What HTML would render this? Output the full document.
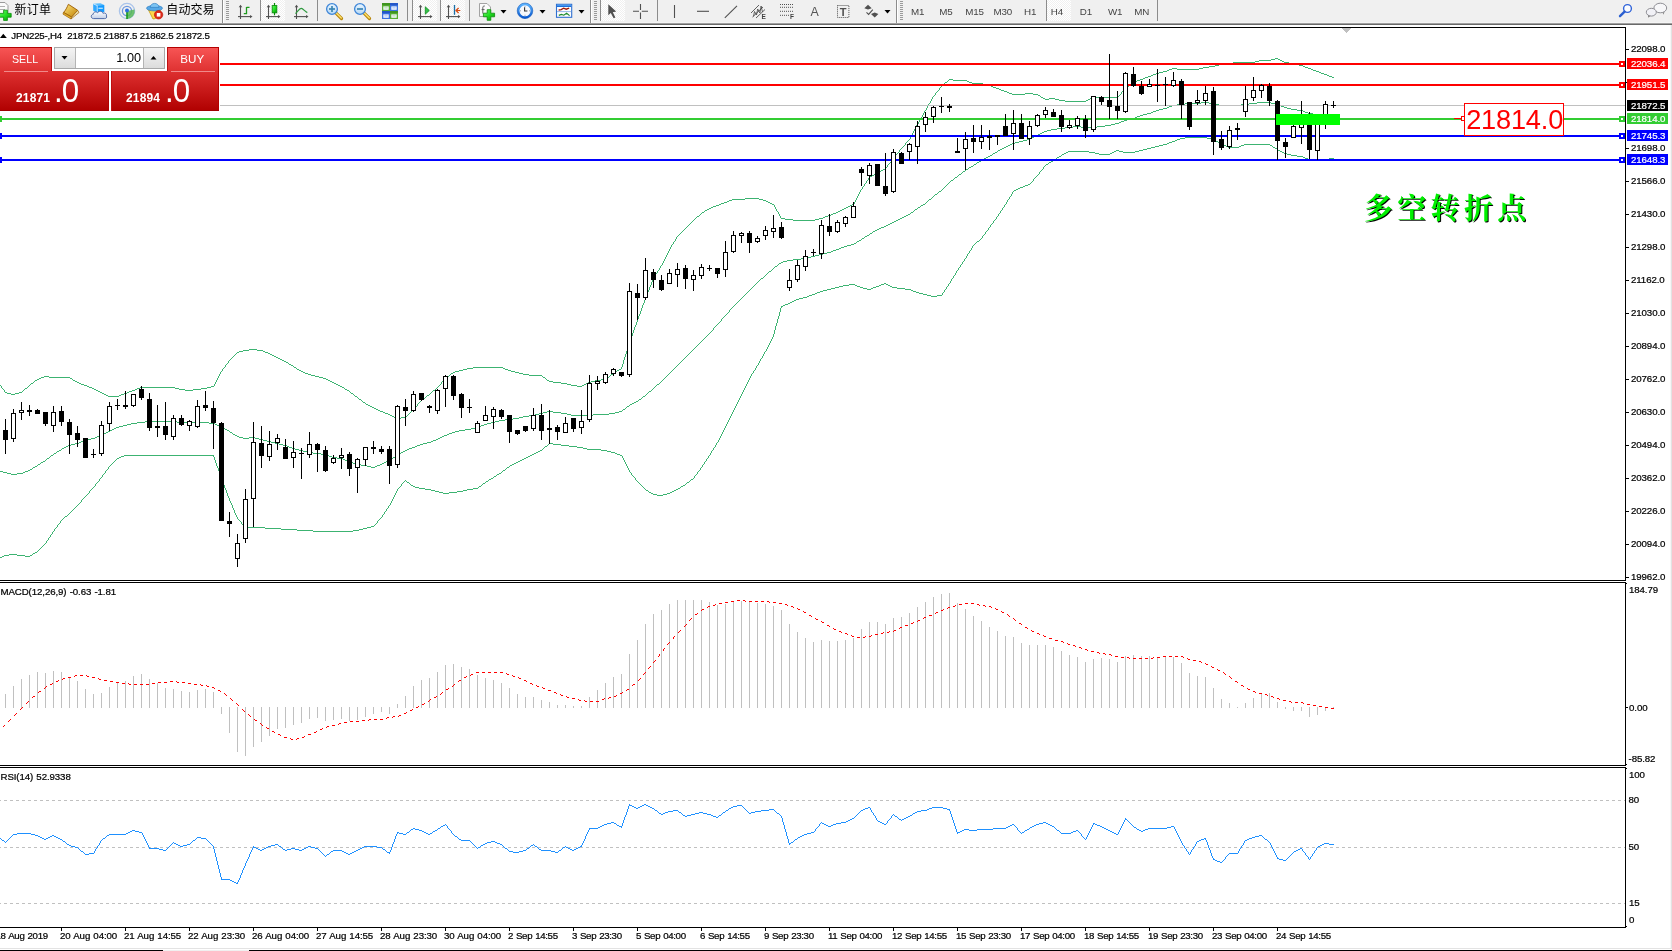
<!DOCTYPE html>
<html><head><meta charset="utf-8"><title>JPN225-,H4</title>
<style>
html,body{margin:0;padding:0;background:#fff;}
body{width:1672px;height:951px;position:relative;overflow:hidden;font-family:"Liberation Sans","Noto Sans CJK SC",sans-serif;}
svg.chart{position:absolute;left:0;top:0;}
.layer{position:absolute;left:0;top:0;width:1672px;height:951px;will-change:transform;}
.ax{position:absolute;font-size:9.7px;line-height:7px;height:7px;white-space:nowrap;color:#000;letter-spacing:-0.1px;word-spacing:0.6px;-webkit-text-stroke:0.22px currentColor;}
.ax::before{content:"";display:inline-block;height:7px;}
.wh{color:#fff;}
.big{position:absolute;left:1466.2px;top:106.6px;font-size:27.2px;line-height:26px;color:#ff0000;white-space:nowrap;letter-spacing:-0.2px;}
.cn{position:absolute;left:1364px;top:187.3px;font-family:"Noto Serif CJK SC","Noto Sans CJK SC",serif;font-weight:700;font-size:29px;line-height:40px;letter-spacing:4.3px;color:#00f000;text-shadow:1px 1px 0 #000;white-space:nowrap;}
svg.tb{position:absolute;left:0;top:0;}
svg.pn{position:absolute;left:0;top:47px;}
.tbt{position:absolute;white-space:nowrap;color:#000;}
.cn12{font-family:"Liberation Sans","Noto Sans CJK SC",sans-serif;font-size:12px;line-height:16px;letter-spacing:-0.2px;}
.tf{font-size:9.8px;line-height:7px;height:7px;color:#444;letter-spacing:-0.2px;}
.pt{position:absolute;white-space:nowrap;color:#fff;line-height:15px;}

</style></head><body>
<svg class="chart" width="1672" height="951" viewBox="0 0 1672 951" shape-rendering="crispEdges">
<rect x="0" y="27" width="1626" height="1" fill="#000"/>
<rect x="1625" y="27" width="1" height="901" fill="#000"/>
<rect x="0" y="580" width="1626" height="1" fill="#000"/>
<rect x="1625" y="581" width="1" height="1" fill="#fff"/>
<rect x="0" y="582" width="1626" height="1" fill="#000"/>
<rect x="0" y="765" width="1626" height="1" fill="#000"/>
<rect x="1625" y="766" width="1" height="1" fill="#fff"/>
<rect x="0" y="767" width="1626" height="1" fill="#000"/>
<rect x="0" y="927" width="1626" height="1" fill="#000"/>
<path d="M1275 58h3v1h-3zM1271 59h4v1h-4zM1278 59h2v1h-2zM1259 60h12v1h-12zM1280 60h2v1h-2zM1255 61h4v1h-4zM1282 61h2v1h-2zM1233 62h22v1h-22zM1284 62h5v1h-5zM1225 63h8v1h-8zM1289 63h6v1h-6zM1219 64h6v1h-6zM1295 64h4v1h-4zM1215 65h4v1h-4zM1299 65h4v1h-4zM1209 66h6v1h-6zM1303 66h2v1h-2zM1203 67h6v1h-6zM1305 67h3v1h-3zM1172 68h5v1h-5zM1199 68h4v1h-4zM1308 68h3v1h-3zM1169 69h3v1h-3zM1177 69h22v1h-22zM1311 69h2v1h-2zM1167 70h2v1h-2zM1313 70h3v1h-3zM1163 71h4v1h-4zM1316 71h3v1h-3zM1159 72h4v1h-4zM1319 72h2v1h-2zM1156 73h3v1h-3zM1321 73h3v1h-3zM1153 74h3v1h-3zM1324 74h3v1h-3zM1151 75h2v1h-2zM1327 75h2v1h-2zM1148 76h3v1h-3zM1329 76h3v1h-3zM1145 77h3v1h-3zM1332 77h2v1h-2zM1143 78h2v1h-2zM949 79h4v1h-4zM1140 79h3v1h-3zM948 80h1v1h-1zM953 80h14v1h-14zM1137 80h3v1h-3zM947 81h1v1h-1zM967 81h2v1h-2zM1135 81h2v1h-2zM945 82h2v1h-2zM969 82h3v1h-3zM1133 82h2v1h-2zM944 83h1v1h-1zM972 83h11v1h-11zM1131 83h2v1h-2zM943 84h1v1h-1zM983 84h4v1h-4zM1130 84h1v1h-1zM942 85h1v1h-1zM987 85h4v1h-4zM1129 85h1v1h-1zM941 86h1v1h-1zM991 86h2v1h-2zM1127 86h2v1h-2zM940 87h1v1h-1zM993 87h3v1h-3zM1126 87h1v1h-1zM939 88h1v1h-1zM996 88h3v1h-3zM1125 88h1v1h-1zM939 89h1v1h-1zM999 89h2v1h-2zM1124 89h1v1h-1zM938 90h1v1h-1zM1001 90h3v1h-3zM1123 90h1v1h-1zM937 91h1v1h-1zM1004 91h3v1h-3zM1122 91h1v1h-1zM936 92h1v1h-1zM1007 92h2v1h-2zM1121 92h1v1h-1zM935 93h1v1h-1zM1009 93h3v1h-3zM1025 93h8v1h-8zM1121 93h1v1h-1zM935 94h1v1h-1zM1012 94h13v1h-13zM1033 94h5v1h-5zM1120 94h1v1h-1zM934 95h1v1h-1zM1038 95h2v1h-2zM1119 95h1v1h-1zM933 96h1v1h-1zM1040 96h1v1h-1zM1118 96h1v1h-1zM932 97h1v1h-1zM1041 97h2v1h-2zM1092 97h26v1h-26zM932 98h1v1h-1zM1043 98h2v1h-2zM1049 98h6v1h-6zM1090 98h2v1h-2zM931 99h1v1h-1zM1045 99h4v1h-4zM1055 99h4v1h-4zM1088 99h2v1h-2zM931 100h1v1h-1zM1059 100h6v1h-6zM1086 100h2v1h-2zM930 101h1v1h-1zM1065 101h21v1h-21zM930 102h1v1h-1zM929 103h1v1h-1zM928 104h1v1h-1zM928 105h1v1h-1zM927 106h1v1h-1zM927 107h1v1h-1zM926 108h1v1h-1zM926 109h1v1h-1zM925 110h1v1h-1zM924 111h1v1h-1zM924 112h1v1h-1zM923 113h1v1h-1zM923 114h1v1h-1zM922 115h1v1h-1zM922 116h1v1h-1zM921 117h1v1h-1zM920 118h1v1h-1zM920 119h1v1h-1zM919 120h1v1h-1zM919 121h1v1h-1zM918 122h1v1h-1zM918 123h1v1h-1zM917 124h1v1h-1zM916 125h1v1h-1zM916 126h1v1h-1zM915 127h1v1h-1zM915 128h1v1h-1zM914 129h1v1h-1zM914 130h1v1h-1zM913 131h1v1h-1zM913 132h1v1h-1zM912 133h1v1h-1zM912 134h1v1h-1zM911 135h1v1h-1zM911 136h1v1h-1zM910 137h1v1h-1zM910 138h1v1h-1zM909 139h1v1h-1zM908 140h1v1h-1zM907 141h1v1h-1zM906 142h1v1h-1zM905 143h1v1h-1zM905 144h1v1h-1zM904 145h1v1h-1zM903 146h1v1h-1zM902 147h1v1h-1zM901 148h1v1h-1zM900 149h1v1h-1zM899 150h1v1h-1zM899 151h1v1h-1zM898 152h1v1h-1zM897 153h1v1h-1zM896 154h1v1h-1zM895 155h1v1h-1zM895 156h1v1h-1zM894 157h1v1h-1zM893 158h1v1h-1zM892 159h1v1h-1zM891 160h1v1h-1zM891 161h1v1h-1zM890 162h1v1h-1zM889 163h1v1h-1zM888 164h1v1h-1zM887 165h1v1h-1zM887 166h1v1h-1zM886 167h1v1h-1zM885 168h1v1h-1zM883 169h2v1h-2zM881 170h2v1h-2zM880 171h1v1h-1zM878 172h2v1h-2zM876 173h2v1h-2zM874 174h2v1h-2zM872 175h2v1h-2zM870 176h2v1h-2zM869 177h1v1h-1zM868 178h1v1h-1zM868 179h1v1h-1zM867 180h1v1h-1zM866 181h1v1h-1zM866 182h1v1h-1zM865 183h1v1h-1zM864 184h1v1h-1zM864 185h1v1h-1zM863 186h1v1h-1zM862 187h1v1h-1zM862 188h1v1h-1zM861 189h1v1h-1zM860 190h1v1h-1zM860 191h1v1h-1zM859 192h1v1h-1zM859 193h1v1h-1zM858 194h1v1h-1zM858 195h1v1h-1zM857 196h1v1h-1zM857 197h1v1h-1zM745 198h14v1h-14zM856 198h1v1h-1zM732 199h13v1h-13zM759 199h4v1h-4zM856 199h1v1h-1zM729 200h3v1h-3zM763 200h3v1h-3zM855 200h1v1h-1zM727 201h2v1h-2zM766 201h2v1h-2zM855 201h1v1h-1zM724 202h3v1h-3zM768 202h2v1h-2zM854 202h1v1h-1zM721 203h3v1h-3zM770 203h2v1h-2zM854 203h1v1h-1zM719 204h2v1h-2zM772 204h2v1h-2zM852 204h2v1h-2zM716 205h3v1h-3zM774 205h1v1h-1zM850 205h2v1h-2zM713 206h3v1h-3zM774 206h1v1h-1zM848 206h2v1h-2zM711 207h2v1h-2zM775 207h1v1h-1zM846 207h2v1h-2zM709 208h2v1h-2zM775 208h1v1h-1zM844 208h2v1h-2zM707 209h2v1h-2zM776 209h1v1h-1zM842 209h2v1h-2zM705 210h2v1h-2zM776 210h1v1h-1zM840 210h2v1h-2zM704 211h1v1h-1zM777 211h1v1h-1zM838 211h2v1h-2zM702 212h2v1h-2zM778 212h1v1h-1zM836 212h2v1h-2zM701 213h1v1h-1zM778 213h1v1h-1zM833 213h3v1h-3zM700 214h1v1h-1zM779 214h1v1h-1zM831 214h2v1h-2zM699 215h1v1h-1zM779 215h1v1h-1zM828 215h3v1h-3zM697 216h2v1h-2zM780 216h1v1h-1zM825 216h3v1h-3zM696 217h1v1h-1zM780 217h1v1h-1zM823 217h2v1h-2zM695 218h1v1h-1zM781 218h4v1h-4zM819 218h4v1h-4zM694 219h1v1h-1zM785 219h8v1h-8zM815 219h4v1h-4zM693 220h1v1h-1zM793 220h22v1h-22zM692 221h1v1h-1zM691 222h1v1h-1zM690 223h1v1h-1zM689 224h1v1h-1zM688 225h1v1h-1zM687 226h1v1h-1zM686 227h1v1h-1zM685 228h1v1h-1zM684 229h1v1h-1zM683 230h1v1h-1zM682 231h1v1h-1zM681 232h1v1h-1zM680 233h1v1h-1zM679 234h1v1h-1zM678 235h1v1h-1zM677 236h1v1h-1zM676 237h1v1h-1zM676 238h1v1h-1zM675 239h1v1h-1zM675 240h1v1h-1zM674 241h1v1h-1zM673 242h1v1h-1zM673 243h1v1h-1zM672 244h1v1h-1zM671 245h1v1h-1zM671 246h1v1h-1zM670 247h1v1h-1zM670 248h1v1h-1zM669 249h1v1h-1zM669 250h1v1h-1zM668 251h1v1h-1zM668 252h1v1h-1zM667 253h1v1h-1zM667 254h1v1h-1zM666 255h1v1h-1zM666 256h1v1h-1zM665 257h1v1h-1zM665 258h1v1h-1zM664 259h1v1h-1zM664 260h1v1h-1zM663 261h1v1h-1zM663 262h1v1h-1zM662 263h1v1h-1zM662 264h1v1h-1zM661 265h1v1h-1zM660 266h1v1h-1zM660 267h1v1h-1zM659 268h1v1h-1zM659 269h1v1h-1zM658 270h1v1h-1zM657 271h1v1h-1zM657 272h1v1h-1zM656 273h1v1h-1zM655 274h1v1h-1zM655 275h1v1h-1zM654 276h1v1h-1zM654 277h1v1h-1zM653 278h1v1h-1zM653 279h1v1h-1zM652 280h1v1h-1zM652 281h1v1h-1zM651 282h1v1h-1zM651 283h1v1h-1zM651 284h1v1h-1zM650 285h1v1h-1zM650 286h1v1h-1zM649 287h1v1h-1zM649 288h1v1h-1zM649 289h1v1h-1zM648 290h1v1h-1zM648 291h1v1h-1zM647 292h1v1h-1zM647 293h1v1h-1zM647 294h1v1h-1zM646 295h1v1h-1zM646 296h1v1h-1zM645 297h1v1h-1zM645 298h1v1h-1zM645 299h1v1h-1zM644 300h1v1h-1zM644 301h1v1h-1zM644 302h1v1h-1zM643 303h1v1h-1zM643 304h1v1h-1zM642 305h1v1h-1zM642 306h1v1h-1zM642 307h1v1h-1zM641 308h1v1h-1zM641 309h1v1h-1zM641 310h1v1h-1zM640 311h1v1h-1zM640 312h1v1h-1zM640 313h1v1h-1zM639 314h1v1h-1zM639 315h1v1h-1zM638 316h1v1h-1zM638 317h1v1h-1zM638 318h1v1h-1zM637 319h1v1h-1zM637 320h1v1h-1zM637 321h1v1h-1zM636 322h1v1h-1zM636 323h1v1h-1zM636 324h1v1h-1zM635 325h1v1h-1zM635 326h1v1h-1zM634 327h1v1h-1zM634 328h1v1h-1zM634 329h1v1h-1zM633 330h1v1h-1zM633 331h1v1h-1zM633 332h1v1h-1zM632 333h1v1h-1zM632 334h1v1h-1zM632 335h1v1h-1zM631 336h1v1h-1zM631 337h1v1h-1zM630 338h1v1h-1zM630 339h1v1h-1zM630 340h1v1h-1zM629 341h1v1h-1zM629 342h1v1h-1zM629 343h1v1h-1zM628 344h1v1h-1zM628 345h1v1h-1zM628 346h1v1h-1zM627 347h1v1h-1zM627 348h1v1h-1zM249 349h8v1h-8zM627 349h1v1h-1zM243 350h6v1h-6zM257 350h6v1h-6zM627 350h1v1h-1zM239 351h4v1h-4zM263 351h2v1h-2zM626 351h1v1h-1zM237 352h2v1h-2zM265 352h3v1h-3zM626 352h1v1h-1zM236 353h1v1h-1zM268 353h2v1h-2zM626 353h1v1h-1zM235 354h1v1h-1zM270 354h2v1h-2zM625 354h1v1h-1zM234 355h1v1h-1zM272 355h2v1h-2zM625 355h1v1h-1zM233 356h1v1h-1zM274 356h2v1h-2zM625 356h1v1h-1zM232 357h1v1h-1zM276 357h2v1h-2zM624 357h1v1h-1zM231 358h1v1h-1zM278 358h2v1h-2zM624 358h1v1h-1zM230 359h1v1h-1zM280 359h2v1h-2zM624 359h1v1h-1zM229 360h1v1h-1zM282 360h2v1h-2zM623 360h1v1h-1zM228 361h1v1h-1zM284 361h2v1h-2zM623 361h1v1h-1zM228 362h1v1h-1zM286 362h2v1h-2zM623 362h1v1h-1zM227 363h1v1h-1zM288 363h1v1h-1zM623 363h1v1h-1zM226 364h1v1h-1zM289 364h2v1h-2zM622 364h1v1h-1zM225 365h1v1h-1zM291 365h2v1h-2zM622 365h1v1h-1zM225 366h1v1h-1zM293 366h1v1h-1zM622 366h1v1h-1zM224 367h1v1h-1zM294 367h2v1h-2zM473 367h30v1h-30zM621 367h1v1h-1zM223 368h1v1h-1zM296 368h1v1h-1zM467 368h6v1h-6zM503 368h2v1h-2zM621 368h1v1h-1zM222 369h1v1h-1zM297 369h2v1h-2zM463 369h4v1h-4zM505 369h3v1h-3zM619 369h2v1h-2zM222 370h1v1h-1zM299 370h2v1h-2zM459 370h4v1h-4zM508 370h3v1h-3zM617 370h2v1h-2zM221 371h1v1h-1zM301 371h2v1h-2zM455 371h4v1h-4zM511 371h4v1h-4zM616 371h1v1h-1zM220 372h1v1h-1zM303 372h2v1h-2zM453 372h2v1h-2zM515 372h4v1h-4zM614 372h2v1h-2zM220 373h1v1h-1zM305 373h3v1h-3zM451 373h2v1h-2zM519 373h4v1h-4zM613 373h1v1h-1zM219 374h1v1h-1zM308 374h3v1h-3zM450 374h1v1h-1zM523 374h6v1h-6zM611 374h2v1h-2zM219 375h1v1h-1zM311 375h4v1h-4zM449 375h1v1h-1zM529 375h13v1h-13zM610 375h1v1h-1zM44 376h5v1h-5zM218 376h1v1h-1zM315 376h4v1h-4zM447 376h2v1h-2zM542 376h1v1h-1zM609 376h1v1h-1zM41 377h3v1h-3zM49 377h21v1h-21zM218 377h1v1h-1zM319 377h4v1h-4zM446 377h1v1h-1zM543 377h2v1h-2zM607 377h2v1h-2zM39 378h2v1h-2zM70 378h2v1h-2zM217 378h1v1h-1zM323 378h3v1h-3zM445 378h1v1h-1zM545 378h1v1h-1zM606 378h1v1h-1zM37 379h2v1h-2zM72 379h1v1h-1zM217 379h1v1h-1zM326 379h2v1h-2zM444 379h1v1h-1zM546 379h1v1h-1zM601 379h5v1h-5zM35 380h2v1h-2zM73 380h2v1h-2zM216 380h1v1h-1zM328 380h2v1h-2zM443 380h1v1h-1zM547 380h2v1h-2zM595 380h6v1h-6zM34 381h1v1h-1zM75 381h2v1h-2zM216 381h1v1h-1zM330 381h2v1h-2zM442 381h1v1h-1zM549 381h4v1h-4zM591 381h4v1h-4zM33 382h1v1h-1zM77 382h2v1h-2zM215 382h1v1h-1zM332 382h2v1h-2zM441 382h1v1h-1zM553 382h8v1h-8zM588 382h3v1h-3zM31 383h2v1h-2zM79 383h2v1h-2zM215 383h1v1h-1zM334 383h2v1h-2zM441 383h1v1h-1zM561 383h6v1h-6zM586 383h2v1h-2zM30 384h1v1h-1zM81 384h3v1h-3zM214 384h1v1h-1zM336 384h2v1h-2zM440 384h1v1h-1zM567 384h4v1h-4zM584 384h2v1h-2zM0 385h1v1h-1zM29 385h1v1h-1zM84 385h3v1h-3zM214 385h1v1h-1zM338 385h2v1h-2zM439 385h1v1h-1zM571 385h6v1h-6zM582 385h2v1h-2zM1 386h1v1h-1zM28 386h1v1h-1zM87 386h2v1h-2zM211 386h3v1h-3zM340 386h2v1h-2zM438 386h1v1h-1zM577 386h5v1h-5zM1 387h1v1h-1zM27 387h1v1h-1zM89 387h3v1h-3zM140 387h35v1h-35zM207 387h4v1h-4zM342 387h2v1h-2zM437 387h1v1h-1zM2 388h1v1h-1zM25 388h2v1h-2zM92 388h2v1h-2zM137 388h3v1h-3zM175 388h4v1h-4zM201 388h6v1h-6zM344 388h1v1h-1zM436 388h1v1h-1zM3 389h1v1h-1zM24 389h1v1h-1zM94 389h2v1h-2zM135 389h2v1h-2zM179 389h6v1h-6zM193 389h8v1h-8zM345 389h2v1h-2zM435 389h1v1h-1zM4 390h1v1h-1zM23 390h1v1h-1zM96 390h2v1h-2zM132 390h3v1h-3zM185 390h8v1h-8zM347 390h2v1h-2zM433 390h2v1h-2zM4 391h1v1h-1zM22 391h1v1h-1zM98 391h2v1h-2zM129 391h3v1h-3zM349 391h1v1h-1zM432 391h1v1h-1zM5 392h2v1h-2zM19 392h3v1h-3zM100 392h2v1h-2zM127 392h2v1h-2zM350 392h1v1h-1zM431 392h1v1h-1zM7 393h4v1h-4zM15 393h4v1h-4zM102 393h2v1h-2zM124 393h3v1h-3zM351 393h2v1h-2zM430 393h1v1h-1zM11 394h4v1h-4zM104 394h2v1h-2zM121 394h3v1h-3zM353 394h1v1h-1zM429 394h1v1h-1zM106 395h2v1h-2zM119 395h2v1h-2zM354 395h1v1h-1zM427 395h2v1h-2zM108 396h11v1h-11zM355 396h2v1h-2zM426 396h1v1h-1zM357 397h1v1h-1zM425 397h1v1h-1zM358 398h1v1h-1zM423 398h2v1h-2zM359 399h2v1h-2zM422 399h1v1h-1zM361 400h1v1h-1zM421 400h1v1h-1zM362 401h1v1h-1zM420 401h1v1h-1zM363 402h2v1h-2zM419 402h1v1h-1zM365 403h1v1h-1zM418 403h1v1h-1zM366 404h2v1h-2zM417 404h1v1h-1zM368 405h2v1h-2zM417 405h1v1h-1zM370 406h2v1h-2zM416 406h1v1h-1zM372 407h2v1h-2zM415 407h1v1h-1zM374 408h2v1h-2zM414 408h1v1h-1zM376 409h2v1h-2zM413 409h1v1h-1zM378 410h2v1h-2zM412 410h1v1h-1zM380 411h3v1h-3zM411 411h1v1h-1zM383 412h2v1h-2zM410 412h1v1h-1zM385 413h3v1h-3zM409 413h1v1h-1zM388 414h2v1h-2zM408 414h1v1h-1zM390 415h2v1h-2zM407 415h1v1h-1zM392 416h2v1h-2zM406 416h1v1h-1zM394 417h2v1h-2zM401 417h5v1h-5zM396 418h5v1h-5z" fill="#3cb371"/>
<path d="M1201 102h8v1h-8zM1257 102h14v1h-14zM1185 103h16v1h-16zM1209 103h6v1h-6zM1249 103h8v1h-8zM1271 103h4v1h-4zM1177 104h8v1h-8zM1215 104h4v1h-4zM1241 104h8v1h-8zM1275 104h4v1h-4zM1172 105h5v1h-5zM1219 105h22v1h-22zM1279 105h2v1h-2zM1169 106h3v1h-3zM1281 106h3v1h-3zM1167 107h2v1h-2zM1284 107h3v1h-3zM1163 108h4v1h-4zM1287 108h4v1h-4zM1159 109h4v1h-4zM1291 109h6v1h-6zM1156 110h3v1h-3zM1297 110h6v1h-6zM1153 111h3v1h-3zM1303 111h2v1h-2zM1151 112h2v1h-2zM1305 112h3v1h-3zM1147 113h4v1h-4zM1308 113h5v1h-5zM1143 114h4v1h-4zM1313 114h8v1h-8zM1140 115h3v1h-3zM1321 115h8v1h-8zM1137 116h3v1h-3zM1329 116h5v1h-5zM1135 117h2v1h-2zM1131 118h4v1h-4zM1127 119h4v1h-4zM1124 120h3v1h-3zM1121 121h3v1h-3zM1119 122h2v1h-2zM1115 123h4v1h-4zM1111 124h4v1h-4zM1105 125h6v1h-6zM1073 126h8v1h-8zM1097 126h8v1h-8zM1065 127h8v1h-8zM1081 127h16v1h-16zM1057 128h8v1h-8zM1051 129h6v1h-6zM1047 130h4v1h-4zM1044 131h3v1h-3zM1042 132h2v1h-2zM1040 133h2v1h-2zM1038 134h2v1h-2zM1036 135h2v1h-2zM1034 136h2v1h-2zM1032 137h2v1h-2zM1030 138h2v1h-2zM1027 139h3v1h-3zM1023 140h4v1h-4zM1019 141h4v1h-4zM1015 142h4v1h-4zM1012 143h3v1h-3zM1010 144h2v1h-2zM1008 145h2v1h-2zM1006 146h2v1h-2zM1004 147h2v1h-2zM1002 148h2v1h-2zM1000 149h2v1h-2zM998 150h2v1h-2zM997 151h1v1h-1zM995 152h2v1h-2zM993 153h2v1h-2zM992 154h1v1h-1zM990 155h2v1h-2zM988 156h2v1h-2zM986 157h2v1h-2zM984 158h2v1h-2zM982 159h2v1h-2zM981 160h1v1h-1zM979 161h2v1h-2zM977 162h2v1h-2zM976 163h1v1h-1zM974 164h2v1h-2zM973 165h1v1h-1zM971 166h2v1h-2zM969 167h2v1h-2zM968 168h1v1h-1zM966 169h2v1h-2zM965 170h1v1h-1zM963 171h2v1h-2zM962 172h1v1h-1zM961 173h1v1h-1zM959 174h2v1h-2zM958 175h1v1h-1zM957 176h1v1h-1zM955 177h2v1h-2zM954 178h1v1h-1zM953 179h1v1h-1zM951 180h2v1h-2zM950 181h1v1h-1zM949 182h1v1h-1zM948 183h1v1h-1zM947 184h1v1h-1zM946 185h1v1h-1zM945 186h1v1h-1zM944 187h1v1h-1zM943 188h1v1h-1zM942 189h1v1h-1zM941 190h1v1h-1zM939 191h2v1h-2zM938 192h1v1h-1zM937 193h1v1h-1zM935 194h2v1h-2zM934 195h1v1h-1zM933 196h1v1h-1zM932 197h1v1h-1zM931 198h1v1h-1zM929 199h2v1h-2zM928 200h1v1h-1zM927 201h1v1h-1zM926 202h1v1h-1zM925 203h1v1h-1zM923 204h2v1h-2zM921 205h2v1h-2zM920 206h1v1h-1zM918 207h2v1h-2zM917 208h1v1h-1zM915 209h2v1h-2zM914 210h1v1h-1zM913 211h1v1h-1zM911 212h2v1h-2zM910 213h1v1h-1zM908 214h2v1h-2zM906 215h2v1h-2zM904 216h2v1h-2zM902 217h2v1h-2zM900 218h2v1h-2zM898 219h2v1h-2zM896 220h2v1h-2zM894 221h2v1h-2zM892 222h2v1h-2zM890 223h2v1h-2zM888 224h2v1h-2zM886 225h2v1h-2zM884 226h2v1h-2zM881 227h3v1h-3zM879 228h2v1h-2zM877 229h2v1h-2zM875 230h2v1h-2zM873 231h2v1h-2zM872 232h1v1h-1zM870 233h2v1h-2zM869 234h1v1h-1zM867 235h2v1h-2zM865 236h2v1h-2zM864 237h1v1h-1zM862 238h2v1h-2zM861 239h1v1h-1zM859 240h2v1h-2zM857 241h2v1h-2zM856 242h1v1h-1zM854 243h2v1h-2zM851 244h3v1h-3zM847 245h4v1h-4zM844 246h3v1h-3zM841 247h3v1h-3zM839 248h2v1h-2zM836 249h3v1h-3zM833 250h3v1h-3zM831 251h2v1h-2zM827 252h4v1h-4zM823 253h4v1h-4zM819 254h4v1h-4zM815 255h4v1h-4zM811 256h4v1h-4zM807 257h4v1h-4zM801 258h6v1h-6zM793 259h8v1h-8zM787 260h6v1h-6zM783 261h4v1h-4zM781 262h2v1h-2zM779 263h2v1h-2zM778 264h1v1h-1zM777 265h1v1h-1zM775 266h2v1h-2zM774 267h1v1h-1zM773 268h1v1h-1zM772 269h1v1h-1zM771 270h1v1h-1zM769 271h2v1h-2zM768 272h1v1h-1zM767 273h1v1h-1zM766 274h1v1h-1zM765 275h1v1h-1zM764 276h1v1h-1zM763 277h1v1h-1zM761 278h2v1h-2zM760 279h1v1h-1zM759 280h1v1h-1zM758 281h1v1h-1zM757 282h1v1h-1zM756 283h1v1h-1zM755 284h1v1h-1zM754 285h1v1h-1zM753 286h1v1h-1zM752 287h1v1h-1zM751 288h1v1h-1zM750 289h1v1h-1zM749 290h1v1h-1zM748 291h1v1h-1zM747 292h1v1h-1zM746 293h1v1h-1zM745 294h1v1h-1zM744 295h1v1h-1zM743 296h1v1h-1zM742 297h1v1h-1zM741 298h1v1h-1zM740 299h1v1h-1zM739 300h1v1h-1zM738 301h1v1h-1zM737 302h1v1h-1zM736 303h1v1h-1zM735 304h1v1h-1zM734 305h1v1h-1zM733 306h1v1h-1zM732 307h1v1h-1zM731 308h1v1h-1zM730 309h1v1h-1zM729 310h1v1h-1zM729 311h1v1h-1zM728 312h1v1h-1zM727 313h1v1h-1zM726 314h1v1h-1zM725 315h1v1h-1zM724 316h1v1h-1zM723 317h1v1h-1zM722 318h1v1h-1zM721 319h1v1h-1zM721 320h1v1h-1zM720 321h1v1h-1zM719 322h1v1h-1zM718 323h1v1h-1zM717 324h1v1h-1zM716 325h1v1h-1zM715 326h1v1h-1zM714 327h1v1h-1zM713 328h1v1h-1zM713 329h1v1h-1zM712 330h1v1h-1zM711 331h1v1h-1zM710 332h1v1h-1zM709 333h1v1h-1zM708 334h1v1h-1zM707 335h1v1h-1zM706 336h1v1h-1zM705 337h1v1h-1zM704 338h1v1h-1zM703 339h1v1h-1zM702 340h1v1h-1zM701 341h1v1h-1zM700 342h1v1h-1zM699 343h1v1h-1zM698 344h1v1h-1zM697 345h1v1h-1zM696 346h1v1h-1zM695 347h1v1h-1zM694 348h1v1h-1zM693 349h1v1h-1zM692 350h1v1h-1zM691 351h1v1h-1zM690 352h1v1h-1zM689 353h1v1h-1zM688 354h1v1h-1zM687 355h1v1h-1zM686 356h1v1h-1zM685 357h1v1h-1zM684 358h1v1h-1zM683 359h1v1h-1zM682 360h1v1h-1zM681 361h1v1h-1zM680 362h1v1h-1zM679 363h1v1h-1zM678 364h1v1h-1zM677 365h1v1h-1zM676 366h1v1h-1zM675 367h1v1h-1zM674 368h1v1h-1zM673 369h1v1h-1zM672 370h1v1h-1zM671 371h1v1h-1zM670 372h1v1h-1zM669 373h1v1h-1zM668 374h1v1h-1zM667 375h1v1h-1zM666 376h1v1h-1zM665 377h1v1h-1zM664 378h1v1h-1zM663 379h1v1h-1zM662 380h1v1h-1zM661 381h1v1h-1zM660 382h1v1h-1zM659 383h1v1h-1zM657 384h2v1h-2zM656 385h1v1h-1zM655 386h1v1h-1zM654 387h1v1h-1zM653 388h1v1h-1zM652 389h1v1h-1zM651 390h1v1h-1zM649 391h2v1h-2zM648 392h1v1h-1zM647 393h1v1h-1zM646 394h1v1h-1zM645 395h1v1h-1zM643 396h2v1h-2zM642 397h1v1h-1zM641 398h1v1h-1zM639 399h2v1h-2zM638 400h1v1h-1zM636 401h2v1h-2zM634 402h2v1h-2zM632 403h2v1h-2zM630 404h2v1h-2zM629 405h1v1h-1zM627 406h2v1h-2zM626 407h1v1h-1zM625 408h1v1h-1zM623 409h2v1h-2zM622 410h1v1h-1zM547 411h6v1h-6zM619 411h3v1h-3zM543 412h4v1h-4zM553 412h8v1h-8zM615 412h4v1h-4zM539 413h4v1h-4zM561 413h6v1h-6zM609 413h6v1h-6zM535 414h4v1h-4zM567 414h4v1h-4zM593 414h16v1h-16zM529 415h6v1h-6zM571 415h22v1h-22zM523 416h6v1h-6zM519 417h4v1h-4zM513 418h6v1h-6zM505 419h8v1h-8zM499 420h6v1h-6zM145 421h32v1h-32zM495 421h4v1h-4zM137 422h8v1h-8zM177 422h32v1h-32zM491 422h4v1h-4zM131 423h6v1h-6zM209 423h6v1h-6zM487 423h4v1h-4zM127 424h4v1h-4zM215 424h2v1h-2zM484 424h3v1h-3zM123 425h4v1h-4zM217 425h3v1h-3zM481 425h3v1h-3zM119 426h4v1h-4zM220 426h2v1h-2zM479 426h2v1h-2zM116 427h3v1h-3zM222 427h2v1h-2zM475 427h4v1h-4zM114 428h2v1h-2zM224 428h1v1h-1zM471 428h4v1h-4zM112 429h2v1h-2zM225 429h2v1h-2zM465 429h6v1h-6zM110 430h2v1h-2zM227 430h2v1h-2zM459 430h6v1h-6zM108 431h2v1h-2zM229 431h1v1h-1zM455 431h4v1h-4zM106 432h2v1h-2zM230 432h2v1h-2zM452 432h3v1h-3zM104 433h2v1h-2zM232 433h1v1h-1zM449 433h3v1h-3zM102 434h2v1h-2zM233 434h2v1h-2zM447 434h2v1h-2zM100 435h2v1h-2zM235 435h2v1h-2zM444 435h3v1h-3zM97 436h3v1h-3zM237 436h2v1h-2zM442 436h2v1h-2zM95 437h2v1h-2zM239 437h4v1h-4zM249 437h6v1h-6zM440 437h2v1h-2zM91 438h4v1h-4zM243 438h6v1h-6zM255 438h4v1h-4zM438 438h2v1h-2zM87 439h4v1h-4zM259 439h4v1h-4zM436 439h2v1h-2zM84 440h3v1h-3zM263 440h4v1h-4zM433 440h3v1h-3zM81 441h3v1h-3zM267 441h4v1h-4zM431 441h2v1h-2zM79 442h2v1h-2zM271 442h4v1h-4zM427 442h4v1h-4zM75 443h4v1h-4zM275 443h4v1h-4zM423 443h4v1h-4zM71 444h4v1h-4zM279 444h4v1h-4zM420 444h3v1h-3zM68 445h3v1h-3zM283 445h4v1h-4zM417 445h3v1h-3zM66 446h2v1h-2zM287 446h2v1h-2zM415 446h2v1h-2zM64 447h2v1h-2zM289 447h3v1h-3zM412 447h3v1h-3zM62 448h2v1h-2zM292 448h3v1h-3zM409 448h3v1h-3zM61 449h1v1h-1zM295 449h4v1h-4zM407 449h2v1h-2zM59 450h2v1h-2zM299 450h4v1h-4zM405 450h2v1h-2zM57 451h2v1h-2zM303 451h4v1h-4zM403 451h2v1h-2zM56 452h1v1h-1zM307 452h6v1h-6zM401 452h2v1h-2zM54 453h2v1h-2zM313 453h8v1h-8zM400 453h1v1h-1zM53 454h1v1h-1zM321 454h6v1h-6zM398 454h2v1h-2zM51 455h2v1h-2zM327 455h2v1h-2zM397 455h1v1h-1zM50 456h1v1h-1zM329 456h3v1h-3zM395 456h2v1h-2zM49 457h1v1h-1zM332 457h5v1h-5zM393 457h2v1h-2zM47 458h2v1h-2zM337 458h6v1h-6zM392 458h1v1h-1zM46 459h1v1h-1zM343 459h2v1h-2zM390 459h2v1h-2zM45 460h1v1h-1zM345 460h3v1h-3zM388 460h2v1h-2zM43 461h2v1h-2zM348 461h3v1h-3zM386 461h2v1h-2zM41 462h2v1h-2zM351 462h2v1h-2zM384 462h2v1h-2zM40 463h1v1h-1zM353 463h3v1h-3zM382 463h2v1h-2zM38 464h2v1h-2zM356 464h5v1h-5zM380 464h2v1h-2zM37 465h1v1h-1zM361 465h6v1h-6zM377 465h3v1h-3zM35 466h2v1h-2zM367 466h4v1h-4zM375 466h2v1h-2zM33 467h2v1h-2zM371 467h4v1h-4zM32 468h1v1h-1zM30 469h2v1h-2zM28 470h2v1h-2zM0 471h3v1h-3zM25 471h3v1h-3zM3 472h4v1h-4zM23 472h2v1h-2zM7 473h4v1h-4zM17 473h6v1h-6zM11 474h6v1h-6z" fill="#3cb371"/>
<path d="M1185 137h22v1h-22zM1180 138h5v1h-5zM1207 138h4v1h-4zM1177 139h3v1h-3zM1211 139h3v1h-3zM1175 140h2v1h-2zM1214 140h2v1h-2zM1172 141h3v1h-3zM1216 141h2v1h-2zM1169 142h3v1h-3zM1218 142h2v1h-2zM1167 143h2v1h-2zM1220 143h2v1h-2zM1163 144h4v1h-4zM1222 144h2v1h-2zM1244 144h26v1h-26zM1159 145h4v1h-4zM1224 145h2v1h-2zM1241 145h3v1h-3zM1270 145h2v1h-2zM1155 146h4v1h-4zM1226 146h2v1h-2zM1239 146h2v1h-2zM1272 146h1v1h-1zM1151 147h4v1h-4zM1228 147h11v1h-11zM1273 147h2v1h-2zM1147 148h4v1h-4zM1275 148h2v1h-2zM1143 149h4v1h-4zM1277 149h1v1h-1zM1116 150h3v1h-3zM1139 150h4v1h-4zM1278 150h2v1h-2zM1068 151h21v1h-21zM1114 151h2v1h-2zM1119 151h4v1h-4zM1135 151h4v1h-4zM1280 151h2v1h-2zM1066 152h2v1h-2zM1089 152h6v1h-6zM1112 152h2v1h-2zM1123 152h12v1h-12zM1282 152h2v1h-2zM1064 153h2v1h-2zM1095 153h4v1h-4zM1110 153h2v1h-2zM1284 153h3v1h-3zM1062 154h2v1h-2zM1099 154h11v1h-11zM1287 154h4v1h-4zM1061 155h1v1h-1zM1291 155h6v1h-6zM1059 156h2v1h-2zM1297 156h6v1h-6zM1057 157h2v1h-2zM1303 157h2v1h-2zM1056 158h1v1h-1zM1305 158h3v1h-3zM1329 158h5v1h-5zM1054 159h2v1h-2zM1308 159h21v1h-21zM1053 160h1v1h-1zM1051 161h2v1h-2zM1049 162h2v1h-2zM1048 163h1v1h-1zM1046 164h2v1h-2zM1045 165h1v1h-1zM1044 166h1v1h-1zM1043 167h1v1h-1zM1043 168h1v1h-1zM1042 169h1v1h-1zM1041 170h1v1h-1zM1040 171h1v1h-1zM1039 172h1v1h-1zM1039 173h1v1h-1zM1038 174h1v1h-1zM1037 175h1v1h-1zM1036 176h1v1h-1zM1035 177h1v1h-1zM1034 178h1v1h-1zM1033 179h1v1h-1zM1033 180h1v1h-1zM1032 181h1v1h-1zM1031 182h1v1h-1zM1030 183h1v1h-1zM1028 184h2v1h-2zM1025 185h3v1h-3zM1023 186h2v1h-2zM1020 187h3v1h-3zM1018 188h2v1h-2zM1016 189h2v1h-2zM1014 190h2v1h-2zM1013 191h1v1h-1zM1012 192h1v1h-1zM1012 193h1v1h-1zM1011 194h1v1h-1zM1011 195h1v1h-1zM1010 196h1v1h-1zM1009 197h1v1h-1zM1009 198h1v1h-1zM1008 199h1v1h-1zM1007 200h1v1h-1zM1007 201h1v1h-1zM1006 202h1v1h-1zM1006 203h1v1h-1zM1005 204h1v1h-1zM1004 205h1v1h-1zM1004 206h1v1h-1zM1003 207h1v1h-1zM1002 208h1v1h-1zM1002 209h1v1h-1zM1001 210h1v1h-1zM1000 211h1v1h-1zM1000 212h1v1h-1zM999 213h1v1h-1zM998 214h1v1h-1zM998 215h1v1h-1zM997 216h1v1h-1zM996 217h1v1h-1zM996 218h1v1h-1zM995 219h1v1h-1zM994 220h1v1h-1zM993 221h1v1h-1zM993 222h1v1h-1zM992 223h1v1h-1zM991 224h1v1h-1zM990 225h1v1h-1zM990 226h1v1h-1zM989 227h1v1h-1zM988 228h1v1h-1zM988 229h1v1h-1zM987 230h1v1h-1zM986 231h1v1h-1zM985 232h1v1h-1zM985 233h1v1h-1zM984 234h1v1h-1zM983 235h1v1h-1zM982 236h1v1h-1zM982 237h1v1h-1zM981 238h1v1h-1zM980 239h1v1h-1zM979 240h1v1h-1zM977 241h2v1h-2zM976 242h1v1h-1zM975 243h1v1h-1zM974 244h1v1h-1zM973 245h1v1h-1zM972 246h1v1h-1zM972 247h1v1h-1zM971 248h1v1h-1zM971 249h1v1h-1zM970 250h1v1h-1zM969 251h1v1h-1zM969 252h1v1h-1zM968 253h1v1h-1zM967 254h1v1h-1zM967 255h1v1h-1zM966 256h1v1h-1zM966 257h1v1h-1zM965 258h1v1h-1zM964 259h1v1h-1zM964 260h1v1h-1zM963 261h1v1h-1zM962 262h1v1h-1zM962 263h1v1h-1zM961 264h1v1h-1zM960 265h1v1h-1zM960 266h1v1h-1zM959 267h1v1h-1zM958 268h1v1h-1zM958 269h1v1h-1zM957 270h1v1h-1zM956 271h1v1h-1zM956 272h1v1h-1zM955 273h1v1h-1zM955 274h1v1h-1zM954 275h1v1h-1zM953 276h1v1h-1zM953 277h1v1h-1zM952 278h1v1h-1zM951 279h1v1h-1zM951 280h1v1h-1zM950 281h1v1h-1zM950 282h1v1h-1zM884 283h2v1h-2zM949 283h1v1h-1zM849 284h6v1h-6zM881 284h3v1h-3zM886 284h2v1h-2zM948 284h1v1h-1zM843 285h6v1h-6zM855 285h2v1h-2zM879 285h2v1h-2zM888 285h2v1h-2zM948 285h1v1h-1zM839 286h4v1h-4zM857 286h3v1h-3zM876 286h3v1h-3zM890 286h2v1h-2zM947 286h1v1h-1zM835 287h4v1h-4zM860 287h3v1h-3zM873 287h3v1h-3zM892 287h5v1h-5zM946 287h1v1h-1zM831 288h4v1h-4zM863 288h4v1h-4zM871 288h2v1h-2zM897 288h8v1h-8zM946 288h1v1h-1zM827 289h4v1h-4zM867 289h4v1h-4zM905 289h6v1h-6zM945 289h1v1h-1zM823 290h4v1h-4zM911 290h2v1h-2zM944 290h1v1h-1zM820 291h3v1h-3zM913 291h3v1h-3zM944 291h1v1h-1zM817 292h3v1h-3zM916 292h3v1h-3zM943 292h1v1h-1zM815 293h2v1h-2zM919 293h4v1h-4zM942 293h1v1h-1zM812 294h3v1h-3zM923 294h4v1h-4zM942 294h1v1h-1zM809 295h3v1h-3zM927 295h4v1h-4zM937 295h5v1h-5zM807 296h2v1h-2zM931 296h6v1h-6zM803 297h4v1h-4zM799 298h4v1h-4zM796 299h3v1h-3zM794 300h2v1h-2zM792 301h2v1h-2zM790 302h2v1h-2zM788 303h2v1h-2zM785 304h3v1h-3zM783 305h2v1h-2zM781 306h2v1h-2zM781 307h1v1h-1zM780 308h1v1h-1zM780 309h1v1h-1zM780 310h1v1h-1zM780 311h1v1h-1zM779 312h1v1h-1zM779 313h1v1h-1zM779 314h1v1h-1zM779 315h1v1h-1zM778 316h1v1h-1zM778 317h1v1h-1zM778 318h1v1h-1zM777 319h1v1h-1zM777 320h1v1h-1zM777 321h1v1h-1zM777 322h1v1h-1zM776 323h1v1h-1zM776 324h1v1h-1zM776 325h1v1h-1zM775 326h1v1h-1zM775 327h1v1h-1zM775 328h1v1h-1zM775 329h1v1h-1zM774 330h1v1h-1zM774 331h1v1h-1zM774 332h1v1h-1zM774 333h1v1h-1zM773 334h1v1h-1zM773 335h1v1h-1zM773 336h1v1h-1zM772 337h1v1h-1zM772 338h1v1h-1zM771 339h1v1h-1zM771 340h1v1h-1zM770 341h1v1h-1zM770 342h1v1h-1zM769 343h1v1h-1zM769 344h1v1h-1zM768 345h1v1h-1zM768 346h1v1h-1zM767 347h1v1h-1zM767 348h1v1h-1zM766 349h1v1h-1zM766 350h1v1h-1zM765 351h1v1h-1zM764 352h1v1h-1zM764 353h1v1h-1zM763 354h1v1h-1zM763 355h1v1h-1zM762 356h1v1h-1zM762 357h1v1h-1zM761 358h1v1h-1zM760 359h1v1h-1zM760 360h1v1h-1zM759 361h1v1h-1zM759 362h1v1h-1zM758 363h1v1h-1zM758 364h1v1h-1zM757 365h1v1h-1zM756 366h1v1h-1zM756 367h1v1h-1zM755 368h1v1h-1zM755 369h1v1h-1zM754 370h1v1h-1zM753 371h1v1h-1zM753 372h1v1h-1zM752 373h1v1h-1zM751 374h1v1h-1zM751 375h1v1h-1zM750 376h1v1h-1zM750 377h1v1h-1zM749 378h1v1h-1zM749 379h1v1h-1zM748 380h1v1h-1zM748 381h1v1h-1zM747 382h1v1h-1zM747 383h1v1h-1zM746 384h1v1h-1zM746 385h1v1h-1zM745 386h1v1h-1zM745 387h1v1h-1zM744 388h1v1h-1zM744 389h1v1h-1zM743 390h1v1h-1zM743 391h1v1h-1zM742 392h1v1h-1zM742 393h1v1h-1zM741 394h1v1h-1zM741 395h1v1h-1zM740 396h1v1h-1zM740 397h1v1h-1zM739 398h1v1h-1zM739 399h1v1h-1zM738 400h1v1h-1zM738 401h1v1h-1zM737 402h1v1h-1zM737 403h1v1h-1zM736 404h1v1h-1zM736 405h1v1h-1zM735 406h1v1h-1zM735 407h1v1h-1zM734 408h1v1h-1zM734 409h1v1h-1zM733 410h1v1h-1zM733 411h1v1h-1zM732 412h1v1h-1zM732 413h1v1h-1zM731 414h1v1h-1zM731 415h1v1h-1zM730 416h1v1h-1zM730 417h1v1h-1zM729 418h1v1h-1zM729 419h1v1h-1zM728 420h1v1h-1zM728 421h1v1h-1zM727 422h1v1h-1zM727 423h1v1h-1zM726 424h1v1h-1zM726 425h1v1h-1zM725 426h1v1h-1zM725 427h1v1h-1zM724 428h1v1h-1zM724 429h1v1h-1zM723 430h1v1h-1zM723 431h1v1h-1zM722 432h1v1h-1zM722 433h1v1h-1zM721 434h1v1h-1zM721 435h1v1h-1zM720 436h1v1h-1zM720 437h1v1h-1zM719 438h1v1h-1zM719 439h1v1h-1zM718 440h1v1h-1zM718 441h1v1h-1zM717 442h1v1h-1zM549 443h4v1h-4zM716 443h1v1h-1zM548 444h1v1h-1zM553 444h8v1h-8zM716 444h1v1h-1zM547 445h1v1h-1zM561 445h8v1h-8zM715 445h1v1h-1zM545 446h2v1h-2zM569 446h8v1h-8zM715 446h1v1h-1zM544 447h1v1h-1zM577 447h6v1h-6zM714 447h1v1h-1zM543 448h1v1h-1zM583 448h4v1h-4zM713 448h1v1h-1zM542 449h1v1h-1zM587 449h14v1h-14zM713 449h1v1h-1zM540 450h2v1h-2zM601 450h6v1h-6zM712 450h1v1h-1zM538 451h2v1h-2zM607 451h4v1h-4zM711 451h1v1h-1zM536 452h2v1h-2zM611 452h4v1h-4zM711 452h1v1h-1zM534 453h2v1h-2zM615 453h2v1h-2zM710 453h1v1h-1zM532 454h2v1h-2zM617 454h3v1h-3zM710 454h1v1h-1zM124 455h90v1h-90zM530 455h2v1h-2zM620 455h2v1h-2zM709 455h1v1h-1zM121 456h3v1h-3zM213 456h1v1h-1zM528 456h2v1h-2zM622 456h1v1h-1zM708 456h1v1h-1zM119 457h2v1h-2zM214 457h1v1h-1zM526 457h2v1h-2zM622 457h1v1h-1zM708 457h1v1h-1zM117 458h2v1h-2zM214 458h1v1h-1zM524 458h2v1h-2zM623 458h1v1h-1zM707 458h1v1h-1zM116 459h1v1h-1zM214 459h1v1h-1zM522 459h2v1h-2zM623 459h1v1h-1zM706 459h1v1h-1zM115 460h1v1h-1zM215 460h1v1h-1zM520 460h2v1h-2zM624 460h1v1h-1zM706 460h1v1h-1zM114 461h1v1h-1zM215 461h1v1h-1zM518 461h2v1h-2zM624 461h1v1h-1zM705 461h1v1h-1zM113 462h1v1h-1zM215 462h1v1h-1zM516 462h2v1h-2zM625 462h1v1h-1zM704 462h1v1h-1zM112 463h1v1h-1zM216 463h1v1h-1zM514 463h2v1h-2zM625 463h1v1h-1zM704 463h1v1h-1zM111 464h1v1h-1zM216 464h1v1h-1zM512 464h2v1h-2zM626 464h1v1h-1zM703 464h1v1h-1zM110 465h1v1h-1zM216 465h1v1h-1zM510 465h2v1h-2zM626 465h1v1h-1zM702 465h1v1h-1zM109 466h1v1h-1zM217 466h1v1h-1zM509 466h1v1h-1zM627 466h1v1h-1zM702 466h1v1h-1zM108 467h1v1h-1zM217 467h1v1h-1zM507 467h2v1h-2zM627 467h1v1h-1zM701 467h1v1h-1zM108 468h1v1h-1zM218 468h1v1h-1zM506 468h1v1h-1zM628 468h1v1h-1zM700 468h1v1h-1zM107 469h1v1h-1zM218 469h1v1h-1zM505 469h1v1h-1zM628 469h1v1h-1zM700 469h1v1h-1zM106 470h1v1h-1zM218 470h1v1h-1zM503 470h2v1h-2zM629 470h1v1h-1zM699 470h1v1h-1zM105 471h1v1h-1zM219 471h1v1h-1zM502 471h1v1h-1zM629 471h1v1h-1zM698 471h1v1h-1zM105 472h1v1h-1zM219 472h1v1h-1zM501 472h1v1h-1zM630 472h1v1h-1zM697 472h1v1h-1zM104 473h1v1h-1zM219 473h1v1h-1zM499 473h2v1h-2zM631 473h1v1h-1zM697 473h1v1h-1zM103 474h1v1h-1zM220 474h1v1h-1zM497 474h2v1h-2zM631 474h1v1h-1zM696 474h1v1h-1zM102 475h1v1h-1zM220 475h1v1h-1zM496 475h1v1h-1zM632 475h1v1h-1zM695 475h1v1h-1zM102 476h1v1h-1zM220 476h1v1h-1zM494 476h2v1h-2zM633 476h1v1h-1zM694 476h1v1h-1zM101 477h1v1h-1zM221 477h1v1h-1zM493 477h1v1h-1zM634 477h1v1h-1zM694 477h1v1h-1zM100 478h1v1h-1zM221 478h1v1h-1zM491 478h2v1h-2zM635 478h1v1h-1zM693 478h1v1h-1zM99 479h1v1h-1zM221 479h1v1h-1zM489 479h2v1h-2zM635 479h1v1h-1zM691 479h2v1h-2zM99 480h1v1h-1zM222 480h1v1h-1zM405 480h1v1h-1zM488 480h1v1h-1zM636 480h1v1h-1zM690 480h1v1h-1zM98 481h1v1h-1zM222 481h1v1h-1zM404 481h1v1h-1zM406 481h1v1h-1zM486 481h2v1h-2zM637 481h1v1h-1zM689 481h1v1h-1zM97 482h1v1h-1zM223 482h1v1h-1zM403 482h1v1h-1zM407 482h2v1h-2zM485 482h1v1h-1zM638 482h1v1h-1zM687 482h2v1h-2zM96 483h1v1h-1zM223 483h1v1h-1zM402 483h1v1h-1zM409 483h1v1h-1zM483 483h2v1h-2zM639 483h1v1h-1zM686 483h1v1h-1zM95 484h1v1h-1zM223 484h1v1h-1zM401 484h1v1h-1zM410 484h1v1h-1zM482 484h1v1h-1zM640 484h1v1h-1zM685 484h1v1h-1zM95 485h1v1h-1zM224 485h1v1h-1zM401 485h1v1h-1zM411 485h2v1h-2zM481 485h1v1h-1zM641 485h1v1h-1zM683 485h2v1h-2zM94 486h1v1h-1zM224 486h1v1h-1zM400 486h1v1h-1zM413 486h2v1h-2zM479 486h2v1h-2zM642 486h1v1h-1zM681 486h2v1h-2zM93 487h1v1h-1zM224 487h1v1h-1zM399 487h1v1h-1zM415 487h4v1h-4zM478 487h1v1h-1zM643 487h1v1h-1zM680 487h1v1h-1zM92 488h1v1h-1zM225 488h1v1h-1zM398 488h1v1h-1zM419 488h6v1h-6zM473 488h5v1h-5zM644 488h1v1h-1zM678 488h2v1h-2zM91 489h1v1h-1zM225 489h1v1h-1zM397 489h1v1h-1zM425 489h6v1h-6zM467 489h6v1h-6zM645 489h1v1h-1zM676 489h2v1h-2zM90 490h1v1h-1zM226 490h1v1h-1zM397 490h1v1h-1zM431 490h4v1h-4zM463 490h4v1h-4zM646 490h2v1h-2zM674 490h2v1h-2zM89 491h1v1h-1zM226 491h1v1h-1zM396 491h1v1h-1zM435 491h4v1h-4zM457 491h6v1h-6zM648 491h1v1h-1zM672 491h2v1h-2zM89 492h1v1h-1zM226 492h1v1h-1zM396 492h1v1h-1zM439 492h4v1h-4zM449 492h8v1h-8zM649 492h2v1h-2zM670 492h2v1h-2zM88 493h1v1h-1zM227 493h1v1h-1zM395 493h1v1h-1zM443 493h6v1h-6zM651 493h2v1h-2zM667 493h3v1h-3zM87 494h1v1h-1zM227 494h1v1h-1zM395 494h1v1h-1zM653 494h4v1h-4zM663 494h4v1h-4zM86 495h1v1h-1zM227 495h1v1h-1zM394 495h1v1h-1zM657 495h6v1h-6zM85 496h1v1h-1zM228 496h1v1h-1zM394 496h1v1h-1zM84 497h1v1h-1zM228 497h1v1h-1zM393 497h1v1h-1zM83 498h1v1h-1zM229 498h1v1h-1zM393 498h1v1h-1zM82 499h1v1h-1zM229 499h1v1h-1zM392 499h1v1h-1zM81 500h1v1h-1zM229 500h1v1h-1zM392 500h1v1h-1zM81 501h1v1h-1zM230 501h1v1h-1zM391 501h1v1h-1zM80 502h1v1h-1zM230 502h1v1h-1zM391 502h1v1h-1zM79 503h1v1h-1zM231 503h1v1h-1zM390 503h1v1h-1zM78 504h1v1h-1zM231 504h1v1h-1zM390 504h1v1h-1zM77 505h1v1h-1zM232 505h1v1h-1zM389 505h1v1h-1zM76 506h1v1h-1zM232 506h1v1h-1zM388 506h1v1h-1zM75 507h1v1h-1zM232 507h1v1h-1zM388 507h1v1h-1zM74 508h1v1h-1zM233 508h1v1h-1zM387 508h1v1h-1zM73 509h1v1h-1zM233 509h1v1h-1zM386 509h1v1h-1zM72 510h1v1h-1zM234 510h1v1h-1zM386 510h1v1h-1zM71 511h1v1h-1zM234 511h1v1h-1zM385 511h1v1h-1zM70 512h1v1h-1zM234 512h1v1h-1zM384 512h1v1h-1zM69 513h1v1h-1zM235 513h1v1h-1zM384 513h1v1h-1zM68 514h1v1h-1zM235 514h1v1h-1zM383 514h1v1h-1zM67 515h1v1h-1zM236 515h1v1h-1zM382 515h1v1h-1zM65 516h2v1h-2zM236 516h1v1h-1zM382 516h1v1h-1zM64 517h1v1h-1zM237 517h1v1h-1zM381 517h1v1h-1zM63 518h1v1h-1zM237 518h1v1h-1zM380 518h1v1h-1zM62 519h1v1h-1zM238 519h1v1h-1zM379 519h1v1h-1zM61 520h1v1h-1zM239 520h1v1h-1zM378 520h1v1h-1zM60 521h1v1h-1zM240 521h1v1h-1zM377 521h1v1h-1zM60 522h1v1h-1zM241 522h1v1h-1zM377 522h1v1h-1zM59 523h1v1h-1zM241 523h1v1h-1zM376 523h1v1h-1zM58 524h1v1h-1zM242 524h1v1h-1zM375 524h1v1h-1zM57 525h1v1h-1zM243 525h1v1h-1zM374 525h1v1h-1zM57 526h1v1h-1zM244 526h1v1h-1zM371 526h3v1h-3zM56 527h1v1h-1zM245 527h20v1h-20zM367 527h4v1h-4zM55 528h1v1h-1zM265 528h16v1h-16zM363 528h4v1h-4zM54 529h1v1h-1zM281 529h16v1h-16zM359 529h4v1h-4zM54 530h1v1h-1zM297 530h16v1h-16zM353 530h6v1h-6zM53 531h1v1h-1zM313 531h40v1h-40zM52 532h1v1h-1zM52 533h1v1h-1zM51 534h1v1h-1zM50 535h1v1h-1zM50 536h1v1h-1zM49 537h1v1h-1zM48 538h1v1h-1zM48 539h1v1h-1zM47 540h1v1h-1zM46 541h1v1h-1zM46 542h1v1h-1zM45 543h1v1h-1zM44 544h1v1h-1zM43 545h1v1h-1zM42 546h1v1h-1zM41 547h1v1h-1zM40 548h1v1h-1zM39 549h1v1h-1zM38 550h1v1h-1zM37 551h1v1h-1zM35 552h2v1h-2zM33 553h2v1h-2zM9 554h8v1h-8zM32 554h1v1h-1zM4 555h5v1h-5zM17 555h8v1h-8zM30 555h2v1h-2zM2 556h2v1h-2zM25 556h5v1h-5zM0 557h2v1h-2z" fill="#3cb371"/>
<rect x="0" y="105" width="1625" height="1" fill="#c0c0c0"/>
<rect x="0" y="63" width="1625" height="2" fill="#ff0000"/>
<rect x="0" y="84" width="1625" height="2" fill="#ff0000"/>
<rect x="0" y="118" width="1625" height="2" fill="#32cd32"/>
<rect x="0" y="135" width="1625" height="2" fill="#0000ff"/>
<rect x="0" y="159" width="1625" height="2" fill="#0000ff"/>
<rect x="1619" y="61" width="6" height="6" fill="#ff0000"/>
<rect x="1621" y="63" width="2" height="2" fill="#fff"/>
<rect x="1619" y="82" width="6" height="6" fill="#ff0000"/>
<rect x="1621" y="84" width="2" height="2" fill="#fff"/>
<rect x="1619" y="116" width="6" height="6" fill="#32cd32"/>
<rect x="1621" y="118" width="2" height="2" fill="#fff"/>
<rect x="1619" y="133" width="6" height="6" fill="#0000ff"/>
<rect x="1621" y="135" width="2" height="2" fill="#fff"/>
<rect x="1619" y="157" width="6" height="6" fill="#0000ff"/>
<rect x="1621" y="159" width="2" height="2" fill="#fff"/>
<rect x="0" y="116" width="2" height="6" fill="#32cd32"/>
<rect x="0" y="133" width="2" height="6" fill="#0000ff"/>
<rect x="0" y="157" width="2" height="6" fill="#0000ff"/>
<rect x="5" y="419" width="1" height="35" fill="#000"/>
<rect x="3" y="430" width="5" height="10" fill="#000"/>
<rect x="13" y="409" width="1" height="33" fill="#000"/>
<rect x="11" y="413" width="5" height="26" fill="#000"/>
<rect x="12" y="414" width="3" height="24" fill="#fff"/>
<rect x="21" y="402" width="1" height="18" fill="#000"/>
<rect x="19" y="410" width="5" height="3" fill="#000"/>
<rect x="20" y="411" width="3" height="1" fill="#fff"/>
<rect x="29" y="405" width="1" height="11" fill="#000"/>
<rect x="27" y="410" width="5" height="2" fill="#000"/>
<rect x="37" y="409" width="1" height="5" fill="#000"/>
<rect x="35" y="410" width="5" height="4" fill="#000"/>
<rect x="45" y="412" width="1" height="14" fill="#000"/>
<rect x="43" y="412" width="5" height="12" fill="#000"/>
<rect x="53" y="406" width="1" height="26" fill="#000"/>
<rect x="51" y="412" width="5" height="14" fill="#000"/>
<rect x="52" y="413" width="3" height="12" fill="#fff"/>
<rect x="61" y="406" width="1" height="20" fill="#000"/>
<rect x="59" y="411" width="5" height="11" fill="#000"/>
<rect x="69" y="419" width="1" height="35" fill="#000"/>
<rect x="67" y="422" width="5" height="13" fill="#000"/>
<rect x="77" y="426" width="1" height="21" fill="#000"/>
<rect x="75" y="433" width="5" height="7" fill="#000"/>
<rect x="85" y="438" width="1" height="20" fill="#000"/>
<rect x="83" y="438" width="5" height="20" fill="#000"/>
<rect x="93" y="449" width="1" height="9" fill="#000"/>
<rect x="91" y="454" width="5" height="1" fill="#000"/>
<rect x="101" y="421" width="1" height="35" fill="#000"/>
<rect x="99" y="425" width="5" height="29" fill="#000"/>
<rect x="100" y="426" width="3" height="27" fill="#fff"/>
<rect x="109" y="402" width="1" height="29" fill="#000"/>
<rect x="107" y="406" width="5" height="18" fill="#000"/>
<rect x="108" y="407" width="3" height="16" fill="#fff"/>
<rect x="117" y="399" width="1" height="11" fill="#000"/>
<rect x="115" y="405" width="5" height="1" fill="#000"/>
<rect x="125" y="391" width="1" height="18" fill="#000"/>
<rect x="123" y="405" width="5" height="2" fill="#000"/>
<rect x="133" y="394" width="1" height="13" fill="#000"/>
<rect x="131" y="394" width="5" height="12" fill="#000"/>
<rect x="132" y="395" width="3" height="10" fill="#fff"/>
<rect x="141" y="386" width="1" height="14" fill="#000"/>
<rect x="139" y="389" width="5" height="9" fill="#000"/>
<rect x="149" y="393" width="1" height="38" fill="#000"/>
<rect x="147" y="399" width="5" height="29" fill="#000"/>
<rect x="157" y="405" width="1" height="32" fill="#000"/>
<rect x="155" y="426" width="5" height="2" fill="#000"/>
<rect x="165" y="402" width="1" height="38" fill="#000"/>
<rect x="163" y="426" width="5" height="9" fill="#000"/>
<rect x="173" y="415" width="1" height="25" fill="#000"/>
<rect x="171" y="418" width="5" height="19" fill="#000"/>
<rect x="172" y="419" width="3" height="17" fill="#fff"/>
<rect x="181" y="415" width="1" height="11" fill="#000"/>
<rect x="179" y="418" width="5" height="7" fill="#000"/>
<rect x="189" y="420" width="1" height="11" fill="#000"/>
<rect x="187" y="421" width="5" height="5" fill="#000"/>
<rect x="188" y="422" width="3" height="3" fill="#fff"/>
<rect x="197" y="400" width="1" height="28" fill="#000"/>
<rect x="195" y="406" width="5" height="21" fill="#000"/>
<rect x="196" y="407" width="3" height="19" fill="#fff"/>
<rect x="205" y="391" width="1" height="20" fill="#000"/>
<rect x="203" y="405" width="5" height="3" fill="#000"/>
<rect x="213" y="401" width="1" height="48" fill="#000"/>
<rect x="211" y="408" width="5" height="15" fill="#000"/>
<rect x="221" y="422" width="1" height="99" fill="#000"/>
<rect x="219" y="423" width="5" height="98" fill="#000"/>
<rect x="229" y="512" width="1" height="25" fill="#000"/>
<rect x="227" y="521" width="5" height="3" fill="#000"/>
<rect x="237" y="534" width="1" height="33" fill="#000"/>
<rect x="235" y="543" width="5" height="16" fill="#000"/>
<rect x="236" y="544" width="3" height="14" fill="#fff"/>
<rect x="245" y="489" width="1" height="54" fill="#000"/>
<rect x="243" y="499" width="5" height="40" fill="#000"/>
<rect x="244" y="500" width="3" height="38" fill="#fff"/>
<rect x="253" y="422" width="1" height="105" fill="#000"/>
<rect x="251" y="442" width="5" height="57" fill="#000"/>
<rect x="252" y="443" width="3" height="55" fill="#fff"/>
<rect x="261" y="426" width="1" height="42" fill="#000"/>
<rect x="259" y="443" width="5" height="13" fill="#000"/>
<rect x="269" y="431" width="1" height="30" fill="#000"/>
<rect x="267" y="444" width="5" height="13" fill="#000"/>
<rect x="268" y="445" width="3" height="11" fill="#fff"/>
<rect x="277" y="434" width="1" height="16" fill="#000"/>
<rect x="275" y="438" width="5" height="5" fill="#000"/>
<rect x="276" y="439" width="3" height="3" fill="#fff"/>
<rect x="285" y="439" width="1" height="20" fill="#000"/>
<rect x="283" y="447" width="5" height="12" fill="#000"/>
<rect x="293" y="441" width="1" height="27" fill="#000"/>
<rect x="291" y="452" width="5" height="6" fill="#000"/>
<rect x="292" y="453" width="3" height="4" fill="#fff"/>
<rect x="301" y="448" width="1" height="31" fill="#000"/>
<rect x="299" y="453" width="5" height="1" fill="#000"/>
<rect x="309" y="432" width="1" height="26" fill="#000"/>
<rect x="307" y="444" width="5" height="11" fill="#000"/>
<rect x="308" y="445" width="3" height="9" fill="#fff"/>
<rect x="317" y="443" width="1" height="29" fill="#000"/>
<rect x="315" y="444" width="5" height="6" fill="#000"/>
<rect x="325" y="446" width="1" height="26" fill="#000"/>
<rect x="323" y="450" width="5" height="21" fill="#000"/>
<rect x="333" y="455" width="1" height="9" fill="#000"/>
<rect x="331" y="458" width="5" height="5" fill="#000"/>
<rect x="332" y="459" width="3" height="3" fill="#fff"/>
<rect x="341" y="448" width="1" height="21" fill="#000"/>
<rect x="339" y="455" width="5" height="3" fill="#000"/>
<rect x="340" y="456" width="3" height="1" fill="#fff"/>
<rect x="349" y="452" width="1" height="24" fill="#000"/>
<rect x="347" y="454" width="5" height="15" fill="#000"/>
<rect x="357" y="458" width="1" height="35" fill="#000"/>
<rect x="355" y="459" width="5" height="9" fill="#000"/>
<rect x="356" y="460" width="3" height="7" fill="#fff"/>
<rect x="365" y="447" width="1" height="19" fill="#000"/>
<rect x="363" y="447" width="5" height="13" fill="#000"/>
<rect x="364" y="448" width="3" height="11" fill="#fff"/>
<rect x="373" y="441" width="1" height="13" fill="#000"/>
<rect x="371" y="447" width="5" height="2" fill="#000"/>
<rect x="381" y="446" width="1" height="8" fill="#000"/>
<rect x="379" y="449" width="5" height="3" fill="#000"/>
<rect x="389" y="446" width="1" height="38" fill="#000"/>
<rect x="387" y="449" width="5" height="17" fill="#000"/>
<rect x="397" y="405" width="1" height="63" fill="#000"/>
<rect x="395" y="406" width="5" height="59" fill="#000"/>
<rect x="396" y="407" width="3" height="57" fill="#fff"/>
<rect x="405" y="399" width="1" height="27" fill="#000"/>
<rect x="403" y="407" width="5" height="4" fill="#000"/>
<rect x="413" y="391" width="1" height="21" fill="#000"/>
<rect x="411" y="394" width="5" height="17" fill="#000"/>
<rect x="412" y="395" width="3" height="15" fill="#fff"/>
<rect x="421" y="393" width="1" height="8" fill="#000"/>
<rect x="419" y="393" width="5" height="7" fill="#000"/>
<rect x="429" y="405" width="1" height="8" fill="#000"/>
<rect x="427" y="406" width="5" height="2" fill="#000"/>
<rect x="437" y="389" width="1" height="25" fill="#000"/>
<rect x="435" y="390" width="5" height="21" fill="#000"/>
<rect x="436" y="391" width="3" height="19" fill="#fff"/>
<rect x="445" y="375" width="1" height="32" fill="#000"/>
<rect x="443" y="376" width="5" height="13" fill="#000"/>
<rect x="444" y="377" width="3" height="11" fill="#fff"/>
<rect x="453" y="375" width="1" height="25" fill="#000"/>
<rect x="451" y="376" width="5" height="20" fill="#000"/>
<rect x="461" y="393" width="1" height="25" fill="#000"/>
<rect x="459" y="394" width="5" height="14" fill="#000"/>
<rect x="469" y="399" width="1" height="14" fill="#000"/>
<rect x="467" y="407" width="5" height="1" fill="#000"/>
<rect x="477" y="421" width="1" height="12" fill="#000"/>
<rect x="475" y="423" width="5" height="10" fill="#000"/>
<rect x="476" y="424" width="3" height="8" fill="#fff"/>
<rect x="485" y="406" width="1" height="15" fill="#000"/>
<rect x="483" y="415" width="5" height="6" fill="#000"/>
<rect x="484" y="416" width="3" height="4" fill="#fff"/>
<rect x="493" y="407" width="1" height="22" fill="#000"/>
<rect x="491" y="409" width="5" height="8" fill="#000"/>
<rect x="492" y="410" width="3" height="6" fill="#fff"/>
<rect x="501" y="409" width="1" height="10" fill="#000"/>
<rect x="499" y="410" width="5" height="7" fill="#000"/>
<rect x="509" y="415" width="1" height="28" fill="#000"/>
<rect x="507" y="415" width="5" height="17" fill="#000"/>
<rect x="517" y="430" width="1" height="5" fill="#000"/>
<rect x="515" y="430" width="5" height="4" fill="#000"/>
<rect x="525" y="426" width="1" height="6" fill="#000"/>
<rect x="523" y="426" width="5" height="5" fill="#000"/>
<rect x="533" y="408" width="1" height="23" fill="#000"/>
<rect x="531" y="415" width="5" height="14" fill="#000"/>
<rect x="532" y="416" width="3" height="12" fill="#fff"/>
<rect x="541" y="404" width="1" height="36" fill="#000"/>
<rect x="539" y="415" width="5" height="16" fill="#000"/>
<rect x="549" y="410" width="1" height="34" fill="#000"/>
<rect x="547" y="428" width="5" height="2" fill="#000"/>
<rect x="557" y="425" width="1" height="15" fill="#000"/>
<rect x="555" y="427" width="5" height="5" fill="#000"/>
<rect x="565" y="417" width="1" height="16" fill="#000"/>
<rect x="563" y="423" width="5" height="10" fill="#000"/>
<rect x="564" y="424" width="3" height="8" fill="#fff"/>
<rect x="573" y="418" width="1" height="14" fill="#000"/>
<rect x="571" y="418" width="5" height="11" fill="#000"/>
<rect x="581" y="410" width="1" height="24" fill="#000"/>
<rect x="579" y="421" width="5" height="7" fill="#000"/>
<rect x="580" y="422" width="3" height="5" fill="#fff"/>
<rect x="589" y="375" width="1" height="47" fill="#000"/>
<rect x="587" y="383" width="5" height="37" fill="#000"/>
<rect x="588" y="384" width="3" height="35" fill="#fff"/>
<rect x="597" y="376" width="1" height="14" fill="#000"/>
<rect x="595" y="381" width="5" height="3" fill="#000"/>
<rect x="596" y="382" width="3" height="1" fill="#fff"/>
<rect x="605" y="372" width="1" height="12" fill="#000"/>
<rect x="603" y="374" width="5" height="9" fill="#000"/>
<rect x="604" y="375" width="3" height="7" fill="#fff"/>
<rect x="613" y="368" width="1" height="8" fill="#000"/>
<rect x="611" y="369" width="5" height="5" fill="#000"/>
<rect x="612" y="370" width="3" height="3" fill="#fff"/>
<rect x="621" y="372" width="1" height="5" fill="#000"/>
<rect x="619" y="372" width="5" height="4" fill="#000"/>
<rect x="629" y="283" width="1" height="94" fill="#000"/>
<rect x="627" y="291" width="5" height="84" fill="#000"/>
<rect x="628" y="292" width="3" height="82" fill="#fff"/>
<rect x="637" y="284" width="1" height="36" fill="#000"/>
<rect x="635" y="293" width="5" height="5" fill="#000"/>
<rect x="645" y="258" width="1" height="42" fill="#000"/>
<rect x="643" y="270" width="5" height="28" fill="#000"/>
<rect x="644" y="271" width="3" height="26" fill="#fff"/>
<rect x="653" y="269" width="1" height="19" fill="#000"/>
<rect x="651" y="272" width="5" height="8" fill="#000"/>
<rect x="661" y="275" width="1" height="16" fill="#000"/>
<rect x="659" y="280" width="5" height="10" fill="#000"/>
<rect x="669" y="269" width="1" height="15" fill="#000"/>
<rect x="667" y="273" width="5" height="11" fill="#000"/>
<rect x="668" y="274" width="3" height="9" fill="#fff"/>
<rect x="677" y="263" width="1" height="24" fill="#000"/>
<rect x="675" y="269" width="5" height="6" fill="#000"/>
<rect x="676" y="270" width="3" height="4" fill="#fff"/>
<rect x="685" y="265" width="1" height="24" fill="#000"/>
<rect x="683" y="268" width="5" height="11" fill="#000"/>
<rect x="693" y="270" width="1" height="21" fill="#000"/>
<rect x="691" y="275" width="5" height="5" fill="#000"/>
<rect x="692" y="276" width="3" height="3" fill="#fff"/>
<rect x="701" y="264" width="1" height="15" fill="#000"/>
<rect x="699" y="267" width="5" height="9" fill="#000"/>
<rect x="700" y="268" width="3" height="7" fill="#fff"/>
<rect x="709" y="265" width="1" height="6" fill="#000"/>
<rect x="707" y="268" width="5" height="1" fill="#000"/>
<rect x="717" y="268" width="1" height="10" fill="#000"/>
<rect x="715" y="268" width="5" height="6" fill="#000"/>
<rect x="725" y="241" width="1" height="36" fill="#000"/>
<rect x="723" y="252" width="5" height="18" fill="#000"/>
<rect x="724" y="253" width="3" height="16" fill="#fff"/>
<rect x="733" y="231" width="1" height="22" fill="#000"/>
<rect x="731" y="235" width="5" height="17" fill="#000"/>
<rect x="732" y="236" width="3" height="15" fill="#fff"/>
<rect x="741" y="232" width="1" height="11" fill="#000"/>
<rect x="739" y="233" width="5" height="3" fill="#000"/>
<rect x="740" y="234" width="3" height="1" fill="#fff"/>
<rect x="749" y="231" width="1" height="22" fill="#000"/>
<rect x="747" y="233" width="5" height="10" fill="#000"/>
<rect x="757" y="236" width="1" height="7" fill="#000"/>
<rect x="755" y="238" width="5" height="4" fill="#000"/>
<rect x="756" y="239" width="3" height="2" fill="#fff"/>
<rect x="765" y="226" width="1" height="14" fill="#000"/>
<rect x="763" y="230" width="5" height="6" fill="#000"/>
<rect x="764" y="231" width="3" height="4" fill="#fff"/>
<rect x="773" y="215" width="1" height="23" fill="#000"/>
<rect x="771" y="228" width="5" height="4" fill="#000"/>
<rect x="772" y="229" width="3" height="2" fill="#fff"/>
<rect x="781" y="222" width="1" height="17" fill="#000"/>
<rect x="779" y="227" width="5" height="11" fill="#000"/>
<rect x="789" y="269" width="1" height="22" fill="#000"/>
<rect x="787" y="280" width="5" height="8" fill="#000"/>
<rect x="788" y="281" width="3" height="6" fill="#fff"/>
<rect x="797" y="260" width="1" height="22" fill="#000"/>
<rect x="795" y="265" width="5" height="15" fill="#000"/>
<rect x="796" y="266" width="3" height="13" fill="#fff"/>
<rect x="805" y="250" width="1" height="21" fill="#000"/>
<rect x="803" y="256" width="5" height="11" fill="#000"/>
<rect x="804" y="257" width="3" height="9" fill="#fff"/>
<rect x="813" y="249" width="1" height="7" fill="#000"/>
<rect x="811" y="252" width="5" height="1" fill="#000"/>
<rect x="821" y="220" width="1" height="39" fill="#000"/>
<rect x="819" y="225" width="5" height="29" fill="#000"/>
<rect x="820" y="226" width="3" height="27" fill="#fff"/>
<rect x="829" y="214" width="1" height="22" fill="#000"/>
<rect x="827" y="226" width="5" height="6" fill="#000"/>
<rect x="837" y="220" width="1" height="13" fill="#000"/>
<rect x="835" y="222" width="5" height="10" fill="#000"/>
<rect x="836" y="223" width="3" height="8" fill="#fff"/>
<rect x="845" y="216" width="1" height="11" fill="#000"/>
<rect x="843" y="217" width="5" height="7" fill="#000"/>
<rect x="844" y="218" width="3" height="5" fill="#fff"/>
<rect x="853" y="202" width="1" height="16" fill="#000"/>
<rect x="851" y="206" width="5" height="12" fill="#000"/>
<rect x="852" y="207" width="3" height="10" fill="#fff"/>
<rect x="861" y="167" width="1" height="19" fill="#000"/>
<rect x="859" y="169" width="5" height="4" fill="#000"/>
<rect x="869" y="163" width="1" height="21" fill="#000"/>
<rect x="867" y="165" width="5" height="11" fill="#000"/>
<rect x="868" y="166" width="3" height="9" fill="#fff"/>
<rect x="877" y="164" width="1" height="22" fill="#000"/>
<rect x="875" y="164" width="5" height="22" fill="#000"/>
<rect x="885" y="153" width="1" height="43" fill="#000"/>
<rect x="883" y="186" width="5" height="8" fill="#000"/>
<rect x="893" y="149" width="1" height="44" fill="#000"/>
<rect x="891" y="152" width="5" height="40" fill="#000"/>
<rect x="892" y="153" width="3" height="38" fill="#fff"/>
<rect x="901" y="152" width="1" height="12" fill="#000"/>
<rect x="899" y="153" width="5" height="11" fill="#000"/>
<rect x="909" y="143" width="1" height="17" fill="#000"/>
<rect x="907" y="144" width="5" height="8" fill="#000"/>
<rect x="908" y="145" width="3" height="6" fill="#fff"/>
<rect x="917" y="121" width="1" height="43" fill="#000"/>
<rect x="915" y="126" width="5" height="21" fill="#000"/>
<rect x="916" y="127" width="3" height="19" fill="#fff"/>
<rect x="925" y="112" width="1" height="20" fill="#000"/>
<rect x="923" y="117" width="5" height="8" fill="#000"/>
<rect x="924" y="118" width="3" height="6" fill="#fff"/>
<rect x="933" y="106" width="1" height="17" fill="#000"/>
<rect x="931" y="107" width="5" height="10" fill="#000"/>
<rect x="932" y="108" width="3" height="8" fill="#fff"/>
<rect x="941" y="97" width="1" height="16" fill="#000"/>
<rect x="939" y="106" width="5" height="1" fill="#000"/>
<rect x="949" y="104" width="1" height="8" fill="#000"/>
<rect x="947" y="106" width="5" height="2" fill="#000"/>
<rect x="957" y="138" width="1" height="15" fill="#000"/>
<rect x="955" y="151" width="5" height="2" fill="#000"/>
<rect x="965" y="132" width="1" height="38" fill="#000"/>
<rect x="963" y="139" width="5" height="10" fill="#000"/>
<rect x="964" y="140" width="3" height="8" fill="#fff"/>
<rect x="973" y="125" width="1" height="28" fill="#000"/>
<rect x="971" y="138" width="5" height="4" fill="#000"/>
<rect x="981" y="125" width="1" height="24" fill="#000"/>
<rect x="979" y="137" width="5" height="5" fill="#000"/>
<rect x="980" y="138" width="3" height="3" fill="#fff"/>
<rect x="989" y="130" width="1" height="20" fill="#000"/>
<rect x="987" y="136" width="5" height="2" fill="#000"/>
<rect x="997" y="135" width="1" height="10" fill="#000"/>
<rect x="995" y="135" width="5" height="2" fill="#000"/>
<rect x="1005" y="114" width="1" height="22" fill="#000"/>
<rect x="1003" y="126" width="5" height="10" fill="#000"/>
<rect x="1013" y="110" width="1" height="40" fill="#000"/>
<rect x="1011" y="123" width="5" height="11" fill="#000"/>
<rect x="1012" y="124" width="3" height="9" fill="#fff"/>
<rect x="1021" y="114" width="1" height="25" fill="#000"/>
<rect x="1019" y="123" width="5" height="16" fill="#000"/>
<rect x="1029" y="121" width="1" height="24" fill="#000"/>
<rect x="1027" y="126" width="5" height="13" fill="#000"/>
<rect x="1028" y="127" width="3" height="11" fill="#fff"/>
<rect x="1037" y="114" width="1" height="13" fill="#000"/>
<rect x="1035" y="115" width="5" height="11" fill="#000"/>
<rect x="1036" y="116" width="3" height="9" fill="#fff"/>
<rect x="1045" y="107" width="1" height="11" fill="#000"/>
<rect x="1043" y="110" width="5" height="5" fill="#000"/>
<rect x="1044" y="111" width="3" height="3" fill="#fff"/>
<rect x="1053" y="109" width="1" height="8" fill="#000"/>
<rect x="1051" y="112" width="5" height="5" fill="#000"/>
<rect x="1061" y="110" width="1" height="22" fill="#000"/>
<rect x="1059" y="115" width="5" height="12" fill="#000"/>
<rect x="1069" y="120" width="1" height="9" fill="#000"/>
<rect x="1067" y="125" width="5" height="3" fill="#000"/>
<rect x="1068" y="126" width="3" height="1" fill="#fff"/>
<rect x="1077" y="116" width="1" height="13" fill="#000"/>
<rect x="1075" y="118" width="5" height="8" fill="#000"/>
<rect x="1076" y="119" width="3" height="6" fill="#fff"/>
<rect x="1085" y="115" width="1" height="23" fill="#000"/>
<rect x="1083" y="119" width="5" height="12" fill="#000"/>
<rect x="1093" y="96" width="1" height="36" fill="#000"/>
<rect x="1091" y="96" width="5" height="34" fill="#000"/>
<rect x="1092" y="97" width="3" height="32" fill="#fff"/>
<rect x="1101" y="96" width="1" height="9" fill="#000"/>
<rect x="1099" y="97" width="5" height="5" fill="#000"/>
<rect x="1109" y="54" width="1" height="65" fill="#000"/>
<rect x="1107" y="100" width="5" height="7" fill="#000"/>
<rect x="1117" y="91" width="1" height="28" fill="#000"/>
<rect x="1115" y="106" width="5" height="5" fill="#000"/>
<rect x="1125" y="72" width="1" height="41" fill="#000"/>
<rect x="1123" y="73" width="5" height="39" fill="#000"/>
<rect x="1124" y="74" width="3" height="37" fill="#fff"/>
<rect x="1133" y="67" width="1" height="20" fill="#000"/>
<rect x="1131" y="74" width="5" height="12" fill="#000"/>
<rect x="1141" y="81" width="1" height="14" fill="#000"/>
<rect x="1139" y="86" width="5" height="8" fill="#000"/>
<rect x="1149" y="79" width="1" height="8" fill="#000"/>
<rect x="1147" y="84" width="5" height="3" fill="#000"/>
<rect x="1148" y="85" width="3" height="1" fill="#fff"/>
<rect x="1157" y="69" width="1" height="33" fill="#000"/>
<rect x="1155" y="85" width="5" height="1" fill="#000"/>
<rect x="1165" y="77" width="1" height="29" fill="#000"/>
<rect x="1163" y="84" width="5" height="1" fill="#000"/>
<rect x="1173" y="72" width="1" height="15" fill="#000"/>
<rect x="1171" y="80" width="5" height="6" fill="#000"/>
<rect x="1172" y="81" width="3" height="4" fill="#fff"/>
<rect x="1181" y="79" width="1" height="40" fill="#000"/>
<rect x="1179" y="81" width="5" height="24" fill="#000"/>
<rect x="1189" y="102" width="1" height="28" fill="#000"/>
<rect x="1187" y="102" width="5" height="25" fill="#000"/>
<rect x="1197" y="90" width="1" height="15" fill="#000"/>
<rect x="1195" y="100" width="5" height="3" fill="#000"/>
<rect x="1196" y="101" width="3" height="1" fill="#fff"/>
<rect x="1205" y="86" width="1" height="19" fill="#000"/>
<rect x="1203" y="93" width="5" height="8" fill="#000"/>
<rect x="1204" y="94" width="3" height="6" fill="#fff"/>
<rect x="1213" y="87" width="1" height="68" fill="#000"/>
<rect x="1211" y="91" width="5" height="51" fill="#000"/>
<rect x="1221" y="131" width="1" height="19" fill="#000"/>
<rect x="1219" y="139" width="5" height="9" fill="#000"/>
<rect x="1229" y="126" width="1" height="23" fill="#000"/>
<rect x="1227" y="130" width="5" height="17" fill="#000"/>
<rect x="1228" y="131" width="3" height="15" fill="#fff"/>
<rect x="1237" y="123" width="1" height="17" fill="#000"/>
<rect x="1235" y="128" width="5" height="2" fill="#000"/>
<rect x="1245" y="86" width="1" height="31" fill="#000"/>
<rect x="1243" y="99" width="5" height="13" fill="#000"/>
<rect x="1244" y="100" width="3" height="11" fill="#fff"/>
<rect x="1253" y="77" width="1" height="24" fill="#000"/>
<rect x="1251" y="90" width="5" height="8" fill="#000"/>
<rect x="1252" y="91" width="3" height="6" fill="#fff"/>
<rect x="1261" y="84" width="1" height="14" fill="#000"/>
<rect x="1259" y="85" width="5" height="6" fill="#000"/>
<rect x="1260" y="86" width="3" height="4" fill="#fff"/>
<rect x="1269" y="83" width="1" height="23" fill="#000"/>
<rect x="1267" y="86" width="5" height="15" fill="#000"/>
<rect x="1277" y="100" width="1" height="60" fill="#000"/>
<rect x="1275" y="101" width="5" height="40" fill="#000"/>
<rect x="1285" y="138" width="1" height="20" fill="#000"/>
<rect x="1283" y="142" width="5" height="5" fill="#000"/>
<rect x="1293" y="125" width="1" height="13" fill="#000"/>
<rect x="1291" y="126" width="5" height="12" fill="#000"/>
<rect x="1292" y="127" width="3" height="10" fill="#fff"/>
<rect x="1301" y="101" width="1" height="43" fill="#000"/>
<rect x="1299" y="124" width="5" height="4" fill="#000"/>
<rect x="1300" y="125" width="3" height="2" fill="#fff"/>
<rect x="1309" y="112" width="1" height="47" fill="#000"/>
<rect x="1307" y="114" width="5" height="36" fill="#000"/>
<rect x="1317" y="114" width="1" height="46" fill="#000"/>
<rect x="1315" y="115" width="5" height="36" fill="#000"/>
<rect x="1316" y="116" width="3" height="34" fill="#fff"/>
<rect x="1325" y="101" width="1" height="28" fill="#000"/>
<rect x="1323" y="104" width="5" height="11" fill="#000"/>
<rect x="1324" y="105" width="3" height="9" fill="#fff"/>
<rect x="1333" y="101" width="1" height="7" fill="#000"/>
<rect x="1331" y="105" width="5" height="1" fill="#000"/>
<rect x="1276" y="114" width="64" height="11" fill="#00ff00"/>
<rect x="1342" y="28" width="9" height="1" fill="#c0c0c0"/>
<rect x="1343" y="29" width="7" height="1" fill="#c0c0c0"/>
<rect x="1344" y="30" width="5" height="1" fill="#c0c0c0"/>
<rect x="1345" y="31" width="3" height="1" fill="#c0c0c0"/>
<rect x="1346" y="32" width="1" height="1" fill="#c0c0c0"/>
<rect x="1627" y="58" width="41" height="11" fill="#ff0000"/>
<rect x="1627" y="79" width="41" height="11" fill="#ff0000"/>
<rect x="1627" y="100" width="41" height="11" fill="#000000"/>
<rect x="1627" y="113" width="41" height="11" fill="#32cd32"/>
<rect x="1627" y="130" width="41" height="11" fill="#0000ff"/>
<rect x="1627" y="154" width="41" height="11" fill="#0000ff"/>
<rect x="1626" y="49" width="3" height="1" fill="#000"/>
<rect x="1626" y="148" width="3" height="1" fill="#000"/>
<rect x="1626" y="181" width="3" height="1" fill="#000"/>
<rect x="1626" y="214" width="3" height="1" fill="#000"/>
<rect x="1626" y="247" width="3" height="1" fill="#000"/>
<rect x="1626" y="280" width="3" height="1" fill="#000"/>
<rect x="1626" y="313" width="3" height="1" fill="#000"/>
<rect x="1626" y="346" width="3" height="1" fill="#000"/>
<rect x="1626" y="379" width="3" height="1" fill="#000"/>
<rect x="1626" y="412" width="3" height="1" fill="#000"/>
<rect x="1626" y="445" width="3" height="1" fill="#000"/>
<rect x="1626" y="478" width="3" height="1" fill="#000"/>
<rect x="1626" y="511" width="3" height="1" fill="#000"/>
<rect x="1626" y="544" width="3" height="1" fill="#000"/>
<rect x="1626" y="577" width="3" height="1" fill="#000"/>
<rect x="1626" y="707" width="2" height="1" fill="#000"/>
<rect x="1626" y="583" width="1" height="1" fill="#000"/>
<rect x="1626" y="764" width="1" height="1" fill="#000"/>
<rect x="1626" y="768" width="1" height="1" fill="#000"/>
<rect x="1626" y="926" width="1" height="1" fill="#000"/>
<rect x="1464.5" y="103.5" width="99" height="32" fill="#fff" stroke="#ff0000" stroke-width="1"/>
<rect x="1454" y="118" width="8" height="1" fill="#ff0000"/>
<rect x="1461.5" y="116.5" width="3" height="4" fill="#fff" stroke="#ff0000" stroke-width="1"/>
<rect x="5" y="694" width="1" height="14" fill="#c0c0c0"/>
<rect x="13" y="686" width="1" height="22" fill="#c0c0c0"/>
<rect x="21" y="679" width="1" height="29" fill="#c0c0c0"/>
<rect x="29" y="675" width="1" height="33" fill="#c0c0c0"/>
<rect x="37" y="672" width="1" height="36" fill="#c0c0c0"/>
<rect x="45" y="673" width="1" height="35" fill="#c0c0c0"/>
<rect x="53" y="671" width="1" height="37" fill="#c0c0c0"/>
<rect x="61" y="672" width="1" height="36" fill="#c0c0c0"/>
<rect x="69" y="677" width="1" height="31" fill="#c0c0c0"/>
<rect x="77" y="681" width="1" height="27" fill="#c0c0c0"/>
<rect x="85" y="689" width="1" height="19" fill="#c0c0c0"/>
<rect x="93" y="694" width="1" height="14" fill="#c0c0c0"/>
<rect x="101" y="693" width="1" height="15" fill="#c0c0c0"/>
<rect x="109" y="687" width="1" height="21" fill="#c0c0c0"/>
<rect x="117" y="683" width="1" height="25" fill="#c0c0c0"/>
<rect x="125" y="681" width="1" height="27" fill="#c0c0c0"/>
<rect x="133" y="676" width="1" height="32" fill="#c0c0c0"/>
<rect x="141" y="674" width="1" height="34" fill="#c0c0c0"/>
<rect x="149" y="679" width="1" height="29" fill="#c0c0c0"/>
<rect x="157" y="683" width="1" height="25" fill="#c0c0c0"/>
<rect x="165" y="688" width="1" height="20" fill="#c0c0c0"/>
<rect x="173" y="689" width="1" height="19" fill="#c0c0c0"/>
<rect x="181" y="691" width="1" height="17" fill="#c0c0c0"/>
<rect x="189" y="692" width="1" height="16" fill="#c0c0c0"/>
<rect x="197" y="690" width="1" height="18" fill="#c0c0c0"/>
<rect x="205" y="689" width="1" height="19" fill="#c0c0c0"/>
<rect x="213" y="692" width="1" height="16" fill="#c0c0c0"/>
<rect x="221" y="707" width="1" height="7" fill="#c0c0c0"/>
<rect x="229" y="707" width="1" height="26" fill="#c0c0c0"/>
<rect x="237" y="707" width="1" height="45" fill="#c0c0c0"/>
<rect x="245" y="707" width="1" height="49" fill="#c0c0c0"/>
<rect x="253" y="707" width="1" height="40" fill="#c0c0c0"/>
<rect x="261" y="707" width="1" height="35" fill="#c0c0c0"/>
<rect x="269" y="707" width="1" height="29" fill="#c0c0c0"/>
<rect x="277" y="707" width="1" height="22" fill="#c0c0c0"/>
<rect x="285" y="707" width="1" height="21" fill="#c0c0c0"/>
<rect x="293" y="707" width="1" height="18" fill="#c0c0c0"/>
<rect x="301" y="707" width="1" height="16" fill="#c0c0c0"/>
<rect x="309" y="707" width="1" height="12" fill="#c0c0c0"/>
<rect x="317" y="707" width="1" height="11" fill="#c0c0c0"/>
<rect x="325" y="707" width="1" height="14" fill="#c0c0c0"/>
<rect x="333" y="707" width="1" height="13" fill="#c0c0c0"/>
<rect x="341" y="707" width="1" height="12" fill="#c0c0c0"/>
<rect x="349" y="707" width="1" height="14" fill="#c0c0c0"/>
<rect x="357" y="707" width="1" height="13" fill="#c0c0c0"/>
<rect x="365" y="707" width="1" height="10" fill="#c0c0c0"/>
<rect x="373" y="707" width="1" height="7" fill="#c0c0c0"/>
<rect x="381" y="707" width="1" height="5" fill="#c0c0c0"/>
<rect x="389" y="707" width="1" height="7" fill="#c0c0c0"/>
<rect x="397" y="704" width="1" height="4" fill="#c0c0c0"/>
<rect x="405" y="696" width="1" height="12" fill="#c0c0c0"/>
<rect x="413" y="686" width="1" height="22" fill="#c0c0c0"/>
<rect x="421" y="680" width="1" height="28" fill="#c0c0c0"/>
<rect x="429" y="678" width="1" height="30" fill="#c0c0c0"/>
<rect x="437" y="672" width="1" height="36" fill="#c0c0c0"/>
<rect x="445" y="665" width="1" height="43" fill="#c0c0c0"/>
<rect x="453" y="664" width="1" height="44" fill="#c0c0c0"/>
<rect x="461" y="667" width="1" height="41" fill="#c0c0c0"/>
<rect x="469" y="669" width="1" height="39" fill="#c0c0c0"/>
<rect x="477" y="675" width="1" height="33" fill="#c0c0c0"/>
<rect x="485" y="678" width="1" height="30" fill="#c0c0c0"/>
<rect x="493" y="680" width="1" height="28" fill="#c0c0c0"/>
<rect x="501" y="683" width="1" height="25" fill="#c0c0c0"/>
<rect x="509" y="688" width="1" height="20" fill="#c0c0c0"/>
<rect x="517" y="694" width="1" height="14" fill="#c0c0c0"/>
<rect x="525" y="697" width="1" height="11" fill="#c0c0c0"/>
<rect x="533" y="697" width="1" height="11" fill="#c0c0c0"/>
<rect x="541" y="700" width="1" height="8" fill="#c0c0c0"/>
<rect x="549" y="702" width="1" height="6" fill="#c0c0c0"/>
<rect x="557" y="705" width="1" height="3" fill="#c0c0c0"/>
<rect x="565" y="705" width="1" height="3" fill="#c0c0c0"/>
<rect x="573" y="706" width="1" height="2" fill="#c0c0c0"/>
<rect x="581" y="706" width="1" height="2" fill="#c0c0c0"/>
<rect x="589" y="697" width="1" height="11" fill="#c0c0c0"/>
<rect x="597" y="690" width="1" height="18" fill="#c0c0c0"/>
<rect x="605" y="683" width="1" height="25" fill="#c0c0c0"/>
<rect x="613" y="677" width="1" height="31" fill="#c0c0c0"/>
<rect x="621" y="674" width="1" height="34" fill="#c0c0c0"/>
<rect x="629" y="654" width="1" height="54" fill="#c0c0c0"/>
<rect x="637" y="640" width="1" height="68" fill="#c0c0c0"/>
<rect x="645" y="624" width="1" height="84" fill="#c0c0c0"/>
<rect x="653" y="614" width="1" height="94" fill="#c0c0c0"/>
<rect x="661" y="610" width="1" height="98" fill="#c0c0c0"/>
<rect x="669" y="604" width="1" height="104" fill="#c0c0c0"/>
<rect x="677" y="600" width="1" height="108" fill="#c0c0c0"/>
<rect x="685" y="600" width="1" height="108" fill="#c0c0c0"/>
<rect x="693" y="600" width="1" height="108" fill="#c0c0c0"/>
<rect x="701" y="600" width="1" height="108" fill="#c0c0c0"/>
<rect x="709" y="602" width="1" height="106" fill="#c0c0c0"/>
<rect x="717" y="605" width="1" height="103" fill="#c0c0c0"/>
<rect x="725" y="604" width="1" height="104" fill="#c0c0c0"/>
<rect x="733" y="602" width="1" height="106" fill="#c0c0c0"/>
<rect x="741" y="601" width="1" height="107" fill="#c0c0c0"/>
<rect x="749" y="602" width="1" height="106" fill="#c0c0c0"/>
<rect x="757" y="603" width="1" height="105" fill="#c0c0c0"/>
<rect x="765" y="604" width="1" height="104" fill="#c0c0c0"/>
<rect x="773" y="606" width="1" height="102" fill="#c0c0c0"/>
<rect x="781" y="610" width="1" height="98" fill="#c0c0c0"/>
<rect x="789" y="624" width="1" height="84" fill="#c0c0c0"/>
<rect x="797" y="632" width="1" height="76" fill="#c0c0c0"/>
<rect x="805" y="638" width="1" height="70" fill="#c0c0c0"/>
<rect x="813" y="642" width="1" height="66" fill="#c0c0c0"/>
<rect x="821" y="640" width="1" height="68" fill="#c0c0c0"/>
<rect x="829" y="641" width="1" height="67" fill="#c0c0c0"/>
<rect x="837" y="641" width="1" height="67" fill="#c0c0c0"/>
<rect x="845" y="640" width="1" height="68" fill="#c0c0c0"/>
<rect x="853" y="638" width="1" height="70" fill="#c0c0c0"/>
<rect x="861" y="629" width="1" height="79" fill="#c0c0c0"/>
<rect x="869" y="622" width="1" height="86" fill="#c0c0c0"/>
<rect x="877" y="622" width="1" height="86" fill="#c0c0c0"/>
<rect x="885" y="624" width="1" height="84" fill="#c0c0c0"/>
<rect x="893" y="618" width="1" height="90" fill="#c0c0c0"/>
<rect x="901" y="617" width="1" height="91" fill="#c0c0c0"/>
<rect x="909" y="613" width="1" height="95" fill="#c0c0c0"/>
<rect x="917" y="607" width="1" height="101" fill="#c0c0c0"/>
<rect x="925" y="602" width="1" height="106" fill="#c0c0c0"/>
<rect x="933" y="597" width="1" height="111" fill="#c0c0c0"/>
<rect x="941" y="594" width="1" height="114" fill="#c0c0c0"/>
<rect x="949" y="593" width="1" height="115" fill="#c0c0c0"/>
<rect x="957" y="603" width="1" height="105" fill="#c0c0c0"/>
<rect x="965" y="609" width="1" height="99" fill="#c0c0c0"/>
<rect x="973" y="616" width="1" height="92" fill="#c0c0c0"/>
<rect x="981" y="621" width="1" height="87" fill="#c0c0c0"/>
<rect x="989" y="627" width="1" height="81" fill="#c0c0c0"/>
<rect x="997" y="631" width="1" height="77" fill="#c0c0c0"/>
<rect x="1005" y="636" width="1" height="72" fill="#c0c0c0"/>
<rect x="1013" y="637" width="1" height="71" fill="#c0c0c0"/>
<rect x="1021" y="643" width="1" height="65" fill="#c0c0c0"/>
<rect x="1029" y="645" width="1" height="63" fill="#c0c0c0"/>
<rect x="1037" y="645" width="1" height="63" fill="#c0c0c0"/>
<rect x="1045" y="645" width="1" height="63" fill="#c0c0c0"/>
<rect x="1053" y="647" width="1" height="61" fill="#c0c0c0"/>
<rect x="1061" y="651" width="1" height="57" fill="#c0c0c0"/>
<rect x="1069" y="655" width="1" height="53" fill="#c0c0c0"/>
<rect x="1077" y="657" width="1" height="51" fill="#c0c0c0"/>
<rect x="1085" y="662" width="1" height="46" fill="#c0c0c0"/>
<rect x="1093" y="659" width="1" height="49" fill="#c0c0c0"/>
<rect x="1101" y="658" width="1" height="50" fill="#c0c0c0"/>
<rect x="1109" y="659" width="1" height="49" fill="#c0c0c0"/>
<rect x="1117" y="662" width="1" height="46" fill="#c0c0c0"/>
<rect x="1125" y="656" width="1" height="52" fill="#c0c0c0"/>
<rect x="1133" y="655" width="1" height="53" fill="#c0c0c0"/>
<rect x="1141" y="656" width="1" height="52" fill="#c0c0c0"/>
<rect x="1149" y="656" width="1" height="52" fill="#c0c0c0"/>
<rect x="1157" y="657" width="1" height="51" fill="#c0c0c0"/>
<rect x="1165" y="657" width="1" height="51" fill="#c0c0c0"/>
<rect x="1173" y="657" width="1" height="51" fill="#c0c0c0"/>
<rect x="1181" y="663" width="1" height="45" fill="#c0c0c0"/>
<rect x="1189" y="673" width="1" height="35" fill="#c0c0c0"/>
<rect x="1197" y="676" width="1" height="32" fill="#c0c0c0"/>
<rect x="1205" y="677" width="1" height="31" fill="#c0c0c0"/>
<rect x="1213" y="688" width="1" height="20" fill="#c0c0c0"/>
<rect x="1221" y="699" width="1" height="9" fill="#c0c0c0"/>
<rect x="1229" y="703" width="1" height="5" fill="#c0c0c0"/>
<rect x="1237" y="707" width="1" height="1" fill="#c0c0c0"/>
<rect x="1245" y="703" width="1" height="5" fill="#c0c0c0"/>
<rect x="1253" y="698" width="1" height="10" fill="#c0c0c0"/>
<rect x="1261" y="694" width="1" height="14" fill="#c0c0c0"/>
<rect x="1269" y="693" width="1" height="15" fill="#c0c0c0"/>
<rect x="1277" y="702" width="1" height="6" fill="#c0c0c0"/>
<rect x="1285" y="707" width="1" height="2" fill="#c0c0c0"/>
<rect x="1293" y="707" width="1" height="4" fill="#c0c0c0"/>
<rect x="1301" y="707" width="1" height="4" fill="#c0c0c0"/>
<rect x="1309" y="707" width="1" height="10" fill="#c0c0c0"/>
<rect x="1317" y="707" width="1" height="8" fill="#c0c0c0"/>
<rect x="1325" y="707" width="1" height="4" fill="#c0c0c0"/>
<rect x="1333" y="707" width="1" height="1" fill="#c0c0c0"/>
<path d="M737 600h3v1h-3zM743 600h2v1h-2zM731 601h3v1h-3zM745 601h1v1h-1zM749 601h3v1h-3zM755 601h3v1h-3zM761 601h3v1h-3zM767 601h2v1h-2zM725 602h3v1h-3zM769 602h1v1h-1zM773 602h3v1h-3zM719 603h3v1h-3zM779 603h3v1h-3zM965 603h3v1h-3zM971 603h3v1h-3zM715 604h1v1h-1zM785 604h2v1h-2zM959 604h3v1h-3zM977 604h2v1h-2zM713 605h2v1h-2zM787 605h1v1h-1zM955 605h1v1h-1zM979 605h1v1h-1zM983 605h2v1h-2zM708 606h2v1h-2zM791 606h2v1h-2zM953 606h2v1h-2zM985 606h1v1h-1zM989 606h2v1h-2zM707 607h1v1h-1zM793 607h1v1h-1zM948 607h2v1h-2zM991 607h1v1h-1zM797 608h1v1h-1zM947 608h1v1h-1zM995 608h1v1h-1zM702 609h2v1h-2zM798 609h2v1h-2zM943 609h1v1h-1zM996 609h2v1h-2zM701 610h1v1h-1zM941 610h2v1h-2zM803 611h1v1h-1zM1001 611h1v1h-1zM804 612h2v1h-2zM936 612h2v1h-2zM1002 612h2v1h-2zM697 613h1v1h-1zM935 613h1v1h-1zM695 614h2v1h-2zM1007 614h1v1h-1zM809 615h2v1h-2zM929 615h3v1h-3zM1008 615h1v1h-1zM811 616h1v1h-1zM1009 616h1v1h-1zM924 617h2v1h-2zM691 618h1v1h-1zM815 618h1v1h-1zM923 618h1v1h-1zM1013 618h1v1h-1zM690 619h1v1h-1zM816 619h2v1h-2zM1014 619h1v1h-1zM689 620h1v1h-1zM918 620h2v1h-2zM1015 620h1v1h-1zM821 621h1v1h-1zM917 621h1v1h-1zM822 622h2v1h-2zM913 622h1v1h-1zM911 623h2v1h-2zM1019 623h2v1h-2zM686 624h1v1h-1zM1021 624h1v1h-1zM685 625h1v1h-1zM827 625h2v1h-2zM905 625h3v1h-3zM684 626h1v1h-1zM829 626h1v1h-1zM900 627h2v1h-2zM1025 627h2v1h-2zM833 628h1v1h-1zM899 628h1v1h-1zM1027 628h1v1h-1zM834 629h2v1h-2zM680 630h1v1h-1zM894 630h2v1h-2zM1031 630h1v1h-1zM679 631h1v1h-1zM839 631h2v1h-2zM889 631h1v1h-1zM893 631h1v1h-1zM1032 631h2v1h-2zM678 632h1v1h-1zM841 632h1v1h-1zM883 632h1v1h-1zM887 632h2v1h-2zM845 633h2v1h-2zM881 633h2v1h-2zM1037 633h2v1h-2zM847 634h1v1h-1zM875 634h3v1h-3zM1039 634h1v1h-1zM851 635h1v1h-1zM871 635h1v1h-1zM1043 635h1v1h-1zM674 636h1v1h-1zM852 636h2v1h-2zM865 636h1v1h-1zM869 636h2v1h-2zM1044 636h2v1h-2zM673 637h1v1h-1zM857 637h3v1h-3zM863 637h2v1h-2zM673 638h1v1h-1zM1049 638h3v1h-3zM1055 640h3v1h-3zM1061 641h2v1h-2zM669 642h1v1h-1zM1063 642h1v1h-1zM668 643h1v1h-1zM1067 643h1v1h-1zM667 644h1v1h-1zM1068 644h2v1h-2zM1073 645h2v1h-2zM1075 646h1v1h-1zM1079 647h2v1h-2zM664 648h1v1h-1zM1081 648h1v1h-1zM663 649h1v1h-1zM1085 649h2v1h-2zM663 650h1v1h-1zM1087 650h1v1h-1zM1091 651h3v1h-3zM1097 652h2v1h-2zM1099 653h1v1h-1zM1103 653h2v1h-2zM659 654h1v1h-1zM1105 654h1v1h-1zM1109 654h2v1h-2zM659 655h1v1h-1zM1111 655h1v1h-1zM658 656h1v1h-1zM1115 656h3v1h-3zM1163 656h3v1h-3zM1169 656h3v1h-3zM1175 656h3v1h-3zM1181 656h2v1h-2zM1121 657h3v1h-3zM1127 657h2v1h-2zM1153 657h1v1h-1zM1157 657h3v1h-3zM1183 657h1v1h-1zM1129 658h1v1h-1zM1133 658h3v1h-3zM1139 658h3v1h-3zM1145 658h3v1h-3zM1151 658h2v1h-2zM1187 658h1v1h-1zM1188 659h2v1h-2zM655 660h1v1h-1zM1193 660h3v1h-3zM654 661h1v1h-1zM1199 661h2v1h-2zM653 662h1v1h-1zM1201 662h1v1h-1zM1205 663h1v1h-1zM1206 664h2v1h-2zM650 666h1v1h-1zM1211 666h1v1h-1zM649 667h1v1h-1zM1212 667h2v1h-2zM648 668h1v1h-1zM1217 669h1v1h-1zM1218 670h2v1h-2zM476 672h3v1h-3zM482 672h3v1h-3zM488 672h3v1h-3zM494 672h3v1h-3zM500 672h3v1h-3zM645 672h1v1h-1zM1223 672h1v1h-1zM506 673h1v1h-1zM644 673h1v1h-1zM1224 673h1v1h-1zM471 674h2v1h-2zM507 674h2v1h-2zM643 674h1v1h-1zM1225 674h1v1h-1zM75 675h2v1h-2zM80 675h3v1h-3zM86 675h1v1h-1zM470 675h1v1h-1zM512 675h1v1h-1zM74 676h1v1h-1zM87 676h2v1h-2zM466 676h1v1h-1zM513 676h2v1h-2zM1229 676h1v1h-1zM68 677h3v1h-3zM92 677h3v1h-3zM464 677h2v1h-2zM518 677h1v1h-1zM1230 677h1v1h-1zM63 678h2v1h-2zM98 678h1v1h-1zM519 678h2v1h-2zM640 678h1v1h-1zM1231 678h1v1h-1zM62 679h1v1h-1zM99 679h2v1h-2zM639 679h1v1h-1zM58 680h1v1h-1zM104 680h3v1h-3zM459 680h2v1h-2zM524 680h2v1h-2zM638 680h1v1h-1zM56 681h2v1h-2zM110 681h3v1h-3zM170 681h3v1h-3zM176 681h1v1h-1zM458 681h1v1h-1zM526 681h1v1h-1zM1235 681h2v1h-2zM116 682h3v1h-3zM158 682h3v1h-3zM164 682h3v1h-3zM177 682h2v1h-2zM182 682h3v1h-3zM1237 682h1v1h-1zM52 683h1v1h-1zM122 683h3v1h-3zM128 683h1v1h-1zM152 683h3v1h-3zM188 683h3v1h-3zM530 683h2v1h-2zM50 684h2v1h-2zM129 684h2v1h-2zM134 684h3v1h-3zM140 684h3v1h-3zM146 684h3v1h-3zM194 684h3v1h-3zM200 684h1v1h-1zM454 684h1v1h-1zM532 684h1v1h-1zM633 684h2v1h-2zM201 685h2v1h-2zM206 685h1v1h-1zM453 685h1v1h-1zM536 685h1v1h-1zM632 685h1v1h-1zM1241 685h2v1h-2zM46 686h1v1h-1zM207 686h2v1h-2zM452 686h1v1h-1zM537 686h2v1h-2zM1243 686h1v1h-1zM45 687h1v1h-1zM212 687h2v1h-2zM542 687h1v1h-1zM44 688h1v1h-1zM214 688h1v1h-1zM448 688h1v1h-1zM543 688h2v1h-2zM1247 688h1v1h-1zM446 689h2v1h-2zM627 689h2v1h-2zM1248 689h2v1h-2zM218 690h2v1h-2zM548 690h3v1h-3zM626 690h1v1h-1zM39 691h2v1h-2zM220 691h1v1h-1zM1253 691h2v1h-2zM38 692h1v1h-1zM442 692h1v1h-1zM554 692h2v1h-2zM622 692h1v1h-1zM1255 692h1v1h-1zM224 693h1v1h-1zM441 693h1v1h-1zM556 693h1v1h-1zM620 693h2v1h-2zM1259 693h3v1h-3zM225 694h1v1h-1zM440 694h1v1h-1zM560 694h1v1h-1zM1265 694h2v1h-2zM226 695h1v1h-1zM561 695h2v1h-2zM616 695h1v1h-1zM1267 695h1v1h-1zM33 696h2v1h-2zM436 696h1v1h-1zM566 696h1v1h-1zM614 696h2v1h-2zM1271 696h2v1h-2zM32 697h1v1h-1zM434 697h2v1h-2zM567 697h2v1h-2zM609 697h2v1h-2zM1273 697h1v1h-1zM230 698h1v1h-1zM572 698h3v1h-3zM604 698h1v1h-1zM608 698h1v1h-1zM1277 698h2v1h-2zM231 699h1v1h-1zM430 699h1v1h-1zM578 699h1v1h-1zM602 699h2v1h-2zM1279 699h1v1h-1zM232 700h1v1h-1zM429 700h1v1h-1zM579 700h2v1h-2zM584 700h1v1h-1zM1283 700h3v1h-3zM28 701h1v1h-1zM428 701h1v1h-1zM585 701h2v1h-2zM590 701h3v1h-3zM596 701h3v1h-3zM1289 701h2v1h-2zM27 702h1v1h-1zM1291 702h1v1h-1zM1295 702h3v1h-3zM1301 702h2v1h-2zM26 703h1v1h-1zM236 703h1v1h-1zM424 703h1v1h-1zM1303 703h1v1h-1zM237 704h1v1h-1zM422 704h2v1h-2zM1307 704h3v1h-3zM238 705h1v1h-1zM1313 705h3v1h-3zM418 706h1v1h-1zM1319 706h3v1h-3zM22 707h1v1h-1zM416 707h2v1h-2zM1325 707h3v1h-3zM21 708h1v1h-1zM1331 708h3v1h-3zM20 709h1v1h-1zM242 709h1v1h-1zM412 709h1v1h-1zM243 710h1v1h-1zM410 710h2v1h-2zM244 711h1v1h-1zM406 712h1v1h-1zM16 713h1v1h-1zM404 713h2v1h-2zM15 714h1v1h-1zM248 714h1v1h-1zM14 715h1v1h-1zM249 715h1v1h-1zM399 715h2v1h-2zM250 716h1v1h-1zM393 716h2v1h-2zM398 716h1v1h-1zM387 717h2v1h-2zM392 717h1v1h-1zM386 718h1v1h-1zM10 719h1v1h-1zM254 719h1v1h-1zM369 719h2v1h-2zM374 719h3v1h-3zM380 719h3v1h-3zM9 720h1v1h-1zM255 720h2v1h-2zM362 720h3v1h-3zM368 720h1v1h-1zM8 721h1v1h-1zM350 721h3v1h-3zM356 721h3v1h-3zM344 722h3v1h-3zM260 723h1v1h-1zM339 723h2v1h-2zM261 724h1v1h-1zM338 724h1v1h-1zM4 725h1v1h-1zM262 725h1v1h-1zM332 725h3v1h-3zM3 726h1v1h-1zM327 726h2v1h-2zM266 727h1v1h-1zM326 727h1v1h-1zM267 728h2v1h-2zM322 728h1v1h-1zM320 729h2v1h-2zM272 731h2v1h-2zM316 731h1v1h-1zM274 732h1v1h-1zM314 732h2v1h-2zM278 734h2v1h-2zM308 734h3v1h-3zM280 735h1v1h-1zM304 736h1v1h-1zM284 737h3v1h-3zM302 737h2v1h-2zM290 738h1v1h-1zM297 738h2v1h-2zM291 739h2v1h-2zM296 739h1v1h-1z" fill="#ff0000"/>
<path d="M0 800h1v1h-1zM4 800h3v1h-3zM10 800h3v1h-3zM16 800h3v1h-3zM22 800h3v1h-3zM28 800h3v1h-3zM34 800h3v1h-3zM40 800h3v1h-3zM46 800h3v1h-3zM52 800h3v1h-3zM58 800h3v1h-3zM64 800h3v1h-3zM70 800h3v1h-3zM76 800h3v1h-3zM82 800h3v1h-3zM88 800h3v1h-3zM94 800h3v1h-3zM100 800h3v1h-3zM106 800h3v1h-3zM112 800h3v1h-3zM118 800h3v1h-3zM124 800h3v1h-3zM130 800h3v1h-3zM136 800h3v1h-3zM142 800h3v1h-3zM148 800h3v1h-3zM154 800h3v1h-3zM160 800h3v1h-3zM166 800h3v1h-3zM172 800h3v1h-3zM178 800h3v1h-3zM184 800h3v1h-3zM190 800h3v1h-3zM196 800h3v1h-3zM202 800h3v1h-3zM208 800h3v1h-3zM214 800h3v1h-3zM220 800h3v1h-3zM226 800h3v1h-3zM232 800h3v1h-3zM238 800h3v1h-3zM244 800h3v1h-3zM250 800h3v1h-3zM256 800h3v1h-3zM262 800h3v1h-3zM268 800h3v1h-3zM274 800h3v1h-3zM280 800h3v1h-3zM286 800h3v1h-3zM292 800h3v1h-3zM298 800h3v1h-3zM304 800h3v1h-3zM310 800h3v1h-3zM316 800h3v1h-3zM322 800h3v1h-3zM328 800h3v1h-3zM334 800h3v1h-3zM340 800h3v1h-3zM346 800h3v1h-3zM352 800h3v1h-3zM358 800h3v1h-3zM364 800h3v1h-3zM370 800h3v1h-3zM376 800h3v1h-3zM382 800h3v1h-3zM388 800h3v1h-3zM394 800h3v1h-3zM400 800h3v1h-3zM406 800h3v1h-3zM412 800h3v1h-3zM418 800h3v1h-3zM424 800h3v1h-3zM430 800h3v1h-3zM436 800h3v1h-3zM442 800h3v1h-3zM448 800h3v1h-3zM454 800h3v1h-3zM460 800h3v1h-3zM466 800h3v1h-3zM472 800h3v1h-3zM478 800h3v1h-3zM484 800h3v1h-3zM490 800h3v1h-3zM496 800h3v1h-3zM502 800h3v1h-3zM508 800h3v1h-3zM514 800h3v1h-3zM520 800h3v1h-3zM526 800h3v1h-3zM532 800h3v1h-3zM538 800h3v1h-3zM544 800h3v1h-3zM550 800h3v1h-3zM556 800h3v1h-3zM562 800h3v1h-3zM568 800h3v1h-3zM574 800h3v1h-3zM580 800h3v1h-3zM586 800h3v1h-3zM592 800h3v1h-3zM598 800h3v1h-3zM604 800h3v1h-3zM610 800h3v1h-3zM616 800h3v1h-3zM622 800h3v1h-3zM628 800h3v1h-3zM634 800h3v1h-3zM640 800h3v1h-3zM646 800h3v1h-3zM652 800h3v1h-3zM658 800h3v1h-3zM664 800h3v1h-3zM670 800h3v1h-3zM676 800h3v1h-3zM682 800h3v1h-3zM688 800h3v1h-3zM694 800h3v1h-3zM700 800h3v1h-3zM706 800h3v1h-3zM712 800h3v1h-3zM718 800h3v1h-3zM724 800h3v1h-3zM730 800h3v1h-3zM736 800h3v1h-3zM742 800h3v1h-3zM748 800h3v1h-3zM754 800h3v1h-3zM760 800h3v1h-3zM766 800h3v1h-3zM772 800h3v1h-3zM778 800h3v1h-3zM784 800h3v1h-3zM790 800h3v1h-3zM796 800h3v1h-3zM802 800h3v1h-3zM808 800h3v1h-3zM814 800h3v1h-3zM820 800h3v1h-3zM826 800h3v1h-3zM832 800h3v1h-3zM838 800h3v1h-3zM844 800h3v1h-3zM850 800h3v1h-3zM856 800h3v1h-3zM862 800h3v1h-3zM868 800h3v1h-3zM874 800h3v1h-3zM880 800h3v1h-3zM886 800h3v1h-3zM892 800h3v1h-3zM898 800h3v1h-3zM904 800h3v1h-3zM910 800h3v1h-3zM916 800h3v1h-3zM922 800h3v1h-3zM928 800h3v1h-3zM934 800h3v1h-3zM940 800h3v1h-3zM946 800h3v1h-3zM952 800h3v1h-3zM958 800h3v1h-3zM964 800h3v1h-3zM970 800h3v1h-3zM976 800h3v1h-3zM982 800h3v1h-3zM988 800h3v1h-3zM994 800h3v1h-3zM1000 800h3v1h-3zM1006 800h3v1h-3zM1012 800h3v1h-3zM1018 800h3v1h-3zM1024 800h3v1h-3zM1030 800h3v1h-3zM1036 800h3v1h-3zM1042 800h3v1h-3zM1048 800h3v1h-3zM1054 800h3v1h-3zM1060 800h3v1h-3zM1066 800h3v1h-3zM1072 800h3v1h-3zM1078 800h3v1h-3zM1084 800h3v1h-3zM1090 800h3v1h-3zM1096 800h3v1h-3zM1102 800h3v1h-3zM1108 800h3v1h-3zM1114 800h3v1h-3zM1120 800h3v1h-3zM1126 800h3v1h-3zM1132 800h3v1h-3zM1138 800h3v1h-3zM1144 800h3v1h-3zM1150 800h3v1h-3zM1156 800h3v1h-3zM1162 800h3v1h-3zM1168 800h3v1h-3zM1174 800h3v1h-3zM1180 800h3v1h-3zM1186 800h3v1h-3zM1192 800h3v1h-3zM1198 800h3v1h-3zM1204 800h3v1h-3zM1210 800h3v1h-3zM1216 800h3v1h-3zM1222 800h3v1h-3zM1228 800h3v1h-3zM1234 800h3v1h-3zM1240 800h3v1h-3zM1246 800h3v1h-3zM1252 800h3v1h-3zM1258 800h3v1h-3zM1264 800h3v1h-3zM1270 800h3v1h-3zM1276 800h3v1h-3zM1282 800h3v1h-3zM1288 800h3v1h-3zM1294 800h3v1h-3zM1300 800h3v1h-3zM1306 800h3v1h-3zM1312 800h3v1h-3zM1318 800h3v1h-3zM1324 800h3v1h-3zM1330 800h3v1h-3zM1336 800h3v1h-3zM1342 800h3v1h-3zM1348 800h3v1h-3zM1354 800h3v1h-3zM1360 800h3v1h-3zM1366 800h3v1h-3zM1372 800h3v1h-3zM1378 800h3v1h-3zM1384 800h3v1h-3zM1390 800h3v1h-3zM1396 800h3v1h-3zM1402 800h3v1h-3zM1408 800h3v1h-3zM1414 800h3v1h-3zM1420 800h3v1h-3zM1426 800h3v1h-3zM1432 800h3v1h-3zM1438 800h3v1h-3zM1444 800h3v1h-3zM1450 800h3v1h-3zM1456 800h3v1h-3zM1462 800h3v1h-3zM1468 800h3v1h-3zM1474 800h3v1h-3zM1480 800h3v1h-3zM1486 800h3v1h-3zM1492 800h3v1h-3zM1498 800h3v1h-3zM1504 800h3v1h-3zM1510 800h3v1h-3zM1516 800h3v1h-3zM1522 800h3v1h-3zM1528 800h3v1h-3zM1534 800h3v1h-3zM1540 800h3v1h-3zM1546 800h3v1h-3zM1552 800h3v1h-3zM1558 800h3v1h-3zM1564 800h3v1h-3zM1570 800h3v1h-3zM1576 800h3v1h-3zM1582 800h3v1h-3zM1588 800h3v1h-3zM1594 800h3v1h-3zM1600 800h3v1h-3zM1606 800h3v1h-3zM1612 800h3v1h-3zM1618 800h3v1h-3zM1624 800h1v1h-1z" fill="#c0c0c0"/>
<path d="M0 847h1v1h-1zM4 847h3v1h-3zM10 847h3v1h-3zM16 847h3v1h-3zM22 847h3v1h-3zM28 847h3v1h-3zM34 847h3v1h-3zM40 847h3v1h-3zM46 847h3v1h-3zM52 847h3v1h-3zM58 847h3v1h-3zM64 847h3v1h-3zM70 847h3v1h-3zM76 847h3v1h-3zM82 847h3v1h-3zM88 847h3v1h-3zM94 847h3v1h-3zM100 847h3v1h-3zM106 847h3v1h-3zM112 847h3v1h-3zM118 847h3v1h-3zM124 847h3v1h-3zM130 847h3v1h-3zM136 847h3v1h-3zM142 847h3v1h-3zM148 847h3v1h-3zM154 847h3v1h-3zM160 847h3v1h-3zM166 847h3v1h-3zM172 847h3v1h-3zM178 847h3v1h-3zM184 847h3v1h-3zM190 847h3v1h-3zM196 847h3v1h-3zM202 847h3v1h-3zM208 847h3v1h-3zM214 847h3v1h-3zM220 847h3v1h-3zM226 847h3v1h-3zM232 847h3v1h-3zM238 847h3v1h-3zM244 847h3v1h-3zM250 847h3v1h-3zM256 847h3v1h-3zM262 847h3v1h-3zM268 847h3v1h-3zM274 847h3v1h-3zM280 847h3v1h-3zM286 847h3v1h-3zM292 847h3v1h-3zM298 847h3v1h-3zM304 847h3v1h-3zM310 847h3v1h-3zM316 847h3v1h-3zM322 847h3v1h-3zM328 847h3v1h-3zM334 847h3v1h-3zM340 847h3v1h-3zM346 847h3v1h-3zM352 847h3v1h-3zM358 847h3v1h-3zM364 847h3v1h-3zM370 847h3v1h-3zM376 847h3v1h-3zM382 847h3v1h-3zM388 847h3v1h-3zM394 847h3v1h-3zM400 847h3v1h-3zM406 847h3v1h-3zM412 847h3v1h-3zM418 847h3v1h-3zM424 847h3v1h-3zM430 847h3v1h-3zM436 847h3v1h-3zM442 847h3v1h-3zM448 847h3v1h-3zM454 847h3v1h-3zM460 847h3v1h-3zM466 847h3v1h-3zM472 847h3v1h-3zM478 847h3v1h-3zM484 847h3v1h-3zM490 847h3v1h-3zM496 847h3v1h-3zM502 847h3v1h-3zM508 847h3v1h-3zM514 847h3v1h-3zM520 847h3v1h-3zM526 847h3v1h-3zM532 847h3v1h-3zM538 847h3v1h-3zM544 847h3v1h-3zM550 847h3v1h-3zM556 847h3v1h-3zM562 847h3v1h-3zM568 847h3v1h-3zM574 847h3v1h-3zM580 847h3v1h-3zM586 847h3v1h-3zM592 847h3v1h-3zM598 847h3v1h-3zM604 847h3v1h-3zM610 847h3v1h-3zM616 847h3v1h-3zM622 847h3v1h-3zM628 847h3v1h-3zM634 847h3v1h-3zM640 847h3v1h-3zM646 847h3v1h-3zM652 847h3v1h-3zM658 847h3v1h-3zM664 847h3v1h-3zM670 847h3v1h-3zM676 847h3v1h-3zM682 847h3v1h-3zM688 847h3v1h-3zM694 847h3v1h-3zM700 847h3v1h-3zM706 847h3v1h-3zM712 847h3v1h-3zM718 847h3v1h-3zM724 847h3v1h-3zM730 847h3v1h-3zM736 847h3v1h-3zM742 847h3v1h-3zM748 847h3v1h-3zM754 847h3v1h-3zM760 847h3v1h-3zM766 847h3v1h-3zM772 847h3v1h-3zM778 847h3v1h-3zM784 847h3v1h-3zM790 847h3v1h-3zM796 847h3v1h-3zM802 847h3v1h-3zM808 847h3v1h-3zM814 847h3v1h-3zM820 847h3v1h-3zM826 847h3v1h-3zM832 847h3v1h-3zM838 847h3v1h-3zM844 847h3v1h-3zM850 847h3v1h-3zM856 847h3v1h-3zM862 847h3v1h-3zM868 847h3v1h-3zM874 847h3v1h-3zM880 847h3v1h-3zM886 847h3v1h-3zM892 847h3v1h-3zM898 847h3v1h-3zM904 847h3v1h-3zM910 847h3v1h-3zM916 847h3v1h-3zM922 847h3v1h-3zM928 847h3v1h-3zM934 847h3v1h-3zM940 847h3v1h-3zM946 847h3v1h-3zM952 847h3v1h-3zM958 847h3v1h-3zM964 847h3v1h-3zM970 847h3v1h-3zM976 847h3v1h-3zM982 847h3v1h-3zM988 847h3v1h-3zM994 847h3v1h-3zM1000 847h3v1h-3zM1006 847h3v1h-3zM1012 847h3v1h-3zM1018 847h3v1h-3zM1024 847h3v1h-3zM1030 847h3v1h-3zM1036 847h3v1h-3zM1042 847h3v1h-3zM1048 847h3v1h-3zM1054 847h3v1h-3zM1060 847h3v1h-3zM1066 847h3v1h-3zM1072 847h3v1h-3zM1078 847h3v1h-3zM1084 847h3v1h-3zM1090 847h3v1h-3zM1096 847h3v1h-3zM1102 847h3v1h-3zM1108 847h3v1h-3zM1114 847h3v1h-3zM1120 847h3v1h-3zM1126 847h3v1h-3zM1132 847h3v1h-3zM1138 847h3v1h-3zM1144 847h3v1h-3zM1150 847h3v1h-3zM1156 847h3v1h-3zM1162 847h3v1h-3zM1168 847h3v1h-3zM1174 847h3v1h-3zM1180 847h3v1h-3zM1186 847h3v1h-3zM1192 847h3v1h-3zM1198 847h3v1h-3zM1204 847h3v1h-3zM1210 847h3v1h-3zM1216 847h3v1h-3zM1222 847h3v1h-3zM1228 847h3v1h-3zM1234 847h3v1h-3zM1240 847h3v1h-3zM1246 847h3v1h-3zM1252 847h3v1h-3zM1258 847h3v1h-3zM1264 847h3v1h-3zM1270 847h3v1h-3zM1276 847h3v1h-3zM1282 847h3v1h-3zM1288 847h3v1h-3zM1294 847h3v1h-3zM1300 847h3v1h-3zM1306 847h3v1h-3zM1312 847h3v1h-3zM1318 847h3v1h-3zM1324 847h3v1h-3zM1330 847h3v1h-3zM1336 847h3v1h-3zM1342 847h3v1h-3zM1348 847h3v1h-3zM1354 847h3v1h-3zM1360 847h3v1h-3zM1366 847h3v1h-3zM1372 847h3v1h-3zM1378 847h3v1h-3zM1384 847h3v1h-3zM1390 847h3v1h-3zM1396 847h3v1h-3zM1402 847h3v1h-3zM1408 847h3v1h-3zM1414 847h3v1h-3zM1420 847h3v1h-3zM1426 847h3v1h-3zM1432 847h3v1h-3zM1438 847h3v1h-3zM1444 847h3v1h-3zM1450 847h3v1h-3zM1456 847h3v1h-3zM1462 847h3v1h-3zM1468 847h3v1h-3zM1474 847h3v1h-3zM1480 847h3v1h-3zM1486 847h3v1h-3zM1492 847h3v1h-3zM1498 847h3v1h-3zM1504 847h3v1h-3zM1510 847h3v1h-3zM1516 847h3v1h-3zM1522 847h3v1h-3zM1528 847h3v1h-3zM1534 847h3v1h-3zM1540 847h3v1h-3zM1546 847h3v1h-3zM1552 847h3v1h-3zM1558 847h3v1h-3zM1564 847h3v1h-3zM1570 847h3v1h-3zM1576 847h3v1h-3zM1582 847h3v1h-3zM1588 847h3v1h-3zM1594 847h3v1h-3zM1600 847h3v1h-3zM1606 847h3v1h-3zM1612 847h3v1h-3zM1618 847h3v1h-3zM1624 847h1v1h-1z" fill="#c0c0c0"/>
<path d="M0 903h1v1h-1zM4 903h3v1h-3zM10 903h3v1h-3zM16 903h3v1h-3zM22 903h3v1h-3zM28 903h3v1h-3zM34 903h3v1h-3zM40 903h3v1h-3zM46 903h3v1h-3zM52 903h3v1h-3zM58 903h3v1h-3zM64 903h3v1h-3zM70 903h3v1h-3zM76 903h3v1h-3zM82 903h3v1h-3zM88 903h3v1h-3zM94 903h3v1h-3zM100 903h3v1h-3zM106 903h3v1h-3zM112 903h3v1h-3zM118 903h3v1h-3zM124 903h3v1h-3zM130 903h3v1h-3zM136 903h3v1h-3zM142 903h3v1h-3zM148 903h3v1h-3zM154 903h3v1h-3zM160 903h3v1h-3zM166 903h3v1h-3zM172 903h3v1h-3zM178 903h3v1h-3zM184 903h3v1h-3zM190 903h3v1h-3zM196 903h3v1h-3zM202 903h3v1h-3zM208 903h3v1h-3zM214 903h3v1h-3zM220 903h3v1h-3zM226 903h3v1h-3zM232 903h3v1h-3zM238 903h3v1h-3zM244 903h3v1h-3zM250 903h3v1h-3zM256 903h3v1h-3zM262 903h3v1h-3zM268 903h3v1h-3zM274 903h3v1h-3zM280 903h3v1h-3zM286 903h3v1h-3zM292 903h3v1h-3zM298 903h3v1h-3zM304 903h3v1h-3zM310 903h3v1h-3zM316 903h3v1h-3zM322 903h3v1h-3zM328 903h3v1h-3zM334 903h3v1h-3zM340 903h3v1h-3zM346 903h3v1h-3zM352 903h3v1h-3zM358 903h3v1h-3zM364 903h3v1h-3zM370 903h3v1h-3zM376 903h3v1h-3zM382 903h3v1h-3zM388 903h3v1h-3zM394 903h3v1h-3zM400 903h3v1h-3zM406 903h3v1h-3zM412 903h3v1h-3zM418 903h3v1h-3zM424 903h3v1h-3zM430 903h3v1h-3zM436 903h3v1h-3zM442 903h3v1h-3zM448 903h3v1h-3zM454 903h3v1h-3zM460 903h3v1h-3zM466 903h3v1h-3zM472 903h3v1h-3zM478 903h3v1h-3zM484 903h3v1h-3zM490 903h3v1h-3zM496 903h3v1h-3zM502 903h3v1h-3zM508 903h3v1h-3zM514 903h3v1h-3zM520 903h3v1h-3zM526 903h3v1h-3zM532 903h3v1h-3zM538 903h3v1h-3zM544 903h3v1h-3zM550 903h3v1h-3zM556 903h3v1h-3zM562 903h3v1h-3zM568 903h3v1h-3zM574 903h3v1h-3zM580 903h3v1h-3zM586 903h3v1h-3zM592 903h3v1h-3zM598 903h3v1h-3zM604 903h3v1h-3zM610 903h3v1h-3zM616 903h3v1h-3zM622 903h3v1h-3zM628 903h3v1h-3zM634 903h3v1h-3zM640 903h3v1h-3zM646 903h3v1h-3zM652 903h3v1h-3zM658 903h3v1h-3zM664 903h3v1h-3zM670 903h3v1h-3zM676 903h3v1h-3zM682 903h3v1h-3zM688 903h3v1h-3zM694 903h3v1h-3zM700 903h3v1h-3zM706 903h3v1h-3zM712 903h3v1h-3zM718 903h3v1h-3zM724 903h3v1h-3zM730 903h3v1h-3zM736 903h3v1h-3zM742 903h3v1h-3zM748 903h3v1h-3zM754 903h3v1h-3zM760 903h3v1h-3zM766 903h3v1h-3zM772 903h3v1h-3zM778 903h3v1h-3zM784 903h3v1h-3zM790 903h3v1h-3zM796 903h3v1h-3zM802 903h3v1h-3zM808 903h3v1h-3zM814 903h3v1h-3zM820 903h3v1h-3zM826 903h3v1h-3zM832 903h3v1h-3zM838 903h3v1h-3zM844 903h3v1h-3zM850 903h3v1h-3zM856 903h3v1h-3zM862 903h3v1h-3zM868 903h3v1h-3zM874 903h3v1h-3zM880 903h3v1h-3zM886 903h3v1h-3zM892 903h3v1h-3zM898 903h3v1h-3zM904 903h3v1h-3zM910 903h3v1h-3zM916 903h3v1h-3zM922 903h3v1h-3zM928 903h3v1h-3zM934 903h3v1h-3zM940 903h3v1h-3zM946 903h3v1h-3zM952 903h3v1h-3zM958 903h3v1h-3zM964 903h3v1h-3zM970 903h3v1h-3zM976 903h3v1h-3zM982 903h3v1h-3zM988 903h3v1h-3zM994 903h3v1h-3zM1000 903h3v1h-3zM1006 903h3v1h-3zM1012 903h3v1h-3zM1018 903h3v1h-3zM1024 903h3v1h-3zM1030 903h3v1h-3zM1036 903h3v1h-3zM1042 903h3v1h-3zM1048 903h3v1h-3zM1054 903h3v1h-3zM1060 903h3v1h-3zM1066 903h3v1h-3zM1072 903h3v1h-3zM1078 903h3v1h-3zM1084 903h3v1h-3zM1090 903h3v1h-3zM1096 903h3v1h-3zM1102 903h3v1h-3zM1108 903h3v1h-3zM1114 903h3v1h-3zM1120 903h3v1h-3zM1126 903h3v1h-3zM1132 903h3v1h-3zM1138 903h3v1h-3zM1144 903h3v1h-3zM1150 903h3v1h-3zM1156 903h3v1h-3zM1162 903h3v1h-3zM1168 903h3v1h-3zM1174 903h3v1h-3zM1180 903h3v1h-3zM1186 903h3v1h-3zM1192 903h3v1h-3zM1198 903h3v1h-3zM1204 903h3v1h-3zM1210 903h3v1h-3zM1216 903h3v1h-3zM1222 903h3v1h-3zM1228 903h3v1h-3zM1234 903h3v1h-3zM1240 903h3v1h-3zM1246 903h3v1h-3zM1252 903h3v1h-3zM1258 903h3v1h-3zM1264 903h3v1h-3zM1270 903h3v1h-3zM1276 903h3v1h-3zM1282 903h3v1h-3zM1288 903h3v1h-3zM1294 903h3v1h-3zM1300 903h3v1h-3zM1306 903h3v1h-3zM1312 903h3v1h-3zM1318 903h3v1h-3zM1324 903h3v1h-3zM1330 903h3v1h-3zM1336 903h3v1h-3zM1342 903h3v1h-3zM1348 903h3v1h-3zM1354 903h3v1h-3zM1360 903h3v1h-3zM1366 903h3v1h-3zM1372 903h3v1h-3zM1378 903h3v1h-3zM1384 903h3v1h-3zM1390 903h3v1h-3zM1396 903h3v1h-3zM1402 903h3v1h-3zM1408 903h3v1h-3zM1414 903h3v1h-3zM1420 903h3v1h-3zM1426 903h3v1h-3zM1432 903h3v1h-3zM1438 903h3v1h-3zM1444 903h3v1h-3zM1450 903h3v1h-3zM1456 903h3v1h-3zM1462 903h3v1h-3zM1468 903h3v1h-3zM1474 903h3v1h-3zM1480 903h3v1h-3zM1486 903h3v1h-3zM1492 903h3v1h-3zM1498 903h3v1h-3zM1504 903h3v1h-3zM1510 903h3v1h-3zM1516 903h3v1h-3zM1522 903h3v1h-3zM1528 903h3v1h-3zM1534 903h3v1h-3zM1540 903h3v1h-3zM1546 903h3v1h-3zM1552 903h3v1h-3zM1558 903h3v1h-3zM1564 903h3v1h-3zM1570 903h3v1h-3zM1576 903h3v1h-3zM1582 903h3v1h-3zM1588 903h3v1h-3zM1594 903h3v1h-3zM1600 903h3v1h-3zM1606 903h3v1h-3zM1612 903h3v1h-3zM1618 903h3v1h-3zM1624 903h1v1h-1z" fill="#c0c0c0"/>
<path d="M629 804h1v1h-1zM644 804h2v1h-2zM629 805h3v1h-3zM642 805h2v1h-2zM646 805h2v1h-2zM737 805h5v1h-5zM628 806h1v1h-1zM632 806h2v1h-2zM640 806h2v1h-2zM648 806h2v1h-2zM733 806h4v1h-4zM742 806h1v1h-1zM628 807h1v1h-1zM634 807h2v1h-2zM638 807h2v1h-2zM650 807h2v1h-2zM731 807h2v1h-2zM743 807h1v1h-1zM868 807h2v1h-2zM932 807h11v1h-11zM628 808h1v1h-1zM636 808h2v1h-2zM652 808h2v1h-2zM729 808h2v1h-2zM744 808h1v1h-1zM865 808h3v1h-3zM870 808h1v1h-1zM929 808h3v1h-3zM943 808h4v1h-4zM627 809h1v1h-1zM654 809h1v1h-1zM728 809h1v1h-1zM745 809h1v1h-1zM769 809h5v1h-5zM863 809h2v1h-2zM870 809h1v1h-1zM927 809h2v1h-2zM947 809h3v1h-3zM627 810h1v1h-1zM655 810h2v1h-2zM673 810h5v1h-5zM726 810h2v1h-2zM746 810h1v1h-1zM761 810h8v1h-8zM774 810h1v1h-1zM861 810h2v1h-2zM871 810h1v1h-1zM921 810h6v1h-6zM949 810h1v1h-1zM627 811h1v1h-1zM657 811h1v1h-1zM668 811h5v1h-5zM678 811h1v1h-1zM725 811h1v1h-1zM747 811h1v1h-1zM755 811h6v1h-6zM775 811h1v1h-1zM860 811h1v1h-1zM871 811h1v1h-1zM917 811h4v1h-4zM950 811h1v1h-1zM626 812h1v1h-1zM658 812h1v1h-1zM665 812h3v1h-3zM679 812h2v1h-2zM699 812h4v1h-4zM723 812h2v1h-2zM748 812h1v1h-1zM751 812h4v1h-4zM776 812h1v1h-1zM859 812h1v1h-1zM872 812h1v1h-1zM915 812h2v1h-2zM950 812h1v1h-1zM626 813h1v1h-1zM659 813h2v1h-2zM663 813h2v1h-2zM681 813h1v1h-1zM695 813h4v1h-4zM703 813h4v1h-4zM722 813h1v1h-1zM749 813h2v1h-2zM777 813h2v1h-2zM858 813h1v1h-1zM873 813h1v1h-1zM913 813h2v1h-2zM950 813h1v1h-1zM626 814h1v1h-1zM661 814h2v1h-2zM682 814h1v1h-1zM691 814h4v1h-4zM707 814h4v1h-4zM721 814h1v1h-1zM779 814h1v1h-1zM857 814h1v1h-1zM873 814h1v1h-1zM893 814h1v1h-1zM912 814h1v1h-1zM951 814h1v1h-1zM625 815h1v1h-1zM683 815h2v1h-2zM687 815h4v1h-4zM711 815h2v1h-2zM719 815h2v1h-2zM780 815h1v1h-1zM856 815h1v1h-1zM874 815h1v1h-1zM892 815h1v1h-1zM894 815h1v1h-1zM910 815h2v1h-2zM951 815h1v1h-1zM625 816h1v1h-1zM685 816h2v1h-2zM713 816h3v1h-3zM718 816h1v1h-1zM781 816h1v1h-1zM855 816h1v1h-1zM875 816h1v1h-1zM891 816h1v1h-1zM895 816h2v1h-2zM908 816h2v1h-2zM951 816h1v1h-1zM624 817h1v1h-1zM716 817h2v1h-2zM781 817h1v1h-1zM854 817h1v1h-1zM875 817h1v1h-1zM891 817h1v1h-1zM897 817h1v1h-1zM906 817h2v1h-2zM952 817h1v1h-1zM624 818h1v1h-1zM782 818h1v1h-1zM852 818h2v1h-2zM876 818h1v1h-1zM890 818h1v1h-1zM898 818h1v1h-1zM904 818h2v1h-2zM952 818h1v1h-1zM1125 818h1v1h-1zM624 819h1v1h-1zM782 819h1v1h-1zM850 819h2v1h-2zM876 819h1v1h-1zM889 819h1v1h-1zM899 819h2v1h-2zM902 819h2v1h-2zM952 819h1v1h-1zM1125 819h2v1h-2zM623 820h1v1h-1zM782 820h1v1h-1zM848 820h2v1h-2zM877 820h1v1h-1zM888 820h1v1h-1zM901 820h1v1h-1zM953 820h1v1h-1zM1124 820h1v1h-1zM1127 820h1v1h-1zM623 821h1v1h-1zM782 821h1v1h-1zM846 821h2v1h-2zM878 821h2v1h-2zM887 821h1v1h-1zM953 821h1v1h-1zM1124 821h1v1h-1zM1128 821h1v1h-1zM611 822h3v1h-3zM623 822h1v1h-1zM783 822h1v1h-1zM821 822h1v1h-1zM841 822h5v1h-5zM880 822h2v1h-2zM887 822h1v1h-1zM953 822h1v1h-1zM1043 822h3v1h-3zM1123 822h1v1h-1zM1129 822h1v1h-1zM607 823h4v1h-4zM614 823h2v1h-2zM622 823h1v1h-1zM783 823h1v1h-1zM820 823h1v1h-1zM822 823h2v1h-2zM836 823h5v1h-5zM882 823h2v1h-2zM886 823h1v1h-1zM954 823h1v1h-1zM1039 823h4v1h-4zM1046 823h2v1h-2zM1093 823h2v1h-2zM1123 823h1v1h-1zM1130 823h1v1h-1zM445 824h1v1h-1zM604 824h3v1h-3zM616 824h1v1h-1zM622 824h1v1h-1zM783 824h1v1h-1zM819 824h1v1h-1zM824 824h2v1h-2zM833 824h3v1h-3zM884 824h2v1h-2zM954 824h1v1h-1zM1012 824h2v1h-2zM1036 824h3v1h-3zM1048 824h2v1h-2zM1093 824h1v1h-1zM1095 824h2v1h-2zM1122 824h1v1h-1zM1131 824h1v1h-1zM443 825h2v1h-2zM446 825h1v1h-1zM602 825h2v1h-2zM617 825h2v1h-2zM622 825h1v1h-1zM784 825h1v1h-1zM819 825h1v1h-1zM826 825h2v1h-2zM831 825h2v1h-2zM954 825h1v1h-1zM1010 825h2v1h-2zM1014 825h1v1h-1zM1034 825h2v1h-2zM1050 825h2v1h-2zM1092 825h1v1h-1zM1097 825h3v1h-3zM1122 825h1v1h-1zM1132 825h1v1h-1zM441 826h2v1h-2zM447 826h1v1h-1zM600 826h2v1h-2zM619 826h3v1h-3zM784 826h1v1h-1zM818 826h1v1h-1zM828 826h3v1h-3zM955 826h1v1h-1zM1008 826h2v1h-2zM1015 826h1v1h-1zM1032 826h2v1h-2zM1052 826h2v1h-2zM1092 826h1v1h-1zM1100 826h2v1h-2zM1121 826h1v1h-1zM1133 826h1v1h-1zM1171 826h3v1h-3zM440 827h1v1h-1zM447 827h1v1h-1zM598 827h2v1h-2zM621 827h1v1h-1zM784 827h1v1h-1zM817 827h1v1h-1zM955 827h1v1h-1zM1006 827h2v1h-2zM1016 827h1v1h-1zM1030 827h2v1h-2zM1054 827h1v1h-1zM1091 827h1v1h-1zM1102 827h2v1h-2zM1121 827h1v1h-1zM1134 827h2v1h-2zM1167 827h4v1h-4zM1174 827h1v1h-1zM413 828h2v1h-2zM438 828h2v1h-2zM448 828h1v1h-1zM589 828h9v1h-9zM784 828h1v1h-1zM816 828h1v1h-1zM955 828h1v1h-1zM993 828h13v1h-13zM1017 828h1v1h-1zM1029 828h1v1h-1zM1055 828h1v1h-1zM1091 828h1v1h-1zM1104 828h2v1h-2zM1120 828h1v1h-1zM1136 828h1v1h-1zM1148 828h19v1h-19zM1174 828h1v1h-1zM411 829h2v1h-2zM415 829h4v1h-4zM437 829h1v1h-1zM449 829h1v1h-1zM589 829h1v1h-1zM785 829h1v1h-1zM815 829h1v1h-1zM956 829h1v1h-1zM964 829h5v1h-5zM977 829h16v1h-16zM1017 829h1v1h-1zM1027 829h2v1h-2zM1056 829h1v1h-1zM1090 829h1v1h-1zM1106 829h2v1h-2zM1120 829h1v1h-1zM1137 829h2v1h-2zM1145 829h3v1h-3zM1175 829h1v1h-1zM132 830h3v1h-3zM410 830h1v1h-1zM419 830h3v1h-3zM435 830h2v1h-2zM450 830h1v1h-1zM588 830h1v1h-1zM785 830h1v1h-1zM815 830h1v1h-1zM956 830h1v1h-1zM962 830h2v1h-2zM969 830h8v1h-8zM1018 830h1v1h-1zM1025 830h2v1h-2zM1057 830h2v1h-2zM1076 830h2v1h-2zM1090 830h1v1h-1zM1108 830h2v1h-2zM1119 830h1v1h-1zM1139 830h2v1h-2zM1143 830h2v1h-2zM1175 830h1v1h-1zM130 831h2v1h-2zM135 831h4v1h-4zM409 831h1v1h-1zM422 831h2v1h-2zM433 831h2v1h-2zM451 831h1v1h-1zM588 831h1v1h-1zM785 831h1v1h-1zM814 831h1v1h-1zM956 831h1v1h-1zM960 831h2v1h-2zM1019 831h1v1h-1zM1024 831h1v1h-1zM1059 831h1v1h-1zM1073 831h3v1h-3zM1078 831h1v1h-1zM1089 831h1v1h-1zM1110 831h2v1h-2zM1119 831h1v1h-1zM1141 831h2v1h-2zM1176 831h1v1h-1zM128 832h2v1h-2zM139 832h3v1h-3zM397 832h2v1h-2zM407 832h2v1h-2zM424 832h2v1h-2zM432 832h1v1h-1zM451 832h1v1h-1zM587 832h1v1h-1zM786 832h1v1h-1zM811 832h3v1h-3zM957 832h3v1h-3zM1020 832h1v1h-1zM1022 832h2v1h-2zM1060 832h1v1h-1zM1071 832h2v1h-2zM1079 832h1v1h-1zM1089 832h1v1h-1zM1112 832h2v1h-2zM1118 832h1v1h-1zM1176 832h1v1h-1zM17 833h14v1h-14zM126 833h2v1h-2zM142 833h1v1h-1zM397 833h1v1h-1zM399 833h4v1h-4zM406 833h1v1h-1zM426 833h2v1h-2zM430 833h2v1h-2zM452 833h1v1h-1zM587 833h1v1h-1zM786 833h1v1h-1zM807 833h4v1h-4zM957 833h1v1h-1zM1021 833h1v1h-1zM1061 833h10v1h-10zM1080 833h1v1h-1zM1088 833h1v1h-1zM1114 833h2v1h-2zM1118 833h1v1h-1zM1177 833h1v1h-1zM13 834h4v1h-4zM31 834h4v1h-4zM109 834h17v1h-17zM142 834h1v1h-1zM396 834h1v1h-1zM403 834h3v1h-3zM428 834h2v1h-2zM453 834h1v1h-1zM586 834h1v1h-1zM786 834h1v1h-1zM804 834h3v1h-3zM1081 834h1v1h-1zM1088 834h1v1h-1zM1116 834h2v1h-2zM1177 834h1v1h-1zM12 835h1v1h-1zM35 835h3v1h-3zM52 835h2v1h-2zM107 835h2v1h-2zM143 835h1v1h-1zM396 835h1v1h-1zM454 835h1v1h-1zM586 835h1v1h-1zM786 835h1v1h-1zM802 835h2v1h-2zM1081 835h1v1h-1zM1087 835h1v1h-1zM1178 835h1v1h-1zM1259 835h3v1h-3zM11 836h1v1h-1zM38 836h2v1h-2zM50 836h2v1h-2zM54 836h2v1h-2zM106 836h1v1h-1zM143 836h1v1h-1zM395 836h1v1h-1zM455 836h2v1h-2zM585 836h1v1h-1zM787 836h1v1h-1zM800 836h2v1h-2zM1082 836h1v1h-1zM1087 836h1v1h-1zM1178 836h1v1h-1zM1255 836h4v1h-4zM1262 836h1v1h-1zM10 837h1v1h-1zM40 837h2v1h-2zM48 837h2v1h-2zM56 837h2v1h-2zM105 837h1v1h-1zM144 837h1v1h-1zM197 837h4v1h-4zM395 837h1v1h-1zM457 837h1v1h-1zM585 837h1v1h-1zM787 837h1v1h-1zM798 837h2v1h-2zM1083 837h1v1h-1zM1086 837h1v1h-1zM1179 837h1v1h-1zM1252 837h3v1h-3zM1263 837h1v1h-1zM0 838h1v1h-1zM9 838h1v1h-1zM42 838h2v1h-2zM46 838h2v1h-2zM58 838h2v1h-2zM103 838h2v1h-2zM144 838h1v1h-1zM196 838h1v1h-1zM201 838h5v1h-5zM395 838h1v1h-1zM458 838h1v1h-1zM585 838h1v1h-1zM787 838h1v1h-1zM797 838h1v1h-1zM1084 838h1v1h-1zM1086 838h1v1h-1zM1179 838h1v1h-1zM1204 838h2v1h-2zM1249 838h3v1h-3zM1264 838h1v1h-1zM1 839h1v1h-1zM8 839h1v1h-1zM44 839h2v1h-2zM60 839h2v1h-2zM102 839h1v1h-1zM145 839h1v1h-1zM195 839h1v1h-1zM206 839h1v1h-1zM394 839h1v1h-1zM459 839h2v1h-2zM584 839h1v1h-1zM788 839h1v1h-1zM795 839h2v1h-2zM1085 839h1v1h-1zM1180 839h1v1h-1zM1201 839h3v1h-3zM1205 839h1v1h-1zM1247 839h2v1h-2zM1265 839h2v1h-2zM2 840h2v1h-2zM7 840h1v1h-1zM62 840h1v1h-1zM101 840h1v1h-1zM145 840h1v1h-1zM193 840h2v1h-2zM207 840h1v1h-1zM394 840h1v1h-1zM461 840h9v1h-9zM584 840h1v1h-1zM788 840h1v1h-1zM794 840h1v1h-1zM1180 840h1v1h-1zM1199 840h2v1h-2zM1206 840h1v1h-1zM1245 840h2v1h-2zM1267 840h1v1h-1zM4 841h1v1h-1zM6 841h1v1h-1zM63 841h2v1h-2zM100 841h1v1h-1zM146 841h1v1h-1zM192 841h1v1h-1zM208 841h1v1h-1zM394 841h1v1h-1zM470 841h1v1h-1zM491 841h4v1h-4zM583 841h1v1h-1zM788 841h1v1h-1zM793 841h1v1h-1zM1181 841h1v1h-1zM1197 841h2v1h-2zM1206 841h1v1h-1zM1244 841h1v1h-1zM1268 841h1v1h-1zM5 842h1v1h-1zM65 842h1v1h-1zM100 842h1v1h-1zM146 842h1v1h-1zM173 842h1v1h-1zM191 842h1v1h-1zM209 842h1v1h-1zM393 842h1v1h-1zM471 842h1v1h-1zM487 842h4v1h-4zM495 842h2v1h-2zM583 842h1v1h-1zM788 842h1v1h-1zM791 842h2v1h-2zM1181 842h1v1h-1zM1196 842h1v1h-1zM1207 842h1v1h-1zM1244 842h1v1h-1zM1269 842h1v1h-1zM66 843h1v1h-1zM99 843h1v1h-1zM147 843h1v1h-1zM172 843h1v1h-1zM174 843h2v1h-2zM190 843h1v1h-1zM210 843h1v1h-1zM393 843h1v1h-1zM472 843h1v1h-1zM485 843h2v1h-2zM497 843h3v1h-3zM582 843h1v1h-1zM789 843h2v1h-2zM1182 843h1v1h-1zM1196 843h1v1h-1zM1207 843h1v1h-1zM1243 843h1v1h-1zM1270 843h1v1h-1zM1324 843h5v1h-5zM67 844h2v1h-2zM99 844h1v1h-1zM147 844h1v1h-1zM171 844h1v1h-1zM176 844h2v1h-2zM187 844h3v1h-3zM211 844h1v1h-1zM275 844h3v1h-3zM392 844h1v1h-1zM473 844h1v1h-1zM483 844h2v1h-2zM500 844h2v1h-2zM533 844h1v1h-1zM582 844h1v1h-1zM789 844h1v1h-1zM1182 844h1v1h-1zM1195 844h1v1h-1zM1207 844h1v1h-1zM1243 844h1v1h-1zM1270 844h1v1h-1zM1322 844h2v1h-2zM1329 844h5v1h-5zM69 845h2v1h-2zM98 845h1v1h-1zM148 845h1v1h-1zM170 845h1v1h-1zM178 845h2v1h-2zM183 845h4v1h-4zM212 845h1v1h-1zM271 845h4v1h-4zM278 845h1v1h-1zM392 845h1v1h-1zM474 845h1v1h-1zM481 845h2v1h-2zM502 845h1v1h-1zM531 845h2v1h-2zM534 845h1v1h-1zM581 845h1v1h-1zM1183 845h1v1h-1zM1195 845h1v1h-1zM1208 845h1v1h-1zM1242 845h1v1h-1zM1271 845h1v1h-1zM1320 845h2v1h-2zM71 846h4v1h-4zM97 846h1v1h-1zM148 846h1v1h-1zM169 846h1v1h-1zM180 846h3v1h-3zM213 846h1v1h-1zM253 846h1v1h-1zM268 846h3v1h-3zM279 846h2v1h-2zM308 846h3v1h-3zM364 846h13v1h-13zM392 846h1v1h-1zM475 846h1v1h-1zM480 846h1v1h-1zM503 846h1v1h-1zM530 846h1v1h-1zM535 846h2v1h-2zM565 846h1v1h-1zM580 846h2v1h-2zM1184 846h1v1h-1zM1194 846h1v1h-1zM1208 846h1v1h-1zM1241 846h1v1h-1zM1271 846h1v1h-1zM1318 846h2v1h-2zM75 847h3v1h-3zM97 847h1v1h-1zM149 847h1v1h-1zM168 847h1v1h-1zM213 847h1v1h-1zM253 847h3v1h-3zM266 847h2v1h-2zM281 847h1v1h-1zM306 847h2v1h-2zM311 847h4v1h-4zM362 847h2v1h-2zM377 847h5v1h-5zM391 847h1v1h-1zM476 847h1v1h-1zM478 847h2v1h-2zM504 847h1v1h-1zM529 847h1v1h-1zM537 847h1v1h-1zM563 847h2v1h-2zM566 847h2v1h-2zM578 847h2v1h-2zM1184 847h1v1h-1zM1193 847h1v1h-1zM1208 847h1v1h-1zM1241 847h1v1h-1zM1272 847h1v1h-1zM1317 847h1v1h-1zM78 848h1v1h-1zM96 848h1v1h-1zM149 848h10v1h-10zM167 848h1v1h-1zM213 848h1v1h-1zM252 848h1v1h-1zM256 848h2v1h-2zM264 848h2v1h-2zM282 848h1v1h-1zM291 848h4v1h-4zM304 848h2v1h-2zM315 848h3v1h-3zM360 848h2v1h-2zM382 848h1v1h-1zM391 848h1v1h-1zM477 848h1v1h-1zM505 848h2v1h-2zM527 848h2v1h-2zM538 848h1v1h-1zM562 848h1v1h-1zM568 848h2v1h-2zM576 848h2v1h-2zM1185 848h1v1h-1zM1193 848h1v1h-1zM1209 848h1v1h-1zM1240 848h1v1h-1zM1272 848h1v1h-1zM1300 848h2v1h-2zM1316 848h1v1h-1zM79 849h1v1h-1zM95 849h1v1h-1zM159 849h4v1h-4zM166 849h1v1h-1zM214 849h1v1h-1zM252 849h1v1h-1zM258 849h2v1h-2zM262 849h2v1h-2zM283 849h2v1h-2zM287 849h4v1h-4zM295 849h4v1h-4zM302 849h2v1h-2zM318 849h1v1h-1zM358 849h2v1h-2zM383 849h2v1h-2zM391 849h1v1h-1zM507 849h1v1h-1zM526 849h1v1h-1zM539 849h2v1h-2zM561 849h1v1h-1zM570 849h2v1h-2zM574 849h2v1h-2zM1186 849h1v1h-1zM1192 849h1v1h-1zM1209 849h1v1h-1zM1239 849h1v1h-1zM1273 849h1v1h-1zM1298 849h2v1h-2zM1302 849h1v1h-1zM1316 849h1v1h-1zM80 850h1v1h-1zM95 850h1v1h-1zM163 850h3v1h-3zM214 850h1v1h-1zM251 850h1v1h-1zM260 850h2v1h-2zM285 850h2v1h-2zM299 850h3v1h-3zM319 850h1v1h-1zM333 850h9v1h-9zM356 850h2v1h-2zM385 850h1v1h-1zM390 850h1v1h-1zM508 850h1v1h-1zM523 850h3v1h-3zM541 850h10v1h-10zM559 850h2v1h-2zM572 850h2v1h-2zM1186 850h1v1h-1zM1191 850h1v1h-1zM1210 850h1v1h-1zM1239 850h1v1h-1zM1273 850h1v1h-1zM1296 850h2v1h-2zM1302 850h1v1h-1zM1315 850h1v1h-1zM81 851h2v1h-2zM94 851h1v1h-1zM214 851h1v1h-1zM251 851h1v1h-1zM320 851h1v1h-1zM331 851h2v1h-2zM342 851h2v1h-2zM354 851h2v1h-2zM386 851h1v1h-1zM390 851h1v1h-1zM509 851h4v1h-4zM519 851h4v1h-4zM551 851h4v1h-4zM558 851h1v1h-1zM1187 851h1v1h-1zM1191 851h1v1h-1zM1210 851h1v1h-1zM1238 851h1v1h-1zM1274 851h1v1h-1zM1294 851h2v1h-2zM1303 851h1v1h-1zM1314 851h1v1h-1zM83 852h1v1h-1zM94 852h1v1h-1zM214 852h1v1h-1zM250 852h1v1h-1zM321 852h1v1h-1zM330 852h1v1h-1zM344 852h2v1h-2zM352 852h2v1h-2zM387 852h3v1h-3zM513 852h6v1h-6zM555 852h3v1h-3zM1188 852h1v1h-1zM1190 852h1v1h-1zM1210 852h1v1h-1zM1238 852h1v1h-1zM1274 852h1v1h-1zM1293 852h1v1h-1zM1304 852h1v1h-1zM1314 852h1v1h-1zM84 853h1v1h-1zM89 853h5v1h-5zM215 853h1v1h-1zM250 853h1v1h-1zM322 853h1v1h-1zM329 853h1v1h-1zM346 853h2v1h-2zM350 853h2v1h-2zM389 853h1v1h-1zM1188 853h1v1h-1zM1190 853h1v1h-1zM1211 853h1v1h-1zM1229 853h9v1h-9zM1275 853h1v1h-1zM1292 853h1v1h-1zM1305 853h1v1h-1zM1313 853h1v1h-1zM85 854h4v1h-4zM215 854h1v1h-1zM249 854h1v1h-1zM323 854h1v1h-1zM327 854h2v1h-2zM348 854h2v1h-2zM1189 854h1v1h-1zM1211 854h1v1h-1zM1228 854h1v1h-1zM1275 854h1v1h-1zM1291 854h1v1h-1zM1305 854h1v1h-1zM1312 854h1v1h-1zM215 855h1v1h-1zM249 855h1v1h-1zM324 855h1v1h-1zM326 855h1v1h-1zM1211 855h1v1h-1zM1227 855h1v1h-1zM1276 855h1v1h-1zM1290 855h1v1h-1zM1306 855h1v1h-1zM1312 855h1v1h-1zM215 856h1v1h-1zM249 856h1v1h-1zM325 856h1v1h-1zM1212 856h1v1h-1zM1226 856h1v1h-1zM1276 856h1v1h-1zM1289 856h1v1h-1zM1307 856h1v1h-1zM1311 856h1v1h-1zM216 857h1v1h-1zM248 857h1v1h-1zM1212 857h1v1h-1zM1225 857h1v1h-1zM1277 857h1v1h-1zM1288 857h1v1h-1zM1308 857h1v1h-1zM1310 857h1v1h-1zM216 858h1v1h-1zM248 858h1v1h-1zM1213 858h1v1h-1zM1225 858h1v1h-1zM1277 858h2v1h-2zM1287 858h1v1h-1zM1308 858h1v1h-1zM1310 858h1v1h-1zM216 859h1v1h-1zM247 859h1v1h-1zM1213 859h2v1h-2zM1224 859h1v1h-1zM1279 859h4v1h-4zM1286 859h1v1h-1zM1309 859h1v1h-1zM216 860h1v1h-1zM247 860h1v1h-1zM1215 860h2v1h-2zM1223 860h1v1h-1zM1283 860h3v1h-3zM217 861h1v1h-1zM246 861h1v1h-1zM1217 861h3v1h-3zM1222 861h1v1h-1zM217 862h1v1h-1zM246 862h1v1h-1zM1220 862h2v1h-2zM217 863h1v1h-1zM245 863h1v1h-1zM217 864h1v1h-1zM245 864h1v1h-1zM218 865h1v1h-1zM245 865h1v1h-1zM218 866h1v1h-1zM244 866h1v1h-1zM218 867h1v1h-1zM244 867h1v1h-1zM218 868h1v1h-1zM243 868h1v1h-1zM219 869h1v1h-1zM243 869h1v1h-1zM219 870h1v1h-1zM242 870h1v1h-1zM219 871h1v1h-1zM242 871h1v1h-1zM219 872h1v1h-1zM242 872h1v1h-1zM220 873h1v1h-1zM241 873h1v1h-1zM220 874h1v1h-1zM241 874h1v1h-1zM220 875h1v1h-1zM240 875h1v1h-1zM220 876h1v1h-1zM240 876h1v1h-1zM221 877h1v1h-1zM240 877h1v1h-1zM221 878h1v1h-1zM239 878h1v1h-1zM221 879h9v1h-9zM239 879h1v1h-1zM230 880h2v1h-2zM238 880h1v1h-1zM232 881h2v1h-2zM238 881h1v1h-1zM234 882h2v1h-2zM237 882h1v1h-1zM236 883h2v1h-2z" fill="#1e90ff"/>
<rect x="61" y="928" width="1" height="3" fill="#000"/>
<rect x="125" y="928" width="1" height="3" fill="#000"/>
<rect x="189" y="928" width="1" height="3" fill="#000"/>
<rect x="253" y="928" width="1" height="3" fill="#000"/>
<rect x="317" y="928" width="1" height="3" fill="#000"/>
<rect x="381" y="928" width="1" height="3" fill="#000"/>
<rect x="445" y="928" width="1" height="3" fill="#000"/>
<rect x="509" y="928" width="1" height="3" fill="#000"/>
<rect x="573" y="928" width="1" height="3" fill="#000"/>
<rect x="637" y="928" width="1" height="3" fill="#000"/>
<rect x="701" y="928" width="1" height="3" fill="#000"/>
<rect x="765" y="928" width="1" height="3" fill="#000"/>
<rect x="829" y="928" width="1" height="3" fill="#000"/>
<rect x="893" y="928" width="1" height="3" fill="#000"/>
<rect x="957" y="928" width="1" height="3" fill="#000"/>
<rect x="1021" y="928" width="1" height="3" fill="#000"/>
<rect x="1085" y="928" width="1" height="3" fill="#000"/>
<rect x="1149" y="928" width="1" height="3" fill="#000"/>
<rect x="1213" y="928" width="1" height="3" fill="#000"/>
<rect x="1277" y="928" width="1" height="3" fill="#000"/>
<rect x="0" y="948" width="1672" height="1" fill="#e3e3e3"/>
<rect x="0" y="950" width="163" height="1" fill="#000"/>
<rect x="163" y="950" width="86" height="1" fill="#f0f0f0"/>
<rect x="249" y="950" width="1423" height="1" fill="#000"/>
<rect x="1670" y="25" width="1" height="923" fill="#f6f6f6"/>
<rect x="1671" y="25" width="1" height="923" fill="#e2e2e2"/>
<rect x="1626" y="82" width="1" height="1" fill="#000"/>
</svg>
<div class="layer">
<div class="ax" style="left:1631px;top:45px;">22098.0</div>
<div class="ax" style="left:1631px;top:144px;">21698.0</div>
<div class="ax" style="left:1631px;top:177px;">21566.0</div>
<div class="ax" style="left:1631px;top:210px;">21430.0</div>
<div class="ax" style="left:1631px;top:243px;">21298.0</div>
<div class="ax" style="left:1631px;top:276px;">21162.0</div>
<div class="ax" style="left:1631px;top:309px;">21030.0</div>
<div class="ax" style="left:1631px;top:342px;">20894.0</div>
<div class="ax" style="left:1631px;top:375px;">20762.0</div>
<div class="ax" style="left:1631px;top:408px;">20630.0</div>
<div class="ax" style="left:1631px;top:441px;">20494.0</div>
<div class="ax" style="left:1631px;top:474px;">20362.0</div>
<div class="ax" style="left:1631px;top:507px;">20226.0</div>
<div class="ax" style="left:1631px;top:540px;">20094.0</div>
<div class="ax" style="left:1631px;top:573px;">19962.0</div>
<div class="ax wh" style="left:1631px;top:60px;">22036.4</div>
<div class="ax wh" style="left:1631px;top:81px;">21951.5</div>
<div class="ax wh" style="left:1631px;top:102px;">21872.5</div>
<div class="ax wh" style="left:1631px;top:115px;">21814.0</div>
<div class="ax wh" style="left:1631px;top:132px;">21745.3</div>
<div class="ax wh" style="left:1631px;top:156px;">21648.3</div>
<div class="ax" style="left:1629px;top:586px;">184.79</div>
<div class="ax" style="left:1629px;top:704px;">0.00</div>
<div class="ax" style="left:1628.5px;top:755px;">-85.82</div>
<div class="ax" style="left:1629px;top:771px;">100</div>
<div class="ax" style="left:1628.5px;top:796px;">80</div>
<div class="ax" style="left:1628.5px;top:843px;">50</div>
<div class="ax" style="left:1629px;top:899px;">15</div>
<div class="ax" style="left:1629px;top:916px;">0</div>
<div class="ax" style="left:0.5px;top:588px;">MACD(12,26,9) -0.63 -1.81</div>
<div class="ax" style="left:0.5px;top:773px;">RSI(14) 52.9338</div>
<div class="ax" style="left:11.3px;top:32px;letter-spacing:-0.2px;word-spacing:0.15px;">JPN225-,H4&nbsp; 21872.5 21887.5 21862.5 21872.5</div>
<div class="ax" style="left:-4.5px;top:932px;letter-spacing:-0.3px;">18 Aug 2019</div>
<div class="ax" style="left:60px;top:932px;">20 Aug 04:00</div>
<div class="ax" style="left:124px;top:932px;">21 Aug 14:55</div>
<div class="ax" style="left:188px;top:932px;">22 Aug 23:30</div>
<div class="ax" style="left:252px;top:932px;">26 Aug 04:00</div>
<div class="ax" style="left:316px;top:932px;">27 Aug 14:55</div>
<div class="ax" style="left:380px;top:932px;">28 Aug 23:30</div>
<div class="ax" style="left:444px;top:932px;">30 Aug 04:00</div>
<div class="ax" style="left:508px;top:932px;letter-spacing:-0.34px;">2 Sep 14:55</div>
<div class="ax" style="left:572px;top:932px;letter-spacing:-0.34px;">3 Sep 23:30</div>
<div class="ax" style="left:636px;top:932px;letter-spacing:-0.34px;">5 Sep 04:00</div>
<div class="ax" style="left:700px;top:932px;letter-spacing:-0.34px;">6 Sep 14:55</div>
<div class="ax" style="left:764px;top:932px;letter-spacing:-0.34px;">9 Sep 23:30</div>
<div class="ax" style="left:828px;top:932px;letter-spacing:-0.34px;">11 Sep 04:00</div>
<div class="ax" style="left:892px;top:932px;letter-spacing:-0.34px;">12 Sep 14:55</div>
<div class="ax" style="left:956px;top:932px;letter-spacing:-0.34px;">15 Sep 23:30</div>
<div class="ax" style="left:1020px;top:932px;letter-spacing:-0.34px;">17 Sep 04:00</div>
<div class="ax" style="left:1084px;top:932px;letter-spacing:-0.34px;">18 Sep 14:55</div>
<div class="ax" style="left:1148px;top:932px;letter-spacing:-0.34px;">19 Sep 23:30</div>
<div class="ax" style="left:1212px;top:932px;letter-spacing:-0.34px;">23 Sep 04:00</div>
<div class="ax" style="left:1276px;top:932px;letter-spacing:-0.34px;">24 Sep 14:55</div>
<div class="big">21814.0</div>
<div class="cn">多空转折点</div>
</div>
<div class="layer">
<svg class="pn" width="222" height="68" viewBox="0 0 222 68" shape-rendering="crispEdges">
<defs>
<linearGradient id="rTop" x1="0" y1="0" x2="0" y2="1"><stop offset="0" stop-color="#f85656"/><stop offset="1" stop-color="#de3030"/></linearGradient>
<linearGradient id="rBot" x1="0" y1="0" x2="0" y2="1"><stop offset="0" stop-color="#de3030"/><stop offset="1" stop-color="#b00000"/></linearGradient>
<linearGradient id="btn" x1="0" y1="0" x2="0" y2="1"><stop offset="0" stop-color="#f4f4f4"/><stop offset="1" stop-color="#dcdcdc"/></linearGradient>
</defs>
<rect x="0" y="0" width="220" height="65" fill="#ffffff"/>
<rect x="0" y="0" width="52" height="25" fill="url(#rTop)"/>
<rect x="167" y="0" width="52" height="25" fill="url(#rTop)"/>
<rect x="0" y="24" width="109" height="40" fill="url(#rBot)"/>
<rect x="111" y="24" width="108" height="40" fill="url(#rBot)"/>
<rect x="0" y="0" width="52" height="1" fill="#b40000"/><rect x="167" y="0" width="52" height="1" fill="#b40000"/>
<rect x="51" y="0" width="1" height="24" fill="#c01010"/><rect x="167" y="0" width="1" height="24" fill="#c01010"/>
<rect x="218" y="0" width="1" height="64" fill="#b40000"/><rect x="0" y="63" width="109" height="1" fill="#a00000"/><rect x="111" y="63" width="108" height="1" fill="#a00000"/>
<rect x="108" y="24" width="1" height="40" fill="#b00000"/><rect x="111" y="24" width="1" height="40" fill="#c01010"/>
<rect x="4" y="24" width="44" height="1" fill="#f08a8a"/><rect x="171" y="24" width="44" height="1" fill="#f08a8a"/>
<rect x="54" y="0" width="111" height="22" fill="#ffffff"/>
<rect x="54.5" y="0.5" width="110" height="21" fill="none" stroke="#a8a8a8" stroke-width="1"/>
<rect x="55" y="1" width="20" height="20" fill="url(#btn)"/><rect x="75" y="1" width="1" height="20" fill="#b4b4b4"/>
<rect x="144" y="1" width="20" height="20" fill="url(#btn)"/><rect x="143" y="1" width="1" height="20" fill="#b4b4b4"/>
<polygon points="61.5,9 67.5,9 64.5,12.5" fill="#000" shape-rendering="auto"/>
<polygon points="150.5,12.5 156.5,12.5 153.5,9" fill="#000" shape-rendering="auto"/>
</svg>
<div class="pt" style="left:12.3px;top:50.5px;font-size:11.6px;transform:scaleX(0.92);transform-origin:0 0;">SELL</div>
<div class="pt" style="left:180.3px;top:50.5px;font-size:11.6px;">BUY</div>
<div class="pt" style="left:116.3px;top:50.8px;font-size:12.7px;color:#000;">1.00</div>
<div class="pt" style="left:16px;top:90.5px;font-size:12px;font-weight:bold;letter-spacing:0.15px;">21871</div>
<div class="pt" style="left:126px;top:90.5px;font-size:12px;font-weight:bold;letter-spacing:0.15px;">21894</div>
<div class="pt" style="left:54px;top:73.3px;font-size:33.3px;line-height:36px;letter-spacing:-1px;transform:scaleX(0.94);transform-origin:0 0;">.0</div>
<div class="pt" style="left:164.5px;top:73.3px;font-size:33.3px;line-height:36px;letter-spacing:-1px;transform:scaleX(0.94);transform-origin:0 0;">.0</div>
<svg style="position:absolute;left:0;top:33px" width="8" height="6" viewBox="0 0 8 6"><polygon points="0,5 3.3,0.8 6.8,5" fill="#000"/></svg>
<svg class="tb" width="1672" height="25" viewBox="0 0 1672 25">
<defs>
<linearGradient id="gGreen" x1="0" y1="0" x2="1" y2="1"><stop offset="0" stop-color="#66ff66"/><stop offset="0.5" stop-color="#22dd22"/><stop offset="1" stop-color="#009a00"/></linearGradient>
<linearGradient id="gGold" x1="0" y1="0" x2="1" y2="1"><stop offset="0" stop-color="#ffe680"/><stop offset="1" stop-color="#c08000"/></linearGradient>
<linearGradient id="gBlue" x1="0" y1="0" x2="0" y2="1"><stop offset="0" stop-color="#5db4ff"/><stop offset="1" stop-color="#0a5ad0"/></linearGradient>
<linearGradient id="gLens" x1="0" y1="0" x2="0" y2="1"><stop offset="0" stop-color="#eaf6ff"/><stop offset="1" stop-color="#b5d8f5"/></linearGradient>
<pattern id="chk" width="2" height="2" patternUnits="userSpaceOnUse"><rect width="2" height="2" fill="#ffffff"/><rect width="1" height="1" fill="#f0f0f0"/><rect x="1" y="1" width="1" height="1" fill="#f0f0f0"/></pattern>
</defs>
<rect x="0" y="0" width="1672" height="23" fill="#f0f0f0"/>
<rect x="0" y="22" width="1672" height="1" fill="#f5f5f5"/>
<rect x="0" y="23" width="1672" height="1" fill="#a0a0a0"/>
<rect x="0" y="24" width="1672" height="1" fill="#696969"/>
<path d="M-3 2.5 h8 l3 3 v10 h-11 z" fill="#fafafa" stroke="#9a9a9a" stroke-width="1"/>
<path d="M-1 6.5h6M-1 9.5h6" stroke="#b0b0b0" stroke-width="1"/>
<path d="M3.6 10.2 h3.8 v3.2 h3.8 v3.8 h-3.8 v3.2 h-3.8 v-3.2 h-4.1 v-3.8 h4.1 z" fill="url(#gGreen)" stroke="#0a8a0a" stroke-width="0.8"/>
<path d="M68.4 4.3 L77.7 10.3 L71.8 17.1 L63.6 12.4 C65.5 10.5 67 7.5 68.4 4.3 Z" fill="url(#gGold)" stroke="#9a5a00" stroke-width="0.9" stroke-linejoin="round"/>
<path d="M63.4 12.5 L71.6 17.2 L71 19 L63 14.1 Z" fill="#e9b92c" stroke="#9a5a00" stroke-width="0.7" stroke-linejoin="round"/>
<path d="M77.7 10.3 L79 12.5 L71 19 L71.6 17.2 Z" fill="#f1e2a4" stroke="#9a5a00" stroke-width="0.7" stroke-linejoin="round"/>
<path d="M93.2 3.8 L100.5 3.2 L104.3 5 L97.2 5.5 Z" fill="#55bcff"/>
<path d="M93.2 3.8 L97.2 5.5 L97.2 12.6 L93.2 10.8 Z" fill="#2fa8ff"/>
<path d="M97.2 5.5 L104.3 5 L104.3 12 L97.2 12.6 Z" fill="#129aff"/>
<path d="M97.2 5.5 V12.6 M93.4 4 L97.2 5.5" stroke="#e8f6ff" stroke-width="0.7" fill="none"/>
<rect x="98.4" y="7.7" width="4.4" height="1.1" fill="#d8efff"/>
<linearGradient id="gCloud" x1="0" y1="0" x2="0" y2="1"><stop offset="0" stop-color="#ffffff"/><stop offset="1" stop-color="#c3d0e8"/></linearGradient>
<path d="M93.6 18.6 C90.6 18.6 90.5 14.6 93.3 14.2 C93.2 11.9 96.2 11.2 97.5 12.8 C98.7 10.6 102.3 10.8 102.9 13.2 C105.2 12.4 107.1 14.1 106.4 16 C107.4 17.4 106 18.6 104.6 18.6 Z" fill="url(#gCloud)" stroke="#3f5ea0" stroke-width="0.9"/>
<g fill="none" stroke-width="1.3"><circle cx="127" cy="11" r="7.6" stroke="#aac4ea"/><circle cx="127" cy="11" r="4.6" stroke="#6d97de"/></g>
<path d="M127 11 L127 19 A8 8 0 0 0 134.6 9.5 Z" fill="#57b857" opacity="0.85"/>
<path d="M127 11 V19" stroke="#1a9a1a" stroke-width="1.6"/>
<circle cx="127" cy="10.6" r="2" fill="#2d6fe0"/>
<path d="M148.5 10 L160.5 10 L155.5 18.5 L153 19 Z" fill="#ffd84a" stroke="#c79a10" stroke-width="0.8"/>
<ellipse cx="154.5" cy="8.2" rx="8" ry="2.7" fill="#57a8e6" stroke="#2f7fc4" stroke-width="0.7"/>
<path d="M150.2 7.4 a4.4 4 0 0 1 8.8 0 z" fill="#7cc3f2" stroke="#2f7fc4" stroke-width="0.7"/>
<circle cx="158.6" cy="14.8" r="4.2" fill="#e02a1a" stroke="#b01000" stroke-width="0.6"/><rect x="156.8" y="13" width="3.6" height="3.6" fill="#fff"/>
<rect x="222" y="0" width="1" height="23" fill="#8c8c8c" shape-rendering="crispEdges"/>
<rect x="223" y="0" width="1" height="23" fill="#ffffff" shape-rendering="crispEdges"/>
<rect x="226" y="1" width="3" height="1" fill="#9a9a9a" shape-rendering="crispEdges"/>
<rect x="226" y="3" width="3" height="1" fill="#9a9a9a" shape-rendering="crispEdges"/>
<rect x="226" y="5" width="3" height="1" fill="#9a9a9a" shape-rendering="crispEdges"/>
<rect x="226" y="7" width="3" height="1" fill="#9a9a9a" shape-rendering="crispEdges"/>
<rect x="226" y="9" width="3" height="1" fill="#9a9a9a" shape-rendering="crispEdges"/>
<rect x="226" y="11" width="3" height="1" fill="#9a9a9a" shape-rendering="crispEdges"/>
<rect x="226" y="13" width="3" height="1" fill="#9a9a9a" shape-rendering="crispEdges"/>
<rect x="226" y="15" width="3" height="1" fill="#9a9a9a" shape-rendering="crispEdges"/>
<rect x="226" y="17" width="3" height="1" fill="#9a9a9a" shape-rendering="crispEdges"/>
<rect x="226" y="19" width="3" height="1" fill="#9a9a9a" shape-rendering="crispEdges"/>
<g stroke="#505050" stroke-width="1.1" fill="#505050"><line x1="240.5" y1="6" x2="240.5" y2="19"/><line x1="238" y1="16.6" x2="251" y2="16.6"/><polygon points="238.7,7.2 240.5,4.8 242.3,7.2" stroke="none"/><polygon points="250,15 252.5,16.6 250,18.2" stroke="none"/></g>
<path d="M246.5 7 V14.2 M246.5 7.4 H249.5 M243.8 13.6 H246.5" stroke="#1e9a1e" stroke-width="1.3" fill="none"/>
<rect x="260" y="0" width="1" height="21" fill="#8c8c8c" shape-rendering="crispEdges"/>
<rect x="261" y="0" width="24" height="21" fill="url(#chk)" shape-rendering="crispEdges"/>
<g stroke="#505050" stroke-width="1.1" fill="#505050"><line x1="268.5" y1="6" x2="268.5" y2="19"/><line x1="266" y1="16.6" x2="279" y2="16.6"/><polygon points="266.7,7.2 268.5,4.8 270.3,7.2" stroke="none"/><polygon points="278,15 280.5,16.6 278,18.2" stroke="none"/></g>
<path d="M274.5 3 V15.3" stroke="#0a8a0a" stroke-width="1.2"/><rect x="272.2" y="5.6" width="4.6" height="7.2" fill="url(#gGreen)" stroke="#0a8a0a" stroke-width="0.9"/>
<g stroke="#505050" stroke-width="1.1" fill="#505050"><line x1="296.5" y1="6" x2="296.5" y2="19"/><line x1="294" y1="16.6" x2="307" y2="16.6"/><polygon points="294.7,7.2 296.5,4.8 298.3,7.2" stroke="none"/><polygon points="306,15 308.5,16.6 306,18.2" stroke="none"/></g>
<path d="M295.5 13.6 C298 11 299.5 8.2 301.3 8.4 C303 8.6 305 11.5 307.3 12.6" stroke="#2e9a3e" stroke-width="1.2" fill="none"/>
<rect x="317" y="0" width="1" height="21" fill="#8c8c8c" shape-rendering="crispEdges"/>
<path d="M335.8 12.8 L341.5 18.5" stroke="#b8860b" stroke-width="3.2" stroke-linecap="round"/>
<path d="M336.2 13 L341.3 18.1" stroke="#ffe36e" stroke-width="1.4" stroke-linecap="round"/>
<circle cx="332" cy="9" r="5.4" fill="url(#gLens)" stroke="#3f86d8" stroke-width="1.3"/>
<path d="M329 9 H335" stroke="#3b86b4" stroke-width="1.7"/>
<path d="M332 6 V12" stroke="#3b86b4" stroke-width="1.7"/>
<path d="M363.8 12.8 L369.5 18.5" stroke="#b8860b" stroke-width="3.2" stroke-linecap="round"/>
<path d="M364.2 13 L369.3 18.1" stroke="#ffe36e" stroke-width="1.4" stroke-linecap="round"/>
<circle cx="360" cy="9" r="5.4" fill="url(#gLens)" stroke="#3f86d8" stroke-width="1.3"/>
<path d="M357 9 H363" stroke="#3b86b4" stroke-width="1.7"/>
<rect x="382" y="3" width="8" height="8" fill="#58b032"/><rect x="382" y="3" width="8" height="2.2" fill="#3f9420"/><rect x="383.3" y="6.4" width="5.4" height="3.4" fill="#f4f8ff"/><rect x="384.3" y="7.4" width="3.4" height="1" fill="#58b032" opacity="0.45"/>
<rect x="390" y="3" width="8" height="8" fill="#3a72e0"/><rect x="390" y="3" width="8" height="2.2" fill="#2456c8"/><rect x="391.3" y="6.4" width="5.4" height="3.4" fill="#f4f8ff"/><rect x="392.3" y="7.4" width="3.4" height="1" fill="#3a72e0" opacity="0.45"/>
<rect x="382" y="11" width="8" height="8" fill="#3a72e0"/><rect x="382" y="11" width="8" height="2.2" fill="#2456c8"/><rect x="383.3" y="14.4" width="5.4" height="3.4" fill="#f4f8ff"/><rect x="384.3" y="15.4" width="3.4" height="1" fill="#3a72e0" opacity="0.45"/>
<rect x="390" y="11" width="8" height="8" fill="#58b032"/><rect x="390" y="11" width="8" height="2.2" fill="#3f9420"/><rect x="391.3" y="14.4" width="5.4" height="3.4" fill="#f4f8ff"/><rect x="392.3" y="15.4" width="3.4" height="1" fill="#58b032" opacity="0.45"/>
<rect x="407" y="0" width="1" height="21" fill="#8c8c8c" shape-rendering="crispEdges"/>
<rect x="412" y="0" width="1" height="21" fill="#8c8c8c" shape-rendering="crispEdges"/>
<rect x="413" y="0" width="24" height="21" fill="url(#chk)" shape-rendering="crispEdges"/>
<g stroke="#505050" stroke-width="1.1" fill="#505050"><line x1="420.5" y1="6" x2="420.5" y2="19"/><line x1="418" y1="16.6" x2="431" y2="16.6"/><polygon points="418.7,7.2 420.5,4.8 422.3,7.2" stroke="none"/><polygon points="430,15 432.5,16.6 430,18.2" stroke="none"/></g>
<polygon points="425.3,6.8 429.3,10.5 425.3,14.2" fill="#35c24a" stroke="#0a8a1a" stroke-width="0.8"/>
<rect x="440" y="0" width="1" height="21" fill="#8c8c8c" shape-rendering="crispEdges"/>
<rect x="441" y="0" width="24" height="21" fill="url(#chk)" shape-rendering="crispEdges"/>
<g stroke="#505050" stroke-width="1.1" fill="#505050"><line x1="448.5" y1="6" x2="448.5" y2="19"/><line x1="446" y1="16.6" x2="459" y2="16.6"/><polygon points="446.7,7.2 448.5,4.8 450.3,7.2" stroke="none"/><polygon points="458,15 460.5,16.6 458,18.2" stroke="none"/></g>
<path d="M454.5 5 V14.8" stroke="#1a6fa8" stroke-width="1.3"/>
<path d="M455.8 10.5 H460.3 M458.6 8 L456 10.5 L458.6 13" stroke="#d84a10" stroke-width="1.2" fill="none"/>
<rect x="469" y="0" width="1" height="21" fill="#8c8c8c" shape-rendering="crispEdges"/>
<path d="M479.5 3.5 h7.5 l3.5 3.5 v9.5 h-11 z" fill="#fbfbfb" stroke="#9a9a9a" stroke-width="0.9"/>
<path d="M484.8 6 c-1.6 -0.2 -2 0.6 -2 2 v5.5 M481.6 9.6 h3" stroke="#555" stroke-width="0.9" fill="none"/>
<path d="M487.2 9.7 h3.6 v3.5 h3.8 v3.6 h-3.8 v3.5 h-3.6 v-3.5 h-3.8 v-3.6 h3.8 z" fill="url(#gGreen)" stroke="#0a8a0a" stroke-width="0.8"/>
<polygon points="500.5,10 506.5,10 503.5,13.5" fill="#000"/>
<circle cx="525" cy="10.8" r="6.7" fill="#f6f8fb" stroke="url(#gBlue)" stroke-width="2.3"/>
<circle cx="525" cy="10.8" r="7.8" fill="none" stroke="#0a4fb0" stroke-width="0.5"/>
<path d="M524.6 7.2 V11 H527.4" stroke="#333" stroke-width="1.1" fill="none"/>
<path d="M525 5.8v1M525 14.8v1M520 10.8h1M529 10.8h1" stroke="#889" stroke-width="0.8"/>
<polygon points="539.5,10 545.5,10 542.5,13.5" fill="#000"/>
<rect x="556.5" y="4.3" width="15.2" height="13" fill="#fdfdfd" stroke="#2f6fd0" stroke-width="1.1"/>
<rect x="557" y="4.8" width="14.2" height="2.2" fill="url(#gBlue)"/>
<path d="M557 11.6 H571.2" stroke="#7aa6e0" stroke-width="0.8"/>
<path d="M558.6 10.2 l2.6 -0.6 l2.4 -1.4 l2.6 1 l3 -1" stroke="#a01808" stroke-width="1.3" fill="none"/>
<path d="M558.8 15.4 l2.6 -1 l2.4 0.8 l2.8 -2 l3 2.4" stroke="#1a8a2a" stroke-width="1.2" fill="none"/>
<polygon points="578.5,10 584.5,10 581.5,13.5" fill="#000"/>
<rect x="590" y="0" width="1" height="23" fill="#8c8c8c" shape-rendering="crispEdges"/>
<rect x="591" y="0" width="1" height="23" fill="#ffffff" shape-rendering="crispEdges"/>
<rect x="594" y="1" width="3" height="1" fill="#9a9a9a" shape-rendering="crispEdges"/>
<rect x="594" y="3" width="3" height="1" fill="#9a9a9a" shape-rendering="crispEdges"/>
<rect x="594" y="5" width="3" height="1" fill="#9a9a9a" shape-rendering="crispEdges"/>
<rect x="594" y="7" width="3" height="1" fill="#9a9a9a" shape-rendering="crispEdges"/>
<rect x="594" y="9" width="3" height="1" fill="#9a9a9a" shape-rendering="crispEdges"/>
<rect x="594" y="11" width="3" height="1" fill="#9a9a9a" shape-rendering="crispEdges"/>
<rect x="594" y="13" width="3" height="1" fill="#9a9a9a" shape-rendering="crispEdges"/>
<rect x="594" y="15" width="3" height="1" fill="#9a9a9a" shape-rendering="crispEdges"/>
<rect x="594" y="17" width="3" height="1" fill="#9a9a9a" shape-rendering="crispEdges"/>
<rect x="594" y="19" width="3" height="1" fill="#9a9a9a" shape-rendering="crispEdges"/>
<rect x="600" y="0" width="1" height="21" fill="#8c8c8c" shape-rendering="crispEdges"/>
<rect x="601" y="0" width="24" height="21" fill="url(#chk)" shape-rendering="crispEdges"/>
<path d="M608.3 4.2 V15.2 L610.8 13 L613.6 18.3 L615.4 17.4 L612.8 12.2 L616.2 11.6 Z" fill="#505050"/>
<path d="M640.5 4 V10 M640.5 12.6 V19 M633 11.3 H639 M641.8 11.3 H648" stroke="#505050" stroke-width="1.1"/>
<rect x="657" y="0" width="1" height="21" fill="#8c8c8c" shape-rendering="crispEdges"/>
<path d="M674.5 5 V18" stroke="#505050" stroke-width="1.1"/>
<path d="M697 11.3 H709" stroke="#505050" stroke-width="1.1"/>
<path d="M724.8 17.8 L737 5.8" stroke="#505050" stroke-width="1.1"/>
<path d="M751 13 L759 5 M752.5 17 L763 7 M756 18 L765 9.5" stroke="#505050" stroke-width="0.9"/>
<path d="M753.5 16.5 l1 -5 l2 3.5 l1.2 -6 l2.2 4 l1.2 -7 l1.4 6" stroke="#444" stroke-width="0.8" fill="none"/>
<path d="M780 4.5 H793" stroke="#505050" stroke-width="1" stroke-dasharray="1 1"/>
<path d="M780 7.3 H793" stroke="#505050" stroke-width="1" stroke-dasharray="1 1"/>
<path d="M780 11.3 H793" stroke="#505050" stroke-width="1" stroke-dasharray="1 1"/>
<path d="M780 15.3 H789.5" stroke="#505050" stroke-width="1" stroke-dasharray="1 1"/>
<rect x="837.5" y="5.5" width="11.4" height="12" fill="none" stroke="#505050" stroke-width="1" stroke-dasharray="1 1"/>
<polygon points="864.3,8.2 868,4.8 871.7,8.2 868,9.6" fill="#505050"/>
<polygon points="871,14 874.7,12.6 878.4,14 874.7,17.6" fill="#505050"/>
<path d="M866.5 12.4 L868.6 14.4 L872.8 9.6" stroke="#505050" stroke-width="1.1" fill="none"/>
<polygon points="884.5,10 890.5,10 887.5,13.5" fill="#000"/>
<rect x="896" y="0" width="1" height="23" fill="#8c8c8c" shape-rendering="crispEdges"/>
<rect x="897" y="0" width="1" height="23" fill="#ffffff" shape-rendering="crispEdges"/>
<rect x="900" y="1" width="3" height="1" fill="#9a9a9a" shape-rendering="crispEdges"/>
<rect x="900" y="3" width="3" height="1" fill="#9a9a9a" shape-rendering="crispEdges"/>
<rect x="900" y="5" width="3" height="1" fill="#9a9a9a" shape-rendering="crispEdges"/>
<rect x="900" y="7" width="3" height="1" fill="#9a9a9a" shape-rendering="crispEdges"/>
<rect x="900" y="9" width="3" height="1" fill="#9a9a9a" shape-rendering="crispEdges"/>
<rect x="900" y="11" width="3" height="1" fill="#9a9a9a" shape-rendering="crispEdges"/>
<rect x="900" y="13" width="3" height="1" fill="#9a9a9a" shape-rendering="crispEdges"/>
<rect x="900" y="15" width="3" height="1" fill="#9a9a9a" shape-rendering="crispEdges"/>
<rect x="900" y="17" width="3" height="1" fill="#9a9a9a" shape-rendering="crispEdges"/>
<rect x="900" y="19" width="3" height="1" fill="#9a9a9a" shape-rendering="crispEdges"/>
<rect x="1046" y="0" width="1" height="21" fill="#8c8c8c" shape-rendering="crispEdges"/>
<rect x="1047" y="0" width="24" height="21" fill="url(#chk)" shape-rendering="crispEdges"/>
<rect x="1157" y="0" width="1" height="21" fill="#8c8c8c" shape-rendering="crispEdges"/>
<circle cx="1627.5" cy="8.5" r="3.9" fill="#fafcff" stroke="#2f62d8" stroke-width="1.4"/>
<path d="M1624.6 11.6 L1620 16.2" stroke="#2a5fd0" stroke-width="2.4" stroke-linecap="round"/>
<ellipse cx="1660.3" cy="8" rx="6.4" ry="4.8" fill="#f7f7f9" stroke="#8e8e94" stroke-width="1"/>
<path d="M1662.5 12.4 l1 2.4 l1 -2.8" fill="#888" />
<ellipse cx="1651.3" cy="12.2" rx="5" ry="3.9" fill="#f1f1f6" stroke="#8e8e94" stroke-width="1"/>
<path d="M1648 15.6 l0.4 2.2 l2 -2" fill="#777"/>
</svg>
<div class="tbt cn12" style="left:14.5px;top:2.4px;letter-spacing:0.3px;">新订单</div>
<div class="tbt cn12" style="left:166.3px;top:2.4px;letter-spacing:0.1px;">自动交易</div>
<div class="tbt tf" style="left:911px;top:8px;">M1</div>
<div class="tbt tf" style="left:939.3px;top:8px;">M5</div>
<div class="tbt tf" style="left:965.2px;top:8px;">M15</div>
<div class="tbt tf" style="left:993.5px;top:8px;">M30</div>
<div class="tbt tf" style="left:1024px;top:8px;">H1</div>
<div class="tbt tf" style="left:1050.8px;top:8px;">H4</div>
<div class="tbt tf" style="left:1079.8px;top:8px;">D1</div>
<div class="tbt tf" style="left:1108px;top:8px;">W1</div>
<div class="tbt tf" style="left:1134.3px;top:8px;">MN</div>
<div class="tbt" style="left:810.5px;top:5.2px;font-size:12.4px;line-height:14px;color:#555;">A</div>
<div class="tbt" style="left:839.8px;top:5.1px;font-size:11px;line-height:14px;color:#505050;font-weight:bold;">T</div>
<div class="tbt" style="left:761.6px;top:13.2px;font-size:6.5px;line-height:7px;color:#404040;font-weight:bold;">E</div>
<div class="tbt" style="left:790px;top:13.2px;font-size:6.5px;line-height:7px;color:#404040;font-weight:bold;">F</div>
</div>
</body></html>
